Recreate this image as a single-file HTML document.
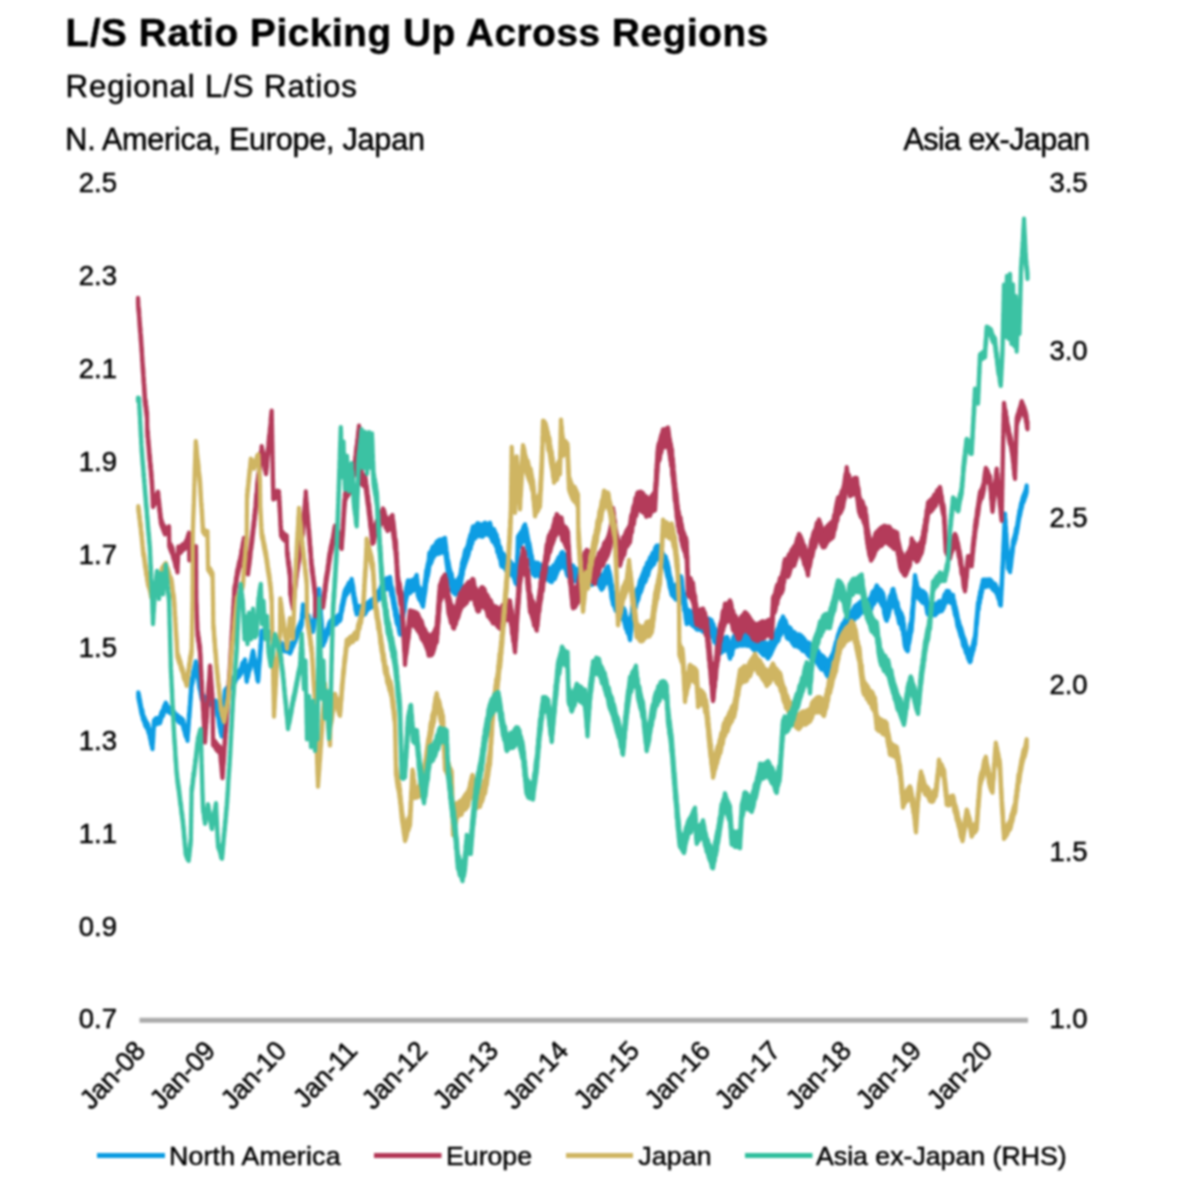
<!DOCTYPE html>
<html>
<head>
<meta charset="utf-8">
<title>L/S Ratio Picking Up Across Regions</title>
<style>
html,body{margin:0;padding:0;background:#fff;}
body{width:1200px;height:1200px;position:relative;overflow:hidden;font-family:"Liberation Sans",Arial,sans-serif;color:#111;}
.t{position:absolute;white-space:nowrap;line-height:1;color:#000;-webkit-text-stroke:0.5px #000;}
#title{left:65.5px;top:14.3px;font-size:38.6px;font-weight:bold;color:#000;letter-spacing:0.66px;}
#sub{left:65.6px;top:70.5px;font-size:31.2px;letter-spacing:0.86px;}
#lhs{left:65.3px;top:124.2px;font-size:30.6px;letter-spacing:-0.25px;}
#rhs{right:110.5px;top:124.2px;font-size:30.6px;letter-spacing:-0.6px;}
.yl{font-size:27.5px;left:78.8px;margin-top:-0.2px;}
.yr{font-size:27.5px;left:1049.4px;margin-top:-0.2px;}
.xl{font-size:27px;letter-spacing:-0.3px;transform-origin:100% 0;transform:rotate(-46.5deg);}
.lg{font-size:26.7px;top:1143px;}
svg{position:absolute;left:0;top:0;}
#page{position:absolute;left:0;top:0;width:1200px;height:1200px;background:#fff;filter:blur(1px);}
</style>
</head>
<body>
<div id="page">
<div class="t" id="title">L/S Ratio Picking Up Across Regions</div>
<div class="t" id="sub">Regional L/S Ratios</div>
<div class="t" id="lhs">N. America, Europe, Japan</div>
<div class="t" id="rhs">Asia ex-Japan</div>
<div class="t yl" style="top:169.5px">2.5</div>
<div class="t yl" style="top:262.4px">2.3</div>
<div class="t yl" style="top:355.3px">2.1</div>
<div class="t yl" style="top:448.2px">1.9</div>
<div class="t yl" style="top:541.1px">1.7</div>
<div class="t yl" style="top:634.0px">1.5</div>
<div class="t yl" style="top:726.9px">1.3</div>
<div class="t yl" style="top:819.8px">1.1</div>
<div class="t yl" style="top:912.7px">0.9</div>
<div class="t yl" style="top:1005.6px">0.7</div>
<div class="t yr" style="top:169.5px">3.5</div>
<div class="t yr" style="top:336.7px">3.0</div>
<div class="t yr" style="top:503.9px">2.5</div>
<div class="t yr" style="top:671.1px">2.0</div>
<div class="t yr" style="top:838.3px">1.5</div>
<div class="t yr" style="top:1005.5px">1.0</div>

<div class="t xl" style="right:1069.5px;top:1037px">Jan-08</div>
<div class="t xl" style="right:998.9px;top:1037px">Jan-09</div>
<div class="t xl" style="right:928.3px;top:1037px">Jan-10</div>
<div class="t xl" style="right:857.7px;top:1037px">Jan-11</div>
<div class="t xl" style="right:787.1px;top:1037px">Jan-12</div>
<div class="t xl" style="right:716.5px;top:1037px">Jan-13</div>
<div class="t xl" style="right:645.9px;top:1037px">Jan-14</div>
<div class="t xl" style="right:575.3px;top:1037px">Jan-15</div>
<div class="t xl" style="right:504.7px;top:1037px">Jan-16</div>
<div class="t xl" style="right:434.1px;top:1037px">Jan-17</div>
<div class="t xl" style="right:363.5px;top:1037px">Jan-18</div>
<div class="t xl" style="right:292.9px;top:1037px">Jan-19</div>
<div class="t xl" style="right:222.3px;top:1037px">Jan-20</div>

<svg width="1200" height="1200" viewBox="0 0 1200 1200">
<line x1="139.5" y1="1020.2" x2="1028" y2="1020.2" stroke="#ababab" stroke-width="4.9"/>
<!--SERIES-->
<polygon points="138.3,692.3 138.9,694.7 139.5,697.9 140.1,700.7 140.7,704.7 141.2,707.0 141.8,709.2 142.4,710.6 143.0,714.7 144.2,717.1 145.5,720.2 146.8,722.5 148.0,724.3 148.6,727.7 149.3,728.8 149.9,733.1 150.6,734.5 151.2,738.6 151.9,740.6 152.5,743.8 152.7,739.1 152.9,737.1 153.1,734.3 153.2,732.7 153.4,730.0 153.6,725.3 153.8,723.6 154.0,720.3 156.0,718.1 158.0,718.4 160.0,716.9 161.0,713.8 161.9,711.3 162.9,710.9 163.9,706.8 164.8,705.0 165.8,702.7 167.6,706.4 169.4,707.8 171.2,707.8 173.0,710.0 175.0,713.6 177.0,714.8 179.0,716.7 181.0,717.9 183.0,719.8 183.8,723.7 184.5,725.7 185.2,729.0 186.0,731.8 186.8,732.2 187.5,736.0 187.7,732.8 187.9,728.8 188.2,726.5 188.4,723.0 188.6,720.6 188.8,718.4 189.0,713.9 189.3,713.2 189.5,709.1 189.7,705.9 189.9,704.5 190.2,700.4 190.4,696.7 190.6,695.1 190.8,692.6 191.0,687.4 191.3,687.6 191.5,682.5 191.7,680.1 192.3,677.7 192.9,675.8 193.5,670.9 194.0,670.3 194.6,666.7 195.2,664.1 195.8,661.4 196.3,663.1 196.8,665.1 197.3,668.7 197.8,673.0 198.3,674.2 198.8,677.8 199.2,680.9 199.7,684.2 200.2,685.0 200.7,688.0 201.2,690.8 201.7,693.7 203.8,696.2 205.8,698.4 208.3,697.6 210.8,700.1 213.3,700.9 215.8,700.7 216.3,703.4 216.9,704.5 217.4,710.2 217.9,710.4 218.5,713.6 219.0,717.2 219.6,721.6 220.1,722.3 220.6,727.1 221.2,728.5 221.7,732.1 221.9,728.1 222.2,725.6 222.4,722.4 222.6,718.7 222.9,716.5 223.1,713.9 223.3,712.6 223.6,706.6 223.8,703.7 224.1,703.1 224.3,698.6 224.5,696.2 224.8,693.0 225.0,690.5 226.7,687.9 228.3,686.7 230.0,683.3 231.7,680.6 233.3,677.3 235.0,677.4 236.7,673.0 238.3,671.6 240.0,669.8 241.2,667.9 242.5,662.8 243.8,662.0 245.0,659.5 245.3,663.0 245.6,665.5 245.8,668.7 246.1,669.9 246.4,672.9 246.7,677.1 247.4,672.4 248.1,671.5 248.8,667.7 249.5,664.9 250.2,663.2 250.9,660.4 251.6,657.4 252.3,653.7 253.0,650.6 253.6,653.3 254.1,657.1 254.7,659.1 255.2,661.9 255.8,664.4 256.3,667.3 256.9,670.4 257.4,674.8 258.0,676.8 258.2,675.2 258.5,670.6 258.7,668.1 258.9,664.7 259.2,660.9 259.4,658.4 259.6,656.7 259.9,653.8 260.1,650.3 260.3,648.4 260.5,644.8 260.8,642.2 261.0,639.0 261.2,636.3 261.5,632.2 261.7,630.5 264.2,631.3 266.7,631.6 269.2,631.7 271.7,633.4 273.4,635.3 275.0,637.1 276.7,637.7 278.3,641.4 280.0,641.6 282.5,644.0 285.0,645.2 287.5,645.5 290.0,647.9 291.1,646.0 292.1,642.2 293.2,641.2 294.3,637.5 295.3,635.4 296.4,633.2 297.4,630.6 298.5,626.9 299.6,624.7 300.6,622.1 301.7,619.6 301.9,617.1 302.1,613.8 302.4,612.6 302.6,610.0 302.8,606.7 303.0,604.4 304.1,607.3 305.2,609.7 306.3,611.6 307.4,614.6 308.6,615.4 309.7,619.7 310.8,622.3 311.9,623.5 313.0,625.8 313.5,624.2 313.9,620.6 314.4,618.5 314.8,613.9 315.3,612.4 315.8,609.4 316.2,606.0 316.7,602.8 317.2,601.3 317.6,598.2 318.1,595.4 318.5,592.9 319.0,588.9 319.2,590.2 319.4,593.5 319.7,596.9 319.9,600.2 320.1,601.9 320.3,606.1 320.6,608.9 320.8,610.6 321.0,614.8 321.2,616.3 321.4,619.6 321.7,622.3 321.9,625.9 322.1,628.5 322.3,631.4 322.6,633.8 322.8,637.1 323.0,639.6 324.0,636.8 325.0,635.2 326.0,632.5 327.0,628.8 328.0,628.0 329.0,623.6 330.0,621.6 332.0,619.6 334.0,617.8 336.0,617.7 338.0,615.3 340.0,614.2 340.6,613.2 341.1,609.2 341.7,604.9 342.2,603.8 342.8,600.0 343.3,598.3 343.9,594.8 344.4,592.5 345.0,590.2 346.3,587.9 347.7,585.7 349.0,582.7 350.4,582.6 351.7,578.9 352.2,581.7 352.6,583.6 353.1,586.1 353.6,590.6 354.1,593.7 354.5,597.1 355.0,597.9 355.6,602.0 356.1,604.0 356.7,606.2 359.5,606.0 362.2,606.4 365.0,606.1 367.0,603.3 369.0,601.8 371.0,600.0 373.0,598.7 375.0,596.7 376.4,593.4 377.9,591.7 379.3,591.0 380.7,587.6 382.1,583.9 383.6,581.7 385.0,580.4 386.7,578.2 388.3,578.6 390.0,576.9 390.5,580.4 391.0,584.6 391.5,586.2 392.1,587.7 392.6,589.9 393.1,594.8 393.6,595.9 394.1,599.2 394.6,602.5 395.2,605.8 395.7,607.7 396.2,609.5 396.7,613.0 397.5,616.0 398.4,617.4 399.2,622.6 400.0,624.7 400.5,621.7 401.1,618.6 401.6,616.5 402.1,612.9 402.7,609.2 403.2,607.7 403.7,603.9 404.3,601.9 404.8,598.3 405.3,593.8 405.9,591.5 406.4,587.1 406.9,586.0 407.5,582.0 408.0,580.3 409.0,581.6 410.0,583.1 411.7,580.1 413.4,579.8 415.0,578.4 416.7,574.9 417.0,577.6 417.4,580.2 417.7,584.1 418.0,586.8 419.2,586.8 420.5,591.3 421.8,591.4 423.0,594.9 423.4,590.7 423.8,588.2 424.2,587.4 424.6,584.1 425.1,580.4 425.5,578.2 425.9,574.3 426.3,570.4 426.7,569.6 427.2,567.1 427.8,563.8 428.4,562.2 428.9,558.3 429.4,552.7 430.0,552.6 431.3,550.6 432.7,546.6 434.0,546.4 435.4,544.5 436.7,541.6 439.5,539.6 442.2,539.6 445.0,537.9 445.4,542.2 445.8,544.6 446.1,546.7 446.5,551.0 446.9,552.3 447.2,555.6 447.6,558.6 448.0,559.8 448.7,563.2 449.4,567.5 450.1,570.1 450.9,572.9 451.6,573.6 452.3,578.0 453.0,579.6 455.5,582.3 458.0,579.4 459.0,577.3 460.0,576.4 460.4,574.2 460.9,571.4 461.3,568.4 461.7,566.3 462.1,562.6 462.6,561.4 463.0,559.6 463.8,557.6 464.7,552.5 465.5,549.4 466.3,550.3 467.2,546.8 468.0,544.8 468.8,540.6 469.7,537.6 470.5,534.7 471.3,533.6 472.2,529.7 473.0,526.3 475.3,526.2 477.7,523.1 480.0,524.4 482.5,524.6 485.0,522.6 487.5,524.5 490.0,522.7 491.3,528.0 492.7,529.2 494.0,529.2 495.4,532.9 496.7,535.1 497.4,540.1 498.1,539.5 498.8,544.3 499.6,546.9 500.3,546.9 501.0,550.3 501.7,554.7 503.4,553.6 505.0,557.0 506.7,558.0 508.5,559.2 510.2,561.0 512.0,563.9 513.2,564.6 514.4,568.4 515.5,570.1 516.7,570.2 516.8,568.9 516.9,565.4 517.0,561.4 517.1,559.5 517.2,555.9 517.4,554.4 517.5,551.2 517.6,548.2 517.7,544.9 517.8,541.5 517.9,537.0 518.0,536.7 519.4,534.4 520.8,532.3 522.2,530.6 523.6,526.7 525.0,524.4 525.6,527.8 526.2,528.0 526.8,532.2 527.5,535.5 528.1,539.0 528.7,542.0 529.3,543.0 529.9,546.6 530.5,549.9 531.2,554.4 531.8,555.9 532.4,560.1 533.0,562.6 535.3,562.5 537.7,562.8 540.0,564.4 542.3,566.3 544.7,565.9 547.0,567.5 549.4,568.0 551.7,570.1 553.1,565.7 554.6,566.0 556.0,562.6 557.3,560.3 558.6,557.2 559.9,557.4 561.2,553.1 562.5,551.9 563.6,553.9 564.7,554.3 565.8,557.7 566.9,562.6 568.0,562.3 570.3,566.0 572.7,565.3 575.0,568.6 577.5,569.1 580.0,571.4 582.5,573.5 585.0,572.8 587.3,574.8 589.7,570.9 592.0,571.0 594.4,569.8 596.7,568.5 597.8,572.1 598.9,573.0 600.0,574.5 601.5,575.2 603.0,576.4 604.2,573.2 605.5,569.8 606.8,568.0 608.0,566.3 608.7,569.3 609.3,571.3 610.0,574.2 610.5,577.0 611.0,580.3 611.5,584.3 612.0,585.0 612.5,589.5 613.0,593.0 614.4,594.5 615.8,596.2 617.2,598.3 618.6,600.0 620.0,603.6 621.2,605.5 622.5,607.2 623.8,608.2 625.0,610.8 625.8,616.1 626.7,617.1 627.5,621.0 628.3,619.8 629.2,624.3 630.0,627.5 630.4,624.6 630.8,621.0 631.1,617.3 631.5,613.8 631.9,611.5 632.2,607.9 632.6,605.4 633.0,604.3 633.9,601.2 634.8,597.8 635.6,596.2 636.5,592.2 637.4,588.6 638.2,588.0 639.1,585.0 640.0,580.5 641.0,578.6 642.0,575.8 643.0,573.3 644.0,570.8 645.0,567.6 646.0,568.2 647.0,563.1 648.0,562.0 649.0,560.8 650.0,557.5 651.3,556.2 652.7,552.9 654.0,552.8 655.4,547.6 656.7,545.6 658.4,545.7 660.0,545.5 661.1,547.0 662.2,551.7 663.4,554.7 664.5,555.7 665.6,556.5 666.7,560.7 667.3,561.6 668.0,565.4 668.6,567.4 669.2,571.7 669.8,575.2 670.5,577.5 671.1,579.3 671.7,583.2 673.9,585.8 676.0,586.2 677.2,583.5 678.5,582.3 679.8,578.3 681.0,576.2 681.5,577.9 682.0,581.5 682.4,586.4 682.9,589.3 683.4,592.1 683.9,593.5 684.3,596.2 684.8,597.2 685.3,601.8 685.8,605.5 686.2,607.2 686.7,609.8 689.5,610.4 692.2,612.9 695.0,614.0 697.0,616.2 699.0,615.4 701.0,618.3 703.0,619.2 705.9,619.5 708.8,618.6 711.7,620.4 712.5,623.5 713.4,624.2 714.2,628.8 715.0,628.4 716.0,630.9 717.0,633.8 718.0,636.1 719.0,639.0 720.0,641.6 722.2,639.1 724.5,638.2 726.7,636.8 727.5,637.6 728.4,641.6 729.2,643.4 730.0,646.7 731.0,643.5 732.0,642.7 733.0,638.1 734.0,636.1 735.0,634.8 737.3,633.1 739.7,633.2 742.0,634.1 744.0,631.7 746.0,633.6 748.0,632.3 750.2,632.8 752.4,633.8 754.5,637.1 756.7,635.9 759.0,639.2 761.2,640.7 763.5,642.4 765.7,642.3 768.0,646.4 769.4,643.5 770.8,641.0 772.2,637.8 773.6,637.4 775.0,635.1 776.1,633.0 777.3,629.4 778.4,627.8 779.6,623.7 780.7,621.2 781.9,619.2 783.0,616.5 784.2,619.4 785.5,620.6 786.8,625.2 788.0,626.7 790.2,627.6 792.4,631.9 794.5,632.2 796.7,635.0 798.7,634.3 800.7,635.1 802.7,637.2 804.7,639.6 806.7,643.0 808.9,642.6 811.1,646.5 813.4,649.2 815.6,649.9 817.8,650.3 820.0,654.3 821.6,655.2 823.2,656.3 824.8,658.2 826.4,659.8 828.0,664.1 829.2,661.9 830.5,658.0 831.8,655.5 833.0,653.2 833.7,651.1 834.4,648.0 835.1,645.6 835.9,642.1 836.6,641.2 837.3,638.0 838.0,635.0 839.2,631.6 840.3,628.3 841.5,626.2 842.7,623.4 843.8,622.9 845.0,619.9 846.6,617.3 848.2,616.4 849.8,612.7 851.4,612.0 853.0,609.6 855.0,606.1 857.0,604.8 859.0,603.0 861.0,601.3 863.0,601.9 865.3,600.9 867.7,600.2 870.0,598.7 871.3,596.0 872.7,591.7 874.0,591.0 875.4,588.8 876.7,585.4 878.3,588.2 879.9,589.2 881.4,590.8 883.0,593.3 883.6,595.9 884.2,600.1 884.9,602.5 885.5,604.5 886.1,605.9 886.7,608.6 887.4,605.6 888.2,603.5 888.9,601.7 889.6,597.5 890.3,595.6 891.0,595.2 891.8,592.3 892.5,589.4 893.3,588.9 894.2,593.4 895.0,595.4 895.9,599.6 896.7,601.6 897.5,602.5 898.4,608.5 899.2,609.4 900.0,612.2 901.0,612.5 902.0,615.1 903.0,618.0 903.3,621.8 903.7,623.1 904.0,625.4 904.3,628.9 904.7,632.5 905.0,633.2 905.8,636.8 906.7,637.7 907.5,640.3 908.0,638.2 908.5,634.6 909.1,631.7 909.6,628.3 910.1,624.7 910.7,622.7 911.2,622.2 911.7,616.9 911.9,612.3 912.2,610.4 912.4,608.2 912.6,606.9 912.9,603.2 913.1,598.9 913.4,596.3 913.6,593.0 913.8,590.0 914.1,586.9 914.3,586.3 914.5,582.4 914.8,578.4 915.0,575.1 915.8,579.5 916.5,581.8 917.2,586.0 918.0,587.8 920.3,590.2 922.7,590.9 925.0,593.0 925.8,594.1 926.5,597.3 927.2,602.5 928.0,603.1 930.3,604.3 932.7,602.9 935.0,604.9 937.2,603.2 939.5,601.1 941.7,602.6 942.7,601.4 943.7,597.8 944.7,594.1 945.7,594.3 946.7,590.9 948.8,591.1 950.9,595.3 953.0,594.8 953.6,600.0 954.2,600.8 954.9,605.1 955.5,606.5 956.1,609.1 956.8,612.3 957.4,615.5 958.0,619.0 958.8,621.2 959.7,624.9 960.5,626.6 961.3,628.8 962.2,632.3 963.0,635.3 964.0,637.8 965.0,640.2 966.0,644.5 967.0,646.9 968.0,650.4 969.0,652.5 970.0,653.5 970.7,652.2 971.4,649.3 972.1,646.7 972.9,644.7 973.6,641.4 974.3,638.9 975.0,636.2 975.2,634.4 975.5,631.6 975.8,628.8 976.0,624.9 976.2,622.1 976.5,619.2 976.8,616.8 977.0,614.0 977.2,612.0 977.5,608.8 977.8,604.9 978.0,602.6 978.6,602.0 979.1,597.5 979.7,595.6 980.2,591.5 980.8,590.5 981.3,587.9 981.9,584.8 982.4,583.0 983.0,579.7 985.3,579.7 987.7,579.6 990.0,579.3 991.7,581.2 993.4,583.5 995.0,583.8 996.7,587.1 997.5,589.9 998.3,592.8 999.2,593.5 1000.0,597.9 1000.8,599.0 1000.9,596.2 1001.1,594.3 1001.2,589.8 1001.4,587.8 1001.5,584.6 1001.7,582.5 1001.8,580.5 1002.0,578.2 1002.1,574.5 1002.3,571.1 1002.4,566.9 1002.6,565.6 1002.7,562.6 1002.9,560.2 1003.0,556.3 1003.1,553.3 1003.3,551.6 1003.4,547.3 1003.5,544.9 1003.7,541.2 1003.8,539.8 1003.9,537.8 1004.1,532.0 1004.2,530.4 1004.3,528.3 1004.5,523.4 1004.6,520.0 1004.7,519.0 1004.9,516.6 1005.0,513.5 1005.2,517.4 1005.4,519.5 1005.5,520.7 1005.7,524.9 1005.9,527.1 1006.1,531.4 1006.2,532.2 1006.4,534.9 1006.6,538.8 1006.8,543.5 1006.9,544.1 1007.1,546.9 1007.3,549.4 1007.5,553.0 1007.6,557.0 1007.8,558.3 1008.0,561.3 1009.0,563.7 1010.0,565.3 1010.3,563.5 1010.7,560.4 1011.0,558.5 1011.3,555.7 1011.7,551.4 1012.0,549.6 1012.3,548.0 1012.7,545.6 1013.0,541.3 1013.6,539.0 1014.2,537.4 1014.9,534.9 1015.5,532.6 1016.1,528.3 1016.7,527.4 1017.2,525.2 1017.6,523.0 1018.1,519.5 1018.6,516.1 1019.1,513.8 1019.5,510.5 1020.0,509.5 1020.6,506.0 1021.2,502.9 1021.8,502.0 1022.4,498.8 1023.0,496.8 1023.9,494.7 1024.8,492.7 1025.8,489.6 1026.7,485.5 1026.7,492.0 1025.8,495.6 1024.8,498.1 1023.9,501.3 1023.0,502.9 1022.4,504.0 1021.8,507.4 1021.2,509.5 1020.6,512.1 1020.0,515.4 1019.5,516.9 1019.1,518.9 1018.6,521.7 1018.1,524.8 1017.6,528.1 1017.2,530.4 1016.7,533.5 1016.1,535.2 1015.5,539.5 1014.9,540.6 1014.2,543.7 1013.6,544.6 1013.0,547.5 1012.7,551.4 1012.3,554.1 1012.0,556.6 1011.7,558.2 1011.3,562.5 1011.0,565.1 1010.7,567.6 1010.3,569.6 1010.0,572.2 1009.0,569.2 1008.0,568.6 1007.8,565.1 1007.6,562.9 1007.5,559.3 1007.3,555.2 1007.1,553.2 1006.9,550.7 1006.8,548.8 1006.6,545.9 1006.4,541.3 1006.2,538.5 1006.1,537.5 1005.9,533.9 1005.7,529.9 1005.5,527.1 1005.4,525.7 1005.2,522.6 1005.0,518.6 1004.9,522.6 1004.7,525.7 1004.6,526.8 1004.5,530.7 1004.3,534.2 1004.2,536.8 1004.1,539.6 1003.9,543.8 1003.8,546.2 1003.7,548.2 1003.5,551.6 1003.4,553.2 1003.3,558.4 1003.1,560.5 1003.0,563.1 1002.9,566.5 1002.7,569.2 1002.6,572.8 1002.4,573.8 1002.3,577.0 1002.1,580.2 1002.0,584.7 1001.8,586.6 1001.7,589.3 1001.5,591.5 1001.4,594.6 1001.2,596.8 1001.1,600.7 1000.9,603.3 1000.8,605.7 1000.0,604.8 999.2,599.9 998.3,598.6 997.5,595.4 996.7,593.6 995.0,591.0 993.4,590.1 991.7,588.0 990.0,585.3 987.7,586.4 985.3,586.9 983.0,585.6 982.4,589.7 981.9,592.4 981.3,594.2 980.8,598.1 980.2,599.1 979.7,603.2 979.1,604.5 978.6,609.6 978.0,610.7 977.8,613.2 977.5,616.9 977.2,619.9 977.0,622.5 976.8,624.2 976.5,626.2 976.2,628.4 976.0,632.8 975.8,635.6 975.5,638.1 975.2,641.3 975.0,644.4 974.3,645.8 973.6,649.8 972.9,651.3 972.1,654.9 971.4,656.6 970.7,661.1 970.0,662.3 969.0,660.1 968.0,658.0 967.0,653.9 966.0,653.0 965.0,648.7 964.0,647.1 963.0,645.0 962.2,640.1 961.3,637.6 960.5,635.6 959.7,632.4 958.8,629.6 958.0,627.4 957.4,625.3 956.8,621.2 956.1,617.1 955.5,616.1 954.9,614.3 954.2,610.2 953.6,608.1 953.0,603.6 950.9,602.9 948.8,601.6 946.7,600.2 945.7,603.2 944.7,604.5 943.7,607.7 942.7,609.6 941.7,611.2 939.5,611.5 937.2,612.9 935.0,615.4 932.7,614.1 930.3,615.1 928.0,614.6 927.2,612.6 926.5,607.7 925.8,605.0 925.0,602.7 922.7,602.8 920.3,600.1 918.0,597.9 917.2,596.1 916.5,594.6 915.8,590.7 915.0,587.8 914.8,589.7 914.5,593.6 914.3,598.1 914.1,598.9 913.8,603.2 913.6,603.3 913.4,607.2 913.1,611.1 912.9,614.2 912.6,619.1 912.4,620.8 912.2,622.9 911.9,625.0 911.7,629.4 911.2,632.5 910.7,633.3 910.1,637.8 909.6,640.6 909.1,643.3 908.5,645.1 908.0,650.2 907.5,651.2 906.7,650.1 905.8,649.0 905.0,646.4 904.7,645.1 904.3,641.6 904.0,639.0 903.7,635.5 903.3,635.0 903.0,630.8 902.0,629.5 901.0,624.6 900.0,624.1 899.2,623.4 898.4,619.4 897.5,615.2 896.7,613.8 895.9,610.0 895.0,607.5 894.2,605.7 893.3,601.0 892.5,600.5 891.8,604.7 891.0,607.4 890.3,608.0 889.6,610.9 888.9,613.8 888.2,617.2 887.4,618.1 886.7,620.8 886.1,619.8 885.5,618.2 884.9,615.9 884.2,613.1 883.6,607.5 883.0,607.0 881.4,604.2 879.9,601.3 878.3,598.4 876.7,600.0 875.4,601.3 874.0,604.0 872.7,604.4 871.3,609.1 870.0,611.6 867.7,611.6 865.3,611.7 863.0,611.9 861.0,613.0 859.0,615.5 857.0,617.5 855.0,618.1 853.0,622.2 851.4,623.0 849.8,625.6 848.2,628.6 846.6,630.6 845.0,630.2 843.8,633.6 842.7,636.2 841.5,638.9 840.3,639.9 839.2,644.5 838.0,647.1 837.3,649.1 836.6,651.8 835.9,654.9 835.1,657.0 834.4,660.8 833.7,661.9 833.0,666.1 831.8,668.8 830.5,671.1 829.2,672.6 828.0,676.9 826.4,674.5 824.8,670.9 823.2,668.5 821.6,669.5 820.0,667.2 817.8,663.9 815.6,660.3 813.4,659.8 811.1,657.8 808.9,656.3 806.7,653.2 804.7,651.0 802.7,650.9 800.7,648.2 798.7,647.4 796.7,645.8 794.5,646.1 792.4,643.1 790.2,639.2 788.0,638.9 786.8,637.6 785.5,632.2 784.2,630.4 783.0,630.0 781.9,632.4 780.7,635.2 779.6,635.8 778.4,640.8 777.3,640.9 776.1,643.4 775.0,645.0 773.6,647.9 772.2,651.0 770.8,654.3 769.4,656.4 768.0,658.5 765.7,655.0 763.5,655.3 761.2,652.9 759.0,650.1 756.7,648.9 754.5,650.5 752.4,648.4 750.2,645.6 748.0,645.9 746.0,645.4 744.0,645.3 742.0,645.7 739.7,644.9 737.3,646.4 735.0,645.8 734.0,647.8 733.0,649.1 732.0,655.1 731.0,654.9 730.0,658.6 729.2,655.6 728.4,652.4 727.5,650.0 726.7,649.5 724.5,650.7 722.2,652.0 720.0,653.6 719.0,651.6 718.0,647.4 717.0,646.6 716.0,642.1 715.0,642.6 714.2,641.8 713.4,637.6 712.5,637.3 711.7,632.1 708.8,631.9 705.9,629.6 703.0,631.8 701.0,629.9 699.0,629.5 697.0,629.6 695.0,627.3 692.2,625.3 689.5,622.1 686.7,624.1 686.2,620.5 685.8,618.7 685.3,614.1 684.8,609.5 684.3,610.6 683.9,604.4 683.4,604.5 682.9,600.6 682.4,598.1 682.0,593.9 681.5,590.6 681.0,589.0 679.8,591.4 678.5,593.3 677.2,594.8 676.0,599.6 673.9,597.1 671.7,594.9 671.1,592.0 670.5,589.5 669.8,587.6 669.2,583.9 668.6,580.0 668.0,578.3 667.3,576.2 666.7,573.3 665.6,568.7 664.5,566.3 663.4,566.2 662.2,564.9 661.1,559.9 660.0,558.8 658.4,559.2 656.7,559.6 655.4,559.7 654.0,564.4 652.7,564.9 651.3,567.1 650.0,568.4 649.0,571.0 648.0,575.7 647.0,576.2 646.0,579.9 645.0,582.2 644.0,581.8 643.0,585.2 642.0,588.4 641.0,591.6 640.0,593.3 639.1,595.6 638.2,599.9 637.4,601.1 636.5,603.4 635.6,608.3 634.8,609.1 633.9,612.3 633.0,615.8 632.6,619.2 632.2,621.5 631.9,625.0 631.5,627.3 631.1,631.4 630.8,632.6 630.4,637.3 630.0,640.1 629.2,636.4 628.3,632.5 627.5,633.0 626.7,629.6 625.8,628.6 625.0,624.9 623.8,619.9 622.5,619.0 621.2,617.4 620.0,617.3 618.6,613.6 617.2,611.8 615.8,610.8 614.4,606.4 613.0,604.5 612.5,601.3 612.0,599.6 611.5,597.3 611.0,591.6 610.5,589.4 610.0,586.2 609.3,583.2 608.7,582.8 608.0,579.2 606.8,579.8 605.5,583.8 604.2,585.1 603.0,588.1 601.5,589.7 600.0,587.0 598.9,585.0 597.8,582.7 596.7,582.4 594.4,582.2 592.0,585.0 589.7,583.6 587.3,584.9 585.0,585.6 582.5,585.1 580.0,585.2 577.5,581.7 575.0,581.3 572.7,578.3 570.3,576.9 568.0,576.5 566.9,574.7 565.8,569.3 564.7,568.6 563.6,565.3 562.5,563.7 561.2,565.9 559.9,568.6 558.6,569.5 557.3,572.4 556.0,575.6 554.6,579.1 553.1,578.7 551.7,582.1 549.4,581.0 547.0,579.0 544.7,578.0 542.3,579.1 540.0,577.1 537.7,573.6 535.3,576.3 533.0,574.0 532.4,571.1 531.8,567.0 531.2,566.0 530.5,562.0 529.9,557.6 529.3,555.8 528.7,553.3 528.1,550.2 527.5,547.9 526.8,544.3 526.2,540.5 525.6,539.0 525.0,535.2 523.6,539.4 522.2,542.5 520.8,544.2 519.4,546.6 518.0,548.8 517.9,551.4 517.8,555.0 517.7,555.0 517.6,561.0 517.5,563.3 517.4,565.6 517.2,569.0 517.1,572.1 517.0,575.2 516.9,577.3 516.8,582.5 516.7,584.5 515.5,583.2 514.4,579.1 513.2,576.3 512.0,575.2 510.2,574.4 508.5,573.6 506.7,571.7 505.0,568.6 503.4,566.9 501.7,566.5 501.0,564.5 500.3,559.3 499.6,558.4 498.8,555.9 498.1,551.9 497.4,552.4 496.7,547.4 495.4,545.3 494.0,541.4 492.7,541.8 491.3,538.3 490.0,535.8 487.5,534.7 485.0,534.1 482.5,536.8 480.0,536.3 477.7,535.0 475.3,538.4 473.0,539.6 472.2,543.5 471.3,544.9 470.5,549.0 469.7,548.2 468.8,553.2 468.0,556.1 467.2,558.4 466.3,560.9 465.5,563.1 464.7,565.4 463.8,568.5 463.0,570.6 462.6,575.0 462.1,575.3 461.7,578.9 461.3,580.5 460.9,585.0 460.4,587.3 460.0,589.8 459.0,590.2 458.0,592.0 455.5,594.6 453.0,592.2 452.3,591.0 451.6,587.8 450.9,583.3 450.1,582.0 449.4,579.6 448.7,574.5 448.0,572.7 447.6,570.4 447.2,566.8 446.9,565.1 446.5,562.3 446.1,558.6 445.8,556.7 445.4,554.2 445.0,550.9 442.2,552.6 439.5,553.4 436.7,554.1 435.4,554.6 434.0,556.6 432.7,558.3 431.3,562.7 430.0,564.8 429.4,564.9 428.9,569.6 428.4,572.9 427.8,576.2 427.2,577.4 426.7,581.4 426.3,581.8 425.9,585.6 425.5,589.8 425.1,592.7 424.6,595.3 424.2,597.8 423.8,601.1 423.4,603.4 423.0,606.7 421.8,603.7 420.5,600.6 419.2,599.4 418.0,595.9 417.7,595.0 417.4,590.8 417.0,589.4 416.7,585.9 415.0,587.0 413.4,590.8 411.7,590.9 410.0,593.3 409.0,592.7 408.0,589.4 407.5,592.5 406.9,596.5 406.4,598.1 405.9,600.5 405.3,603.2 404.8,608.6 404.3,611.4 403.7,612.8 403.2,617.1 402.7,619.1 402.1,622.9 401.6,626.3 401.1,628.3 400.5,630.9 400.0,634.7 399.2,631.6 398.4,626.5 397.5,624.8 396.7,623.1 396.2,620.0 395.7,617.1 395.2,615.8 394.6,610.1 394.1,609.1 393.6,605.9 393.1,603.3 392.6,600.0 392.1,597.2 391.5,595.9 391.0,593.1 390.5,588.3 390.0,585.7 388.3,589.2 386.7,587.0 385.0,589.8 383.6,591.0 382.1,594.0 380.7,595.1 379.3,599.0 377.9,599.9 376.4,601.9 375.0,604.7 373.0,606.2 371.0,607.5 369.0,608.9 367.0,610.3 365.0,614.2 362.2,615.3 359.5,612.9 356.7,614.4 356.1,611.6 355.6,610.3 355.0,605.0 354.5,603.3 354.1,600.7 353.6,597.7 353.1,594.2 352.6,591.9 352.2,588.7 351.7,585.6 350.4,589.1 349.0,589.4 347.7,593.2 346.3,594.9 345.0,596.9 344.4,599.5 343.9,601.7 343.3,605.1 342.8,606.4 342.2,610.7 341.7,612.0 341.1,614.9 340.6,619.3 340.0,620.8 338.0,621.9 336.0,624.5 334.0,624.6 332.0,626.8 330.0,628.4 329.0,629.3 328.0,634.2 327.0,635.3 326.0,638.4 325.0,641.3 324.0,642.9 323.0,645.8 322.8,642.8 322.6,639.4 322.3,636.6 322.1,633.8 321.9,631.0 321.7,628.0 321.4,624.7 321.2,622.3 321.0,620.4 320.8,616.9 320.6,615.0 320.3,612.6 320.1,608.7 319.9,606.2 319.7,603.4 319.4,600.0 319.2,596.7 319.0,595.0 318.5,598.3 318.1,600.3 317.6,603.8 317.2,606.3 316.7,608.7 316.2,612.3 315.8,614.9 315.3,618.5 314.8,620.1 314.4,624.0 313.9,626.7 313.5,629.5 313.0,631.9 311.9,629.3 310.8,628.6 309.7,625.0 308.6,621.0 307.4,619.1 306.3,617.0 305.2,615.1 304.1,612.7 303.0,609.7 302.8,612.8 302.6,615.4 302.4,618.1 302.1,619.0 301.9,622.8 301.7,625.2 300.6,628.6 299.6,631.0 298.5,632.0 297.4,635.6 296.4,638.6 295.3,641.5 294.3,643.4 293.2,646.4 292.1,647.9 291.1,651.4 290.0,653.5 287.5,651.3 285.0,651.4 282.5,650.1 280.0,647.4 278.3,646.9 276.7,644.2 275.0,642.5 273.4,641.2 271.7,638.5 269.2,637.5 266.7,636.9 264.2,637.4 261.7,636.1 261.5,638.3 261.2,642.3 261.0,644.4 260.8,648.1 260.5,651.4 260.3,653.3 260.1,656.3 259.9,660.1 259.6,662.5 259.4,664.6 259.2,666.6 258.9,670.3 258.7,673.9 258.5,677.0 258.2,680.4 258.0,681.6 257.4,679.9 256.9,675.8 256.3,673.0 255.8,670.7 255.2,667.2 254.7,664.7 254.1,662.8 253.6,659.0 253.0,656.3 252.3,659.8 251.6,662.8 250.9,665.3 250.2,669.1 249.5,670.4 248.8,672.7 248.1,676.7 247.4,678.0 246.7,681.8 246.4,678.7 246.1,675.7 245.8,673.6 245.6,670.3 245.3,668.4 245.0,664.5 243.8,668.2 242.5,668.2 241.2,673.3 240.0,675.2 238.3,677.4 236.7,678.5 235.0,682.4 233.3,682.5 231.7,686.7 230.0,689.0 228.3,691.4 226.7,694.2 225.0,696.2 224.8,697.8 224.5,701.9 224.3,704.1 224.1,708.4 223.8,708.9 223.6,713.0 223.3,717.6 223.1,719.9 222.9,721.9 222.6,723.9 222.4,727.4 222.2,730.9 221.9,733.7 221.7,736.5 221.2,734.1 220.6,732.7 220.1,728.6 219.6,727.2 219.0,723.5 218.5,719.1 217.9,716.0 217.4,715.9 216.9,710.4 216.3,709.0 215.8,705.8 213.3,706.0 210.8,704.7 208.3,702.5 205.8,702.9 203.8,702.3 201.7,699.0 201.2,696.1 200.7,693.7 200.2,690.1 199.7,689.3 199.2,686.6 198.8,683.1 198.3,679.7 197.8,678.0 197.3,673.7 196.8,670.8 196.3,668.2 195.8,666.8 195.2,669.7 194.6,671.7 194.0,675.9 193.5,676.5 192.9,681.2 192.3,683.9 191.7,685.9 191.5,687.3 191.3,692.1 191.0,693.5 190.8,698.4 190.6,700.0 190.4,702.6 190.2,705.7 189.9,709.5 189.7,712.0 189.5,714.9 189.3,717.9 189.0,719.2 188.8,723.5 188.6,725.8 188.4,728.4 188.2,732.0 187.9,734.0 187.7,737.4 187.5,740.8 186.8,737.5 186.0,737.2 185.2,734.7 184.5,731.3 183.8,729.5 183.0,725.6 181.0,722.9 179.0,722.4 177.0,719.5 175.0,718.3 173.0,715.8 171.2,713.5 169.4,712.7 167.6,711.4 165.8,707.9 164.8,710.3 163.9,712.8 162.9,716.0 161.9,716.7 161.0,719.7 160.0,723.2 158.0,723.7 156.0,724.3 154.0,726.0 153.8,729.2 153.6,730.5 153.4,735.2 153.2,738.4 153.1,740.0 152.9,743.1 152.7,744.5 152.5,749.2 151.9,746.2 151.2,744.0 150.6,740.2 149.9,737.8 149.3,733.9 148.6,733.0 148.0,730.1 146.8,728.0 145.5,726.3 144.2,721.9 143.0,719.3 142.4,716.0 141.8,714.9 141.2,712.3 140.7,709.5 140.1,706.4 139.5,703.4 138.9,700.6 138.3,697.2" fill="#0d9de3" stroke="#0d9de3" stroke-width="4.2" stroke-linejoin="round"/>
<polygon points="138.0,297.9 138.2,300.9 138.4,304.4 138.6,306.7 138.9,308.8 139.1,311.1 139.3,315.7 139.5,318.0 139.7,321.1 139.9,323.0 140.1,326.7 140.4,328.3 140.6,332.7 140.8,334.7 141.0,336.7 141.2,339.9 141.4,343.1 141.6,346.7 141.8,347.8 142.0,352.1 142.1,355.6 142.3,357.0 142.5,361.1 142.7,363.7 142.9,366.3 143.1,368.0 143.3,370.4 143.5,375.2 143.7,377.6 143.9,380.5 144.0,382.4 144.2,384.4 144.4,388.5 144.6,390.7 144.8,395.0 145.0,397.6 145.3,399.5 145.7,400.9 146.0,404.5 146.3,406.2 146.7,410.9 147.0,412.1 147.1,415.8 147.1,417.4 147.2,420.5 147.2,422.9 147.2,425.8 147.3,426.6 147.5,431.6 147.8,431.2 148.0,435.2 148.3,438.9 148.5,440.6 148.8,444.8 149.0,447.1 149.2,449.1 149.5,453.8 149.8,455.0 150.0,457.7 150.2,461.8 150.5,463.6 150.8,465.8 151.0,468.9 151.2,470.8 151.5,473.7 151.8,478.7 152.0,480.3 152.1,483.0 152.2,484.3 152.4,489.0 152.5,490.1 152.6,492.7 152.8,496.8 152.9,498.7 153.0,501.0 154.2,497.9 155.5,496.9 156.8,494.1 158.0,491.8 158.3,493.6 158.6,499.3 158.9,499.6 159.2,502.7 159.6,506.2 159.9,508.2 160.2,512.4 160.5,514.0 160.8,517.5 161.9,521.5 162.9,524.0 163.9,525.6 165.0,528.1 167.0,528.1 169.0,526.3 169.1,528.1 169.1,531.8 169.2,534.2 169.2,536.4 169.2,538.2 169.3,541.3 170.1,544.1 170.9,544.7 171.7,546.4 172.5,548.1 173.4,553.5 174.2,554.9 175.0,557.4 175.8,561.7 176.7,562.8 177.5,566.7 177.6,561.9 177.7,559.3 177.8,558.8 178.0,554.5 178.1,552.4 178.2,550.1 178.3,546.6 180.5,546.5 182.8,544.2 185.0,543.4 186.0,540.9 187.0,539.4 188.0,535.6 189.0,532.7 189.0,534.8 189.1,538.3 189.1,540.8 189.2,543.0 189.2,546.3 189.2,548.7 189.3,552.5 189.3,555.6 191.2,554.2 193.0,552.8 194.0,551.6 195.0,549.1 196.0,546.2 196.0,549.5 196.0,551.6 196.1,554.4 196.1,556.9 196.1,560.0 196.1,563.5 196.1,566.3 196.1,569.5 196.2,570.9 196.2,573.6 196.2,577.4 196.2,579.0 196.2,582.2 196.2,586.9 196.2,587.2 196.3,591.5 196.3,594.3 196.3,596.7 196.4,600.5 196.5,603.4 196.6,604.0 196.7,606.8 196.8,611.6 196.9,614.5 197.0,615.9 197.1,619.7 197.2,622.5 197.3,624.0 197.4,627.0 197.5,630.5 197.9,631.6 198.3,635.9 198.8,638.0 199.2,642.1 199.6,644.1 200.0,646.7 200.1,649.3 200.3,653.5 200.4,654.8 200.6,656.7 200.7,660.9 200.8,663.8 201.0,667.5 201.1,669.3 201.3,671.8 201.4,673.9 201.6,678.4 201.7,679.5 201.9,682.5 202.0,686.0 202.2,690.4 202.4,692.4 202.6,696.1 202.7,697.2 202.9,701.7 203.1,704.2 203.3,705.3 203.4,711.1 203.6,713.4 203.8,714.9 204.0,719.0 204.1,721.7 204.3,723.4 204.5,727.5 204.7,729.8 204.8,733.7 205.0,735.7 205.2,734.2 205.4,730.3 205.6,728.9 205.8,723.2 206.0,722.7 206.2,718.3 206.5,716.9 206.7,713.2 206.9,710.9 207.1,706.0 207.3,702.4 207.5,701.5 207.7,698.7 207.9,695.7 208.1,691.5 208.3,688.6 208.5,685.8 208.8,682.0 209.0,681.5 209.2,678.7 209.4,676.0 209.6,672.2 209.8,668.6 210.0,665.6 210.2,667.2 210.5,672.3 210.7,673.8 210.9,677.8 211.1,679.5 211.4,682.9 211.6,685.3 211.8,687.3 212.0,691.7 212.3,693.6 212.5,697.6 212.5,700.1 212.6,702.0 212.6,704.9 212.6,707.4 212.7,711.8 212.7,714.2 212.7,716.5 212.8,719.2 212.8,722.7 212.8,725.7 212.9,727.7 212.9,729.4 212.9,732.4 213.0,736.1 213.0,738.8 214.8,741.0 216.5,743.3 218.2,745.6 220.0,746.8 220.3,749.7 220.6,752.0 220.8,754.6 221.1,758.4 221.4,761.3 221.7,765.1 221.9,766.3 222.2,769.4 222.5,771.8 222.7,769.9 222.9,766.7 223.1,763.7 223.3,760.5 223.6,758.1 223.8,756.4 224.0,750.5 224.2,749.8 224.4,745.5 224.6,742.7 224.8,739.3 225.0,738.4 225.2,733.3 225.4,732.0 225.6,728.1 225.9,724.9 226.1,721.3 226.3,720.2 226.5,717.3 226.7,713.5 226.9,710.1 227.1,708.8 227.3,705.8 227.5,701.5 227.7,699.4 227.9,697.2 228.1,694.0 228.3,689.5 228.4,688.5 228.6,684.0 228.8,680.4 229.0,680.3 229.2,674.8 229.4,673.3 229.6,671.0 229.8,667.5 230.0,663.8 230.2,661.3 230.4,658.2 230.5,654.7 230.7,652.1 230.9,648.7 231.1,647.5 231.2,644.2 231.4,641.0 231.6,636.3 231.8,635.2 231.9,631.0 232.1,629.3 232.3,625.8 232.5,623.7 232.6,620.1 232.8,616.9 233.0,613.5 233.2,611.6 233.3,606.9 233.5,606.4 233.7,601.4 233.8,599.2 234.0,596.7 234.1,594.0 234.2,593.1 234.3,589.0 234.8,585.5 235.2,584.7 235.7,581.9 236.1,577.3 236.6,576.2 237.0,572.1 237.6,569.0 238.2,566.7 238.8,563.8 239.4,560.9 240.0,560.2 240.5,556.5 241.0,555.1 241.5,550.2 242.0,549.2 242.5,546.2 243.0,542.6 243.5,540.7 244.0,537.9 244.4,539.6 244.7,544.1 245.1,546.4 245.5,548.8 245.8,551.3 246.2,554.6 246.5,556.8 246.9,559.6 247.3,562.2 247.6,566.8 248.0,568.0 248.4,564.2 248.7,562.6 249.1,560.6 249.5,556.9 249.8,555.1 250.2,552.1 250.5,548.1 250.9,544.9 251.3,542.9 251.6,540.0 252.0,536.7 252.3,534.9 252.6,531.2 252.9,529.9 253.2,527.0 253.5,523.8 253.8,521.3 254.1,518.9 254.4,514.9 254.7,513.3 255.0,509.5 255.2,508.1 255.5,505.4 255.8,500.8 256.0,498.5 256.2,494.9 256.5,493.8 256.8,491.5 257.0,488.1 257.2,484.1 257.5,481.6 257.8,478.9 258.0,477.6 258.3,474.5 258.7,472.5 259.0,469.7 259.3,465.0 259.7,462.4 260.0,459.5 260.4,458.3 260.7,455.1 261.0,451.6 261.4,450.4 261.7,446.0 262.2,448.9 262.8,452.0 263.3,453.6 263.9,457.3 264.4,460.8 264.9,463.7 265.5,465.0 266.0,467.5 266.3,465.9 266.6,462.3 266.9,460.2 267.1,455.2 267.4,452.7 267.7,450.5 268.0,448.9 268.3,445.9 268.6,442.0 268.9,439.0 269.1,435.5 269.4,434.9 269.7,432.1 270.0,427.7 270.3,426.6 270.6,422.7 270.8,418.5 271.1,415.9 271.4,412.7 271.7,410.6 271.8,414.8 271.8,417.4 271.9,419.4 271.9,422.2 272.0,425.3 272.0,428.7 272.1,431.4 272.1,433.3 272.2,435.6 272.2,439.6 272.3,442.0 272.4,446.7 272.4,449.0 272.5,451.9 272.5,455.7 272.6,457.0 272.6,461.3 272.7,461.8 272.7,464.4 272.8,469.1 272.8,470.1 272.9,475.3 272.9,477.3 273.0,479.4 273.1,482.1 273.1,484.5 273.2,488.5 273.2,489.6 273.3,493.6 275.2,493.3 277.1,490.6 279.0,491.3 279.1,494.4 279.3,496.3 279.4,500.2 279.6,501.4 279.7,505.6 279.9,507.3 280.0,509.9 280.1,511.7 280.3,516.5 280.4,520.0 280.6,520.9 280.7,524.4 280.9,526.3 281.0,529.9 282.9,532.5 284.8,534.4 286.7,535.3 286.8,537.3 286.8,539.8 286.9,540.6 286.9,544.2 287.0,547.1 287.3,550.5 287.7,552.8 288.0,557.0 288.3,559.6 288.7,561.0 289.0,563.5 289.3,566.1 289.7,569.0 290.0,571.4 290.1,574.7 290.1,578.9 290.1,580.0 290.2,584.7 290.2,586.3 290.3,588.7 290.8,591.3 291.4,594.8 291.9,598.4 292.5,600.9 293.0,602.8 293.3,599.0 293.6,597.8 293.9,594.7 294.2,591.8 294.5,589.0 294.8,585.3 295.2,582.4 295.5,580.1 295.8,577.6 296.1,574.7 296.4,571.1 296.7,569.9 297.0,566.6 297.4,564.4 297.9,562.3 298.3,557.3 298.7,556.3 299.1,553.4 299.6,549.4 300.0,548.5 300.4,543.5 300.9,540.4 301.3,537.1 301.7,536.9 302.1,532.1 302.6,529.4 303.0,526.7 303.2,524.7 303.5,520.9 303.7,518.3 303.9,513.8 304.2,512.2 304.4,509.1 304.6,506.3 304.9,504.4 305.1,500.0 305.3,498.5 305.6,496.4 305.8,491.3 306.0,495.1 306.3,498.5 306.5,501.7 306.8,503.0 307.0,506.2 307.3,510.9 307.5,512.4 307.8,515.2 308.0,517.9 308.3,522.6 308.5,524.4 308.8,527.7 309.0,529.4 309.2,531.5 309.4,534.6 309.7,539.1 309.9,540.6 310.1,545.1 310.4,546.7 310.6,548.8 310.8,552.0 311.0,555.8 311.2,558.0 311.5,560.0 311.7,563.8 312.1,566.3 312.4,568.0 312.8,571.7 313.2,575.1 313.5,577.1 313.9,581.2 314.3,583.6 314.6,587.1 315.0,589.5 315.0,591.9 315.1,593.3 315.1,597.3 315.1,599.5 315.2,603.3 315.2,603.7 315.3,606.0 315.3,610.0 316.0,606.9 316.6,605.9 317.3,603.7 318.0,600.6 320.5,600.3 323.0,601.0 323.4,598.6 323.8,595.4 324.2,592.3 324.6,590.5 325.0,584.6 325.4,583.5 325.8,578.9 326.2,576.6 326.6,574.7 327.0,572.0 327.4,569.5 327.9,565.5 328.3,562.7 328.7,559.2 329.1,556.2 329.6,552.8 330.0,551.9 330.6,547.7 331.1,545.6 331.7,542.9 332.2,540.2 332.8,538.3 333.3,535.1 333.9,531.5 334.4,528.2 335.0,525.6 336.1,528.2 337.2,530.2 338.4,532.7 339.5,534.7 340.6,539.0 341.7,541.9 341.9,538.1 342.1,535.4 342.3,533.2 342.5,529.5 342.7,527.4 342.9,523.7 343.1,522.4 343.3,517.2 343.4,516.2 343.6,513.0 343.8,510.6 344.0,507.0 344.2,503.7 344.4,500.7 344.6,499.4 344.8,497.4 345.0,493.6 346.2,490.2 347.5,488.3 348.8,485.1 350.0,482.0 350.6,480.7 351.2,477.6 351.9,473.4 352.5,472.6 353.1,469.3 353.8,467.2 354.4,463.6 355.0,461.0 355.3,457.4 355.7,454.5 356.0,451.3 356.3,448.3 356.7,445.4 357.0,445.0 357.3,440.2 357.7,437.5 358.0,434.6 358.3,431.3 358.7,429.2 359.0,425.7 359.2,429.5 359.4,432.9 359.5,433.8 359.7,439.1 359.9,440.9 360.1,443.6 360.2,447.2 360.4,448.7 360.6,452.9 360.8,456.5 360.9,457.1 361.1,460.2 361.3,463.0 361.5,468.2 361.6,469.5 361.8,472.3 362.0,475.6 363.5,475.9 365.0,474.9 365.4,477.7 365.9,480.7 366.3,483.8 366.7,486.0 367.1,488.9 367.6,493.8 368.0,496.0 368.3,498.7 368.6,502.8 369.0,503.4 369.3,505.7 369.6,510.1 369.9,511.6 370.2,515.5 370.6,517.1 370.9,520.1 371.2,521.9 371.5,527.3 371.9,527.4 372.2,530.8 372.5,533.5 373.6,532.5 374.7,527.6 375.8,523.8 376.9,520.4 378.0,519.9 379.0,518.5 380.0,515.6 381.0,512.2 382.0,511.4 383.0,508.4 383.9,510.1 384.8,513.6 385.7,516.4 386.6,518.1 387.5,519.7 389.2,519.3 390.8,516.9 392.5,515.0 392.9,520.9 393.2,520.5 393.6,523.8 393.9,526.8 394.2,529.9 394.6,532.4 394.9,537.0 395.3,538.7 395.6,539.5 396.0,542.7 396.2,547.8 396.3,550.4 396.5,551.2 396.7,553.3 396.8,558.3 397.0,559.9 397.2,564.4 397.3,565.3 397.5,569.9 397.7,571.0 397.8,575.5 398.0,576.6 398.5,579.7 399.1,582.4 399.6,583.4 400.1,587.1 400.6,590.9 401.2,591.3 401.7,594.9 401.9,598.8 402.0,601.3 402.2,604.2 402.4,607.7 402.6,609.1 402.7,611.9 402.9,616.7 403.1,619.0 403.3,622.9 403.4,622.1 403.6,627.6 403.8,630.6 404.0,632.6 404.1,636.9 404.3,637.5 404.5,639.5 404.7,643.4 404.8,647.7 405.0,651.0 405.4,648.2 405.7,644.4 406.1,641.1 406.4,638.3 406.8,635.5 407.1,634.8 407.5,630.9 407.9,628.1 408.2,626.8 408.6,624.3 408.9,620.2 409.3,616.4 409.6,613.8 410.0,610.4 412.2,611.1 414.5,611.8 416.7,612.6 418.0,614.1 419.2,617.5 420.5,619.5 421.7,621.2 423.0,626.6 424.2,628.4 425.3,630.2 426.5,633.4 427.7,633.8 428.8,636.5 430.0,638.6 431.3,635.2 432.7,633.8 434.0,632.2 435.4,629.0 436.7,626.2 436.9,622.1 437.1,620.3 437.4,615.7 437.6,616.1 437.8,614.3 438.0,608.4 438.2,605.6 438.5,602.6 438.7,600.8 438.9,595.9 439.1,595.3 439.3,591.4 439.6,589.6 439.8,585.2 440.0,585.7 441.2,582.0 442.5,578.0 443.8,576.2 445.0,574.5 445.5,579.4 446.0,578.4 446.5,580.7 447.0,585.7 447.5,587.9 448.0,589.7 448.5,596.1 449.0,596.5 449.5,598.5 450.0,600.4 451.0,604.5 452.0,605.3 453.0,611.1 454.0,610.9 454.9,607.8 455.7,608.4 456.6,605.7 457.4,602.5 458.3,598.4 459.1,597.2 460.0,593.2 461.7,591.6 463.4,588.0 465.0,585.9 466.7,584.2 468.6,581.8 470.6,582.2 472.5,578.9 473.4,579.4 474.3,584.7 475.2,588.0 476.2,588.9 477.1,591.2 478.0,593.4 479.1,594.2 480.2,590.5 481.4,587.3 482.5,587.2 483.6,588.3 484.6,589.6 485.6,594.4 486.7,594.3 488.0,596.6 489.2,599.8 490.5,600.0 491.7,603.0 493.0,606.0 495.3,606.4 497.7,607.7 500.0,610.0 501.2,608.2 502.5,605.2 503.8,606.9 505.0,604.5 507.5,600.4 510.0,600.7 510.4,604.3 510.8,606.2 511.2,609.9 511.7,609.9 512.1,614.8 512.5,618.0 512.9,619.5 513.3,625.0 513.8,626.8 514.2,630.2 514.6,632.5 515.0,633.6 515.2,631.5 515.4,626.7 515.6,626.2 515.9,621.6 516.1,621.2 516.3,618.7 516.5,613.8 516.7,611.3 516.9,606.1 517.1,606.0 517.4,602.0 517.6,598.5 517.8,596.9 518.0,594.2 518.2,592.3 518.4,586.1 518.6,584.9 518.8,584.5 519.0,577.6 519.2,577.2 519.4,576.4 519.6,571.9 519.8,568.7 520.0,566.1 520.5,563.4 521.0,560.1 521.5,557.2 522.0,557.1 522.5,552.6 523.0,547.9 523.8,551.0 524.6,551.5 525.4,559.0 526.2,560.5 527.0,559.7 527.3,566.2 527.5,568.4 527.8,569.4 528.1,570.8 528.4,573.8 528.6,577.0 528.9,583.2 529.2,584.2 529.5,589.9 529.7,591.6 530.0,594.7 530.8,594.9 531.7,599.4 532.5,600.6 533.4,602.0 534.2,608.3 535.0,608.5 535.9,610.5 536.7,611.9 537.1,610.6 537.5,608.9 537.9,603.1 538.2,603.7 538.6,597.1 539.0,596.2 539.4,593.1 539.8,589.5 540.2,588.3 540.5,582.5 540.9,580.4 541.3,581.4 541.7,577.2 542.2,572.3 542.8,573.4 543.4,566.2 543.9,565.3 544.5,561.6 545.0,560.1 545.3,556.5 545.6,554.7 545.9,553.5 546.1,550.0 546.4,547.5 546.7,544.6 547.5,543.3 548.4,537.5 549.2,534.9 550.0,535.4 550.9,531.6 551.7,530.7 552.5,529.4 553.4,525.1 554.2,522.8 555.0,518.2 555.9,519.1 556.7,514.1 558.8,516.8 560.8,519.7 561.5,517.5 562.3,523.2 563.0,524.9 564.2,526.5 565.5,526.9 566.8,528.9 568.0,532.1 568.2,536.2 568.3,539.3 568.5,542.9 568.7,547.0 568.8,545.1 569.0,549.8 569.2,552.8 569.3,555.2 569.5,560.3 569.7,559.1 569.8,562.8 570.0,566.2 570.3,568.7 570.7,571.2 571.0,574.0 571.3,578.8 571.7,579.9 572.0,583.5 572.3,588.8 572.7,589.4 573.0,590.1 574.7,589.3 576.3,586.5 578.0,585.0 578.5,580.7 579.0,578.8 579.5,575.5 580.0,572.9 580.5,570.8 581.0,567.4 581.5,566.6 582.0,562.1 582.9,559.6 583.9,556.5 584.8,552.3 585.8,552.2 586.7,549.8 587.4,551.6 588.0,550.8 588.7,556.6 589.3,558.1 590.0,560.9 591.7,562.8 593.3,565.2 595.0,568.4 595.6,563.8 596.1,559.4 596.7,558.4 598.0,557.6 599.2,552.8 600.5,552.2 601.7,549.5 603.0,548.2 604.2,543.0 605.5,541.8 606.7,540.0 607.8,537.8 608.9,534.5 610.0,530.1 610.4,528.7 610.8,525.8 611.1,523.8 611.5,519.1 611.9,516.5 612.2,515.1 612.6,510.8 613.0,508.0 613.4,511.6 613.8,512.4 614.1,517.0 614.5,519.8 614.9,520.9 615.2,525.0 615.6,529.0 616.0,530.1 616.7,534.5 617.3,535.8 618.0,540.0 618.7,541.6 619.3,545.9 620.0,547.3 620.8,546.0 621.5,542.5 622.2,542.0 623.0,537.2 624.2,536.8 625.3,533.8 626.5,530.7 627.7,528.9 628.8,527.1 630.0,524.8 630.5,521.0 631.0,517.0 631.5,514.7 632.0,513.8 632.5,512.5 633.0,508.6 633.8,505.6 634.7,503.7 635.5,497.8 636.3,498.6 637.2,493.4 638.0,492.2 640.5,491.7 643.0,493.1 644.7,496.9 646.3,496.4 648.0,499.6 649.8,499.1 651.5,496.1 653.2,494.0 655.0,491.3 655.2,487.4 655.4,484.3 655.6,482.4 655.8,480.5 655.9,479.1 656.1,475.1 656.3,469.2 656.5,467.5 656.7,464.6 656.9,463.1 657.1,459.5 657.2,458.6 657.4,453.3 657.6,451.9 657.8,450.1 658.0,447.3 658.8,443.5 659.7,441.6 660.5,438.3 661.3,435.1 662.2,432.7 663.0,429.3 665.5,429.0 668.0,427.5 668.5,430.6 668.9,433.6 669.4,437.9 669.9,439.4 670.3,443.1 670.8,443.7 671.2,447.0 671.7,449.4 672.0,449.6 672.2,455.1 672.5,459.1 672.8,458.3 673.1,463.3 673.4,465.0 673.6,469.7 673.9,472.5 674.2,474.9 674.5,479.2 674.7,482.2 675.0,483.1 675.3,487.0 675.7,489.9 676.0,492.9 676.3,492.9 676.7,496.9 677.0,500.5 677.3,504.0 677.7,505.8 678.0,509.6 678.6,511.4 679.2,514.7 679.9,517.4 680.5,517.5 681.1,522.4 681.7,524.4 682.5,529.5 683.4,531.9 684.2,533.9 685.0,536.7 685.9,537.5 686.7,541.7 686.8,547.1 686.9,548.5 687.0,550.7 687.1,553.6 687.2,555.3 687.4,556.5 687.5,561.3 687.6,566.9 687.7,569.7 687.8,568.7 687.9,572.7 688.0,575.9 689.2,579.2 690.5,578.3 691.8,581.9 693.0,582.9 693.4,587.6 693.8,590.6 694.2,593.1 694.6,595.4 695.1,595.6 695.5,601.4 695.9,603.4 696.3,605.7 696.7,609.6 698.8,610.5 700.9,609.2 703.0,608.6 703.9,611.0 704.9,612.7 705.8,617.1 706.7,619.8 707.0,619.7 707.2,625.1 707.5,626.7 707.8,629.8 708.1,633.9 708.4,636.5 708.6,637.6 708.9,643.1 709.2,642.6 709.5,645.7 709.7,649.6 710.0,653.1 710.2,655.7 710.5,655.9 710.8,662.3 711.0,662.0 711.2,666.5 711.5,666.6 711.8,671.9 712.0,673.2 712.2,676.4 712.5,679.1 712.8,682.1 713.0,686.4 713.3,680.4 713.6,681.1 713.9,674.1 714.2,670.7 714.5,671.3 714.9,667.7 715.2,662.4 715.5,665.0 715.8,660.3 716.1,656.9 716.4,655.7 716.7,650.3 717.1,646.2 717.4,646.3 717.8,644.1 718.2,641.1 718.5,636.5 718.9,636.3 719.3,631.2 719.6,627.9 720.0,625.6 720.6,623.2 721.2,621.7 721.9,619.5 722.5,613.5 723.1,610.7 723.8,611.6 724.4,608.4 725.0,603.6 727.5,604.5 730.0,600.4 730.8,602.1 731.5,605.2 732.2,611.8 733.0,610.6 734.2,615.4 735.5,615.8 736.8,619.6 738.0,620.5 739.8,619.5 741.5,616.3 743.2,614.9 745.0,612.1 747.0,613.9 749.0,616.5 751.0,619.9 753.0,622.4 755.5,624.0 758.0,623.8 760.2,622.5 762.4,621.2 764.5,621.9 766.7,621.1 769.2,619.5 771.7,620.8 771.9,620.5 772.0,617.2 772.2,615.1 772.4,610.7 772.5,608.3 772.7,605.4 772.8,603.6 773.0,597.7 773.8,595.7 774.7,596.1 775.5,591.5 776.3,587.9 777.2,584.9 778.0,584.4 779.0,582.7 780.0,577.9 781.0,577.8 782.0,574.5 783.0,570.6 783.4,569.3 783.8,565.7 784.2,562.2 784.6,561.5 785.0,559.2 786.5,559.6 788.0,557.1 789.2,554.0 790.5,553.7 791.7,549.7 793.0,548.4 794.2,546.0 795.5,545.3 796.7,540.9 797.5,537.6 798.2,537.1 799.0,533.8 800.4,535.9 801.7,539.2 802.6,541.8 803.5,545.9 804.4,545.4 805.3,548.1 806.2,550.6 807.1,552.7 808.0,555.9 808.6,551.9 809.2,552.3 809.9,550.8 810.5,545.8 811.1,541.8 811.8,538.9 812.4,538.2 813.0,534.9 814.0,531.5 815.0,530.3 816.0,527.3 817.0,522.5 818.0,522.6 819.0,519.5 820.0,522.4 821.0,525.2 822.0,528.9 823.0,529.2 824.7,530.3 826.3,527.3 828.0,525.5 830.5,522.9 833.0,520.9 833.6,519.3 834.2,514.9 834.9,515.7 835.5,509.6 836.1,506.7 836.8,503.0 837.4,500.6 838.0,497.5 839.2,496.8 840.5,496.1 841.8,491.0 843.0,489.7 843.5,486.8 843.9,485.7 844.4,482.5 844.9,478.9 845.3,475.7 845.8,473.1 846.2,473.7 846.7,467.2 847.5,473.1 848.4,474.5 849.2,475.6 850.0,481.0 852.2,480.5 854.5,477.8 856.7,477.9 857.2,482.0 857.6,485.7 858.1,487.1 858.6,489.2 859.1,495.1 859.5,496.4 860.0,499.0 861.2,500.3 862.5,501.6 863.8,506.4 865.0,507.6 865.3,508.0 865.7,514.0 866.0,516.8 866.3,514.6 866.7,519.0 867.0,522.2 867.3,525.0 867.7,529.0 868.0,529.8 868.6,533.4 869.2,536.5 869.8,539.6 870.4,541.3 871.0,543.7 872.1,541.2 873.3,539.9 874.4,537.5 875.6,533.1 876.7,531.9 879.2,529.4 881.7,527.2 884.2,525.7 886.7,526.5 889.2,526.5 891.7,530.3 894.2,531.1 896.7,532.3 897.2,532.6 897.8,537.5 898.4,541.5 898.9,543.3 899.5,546.1 900.0,548.7 901.0,551.9 902.0,553.3 903.0,558.0 904.0,558.9 905.2,556.9 906.4,555.2 907.6,552.5 908.8,551.9 910.0,548.1 910.4,547.1 910.9,546.1 911.3,543.2 911.7,538.3 913.0,542.9 914.2,542.5 915.5,547.6 916.7,547.3 918.0,544.4 919.2,544.0 920.5,542.1 921.7,540.4 922.2,537.1 922.8,536.8 923.4,530.9 923.9,529.5 924.5,524.9 925.0,524.4 925.4,518.9 925.9,519.6 926.3,515.8 926.7,510.2 927.1,509.2 927.6,506.6 928.0,502.5 929.7,500.7 931.3,499.4 933.0,497.8 934.4,494.6 935.8,495.0 937.2,490.2 938.6,489.4 940.0,487.0 940.6,490.2 941.1,494.0 941.7,496.1 942.3,501.4 942.9,504.3 943.4,504.6 944.0,508.7 944.1,512.2 944.3,515.2 944.5,515.4 944.6,518.3 944.8,523.6 944.9,524.8 945.0,528.9 945.2,532.5 945.3,535.0 945.5,536.6 945.6,540.0 945.8,543.1 947.2,546.0 948.6,547.1 950.0,549.7 950.8,547.6 951.7,544.5 952.5,541.2 953.3,539.4 954.2,535.7 955.0,533.9 955.8,535.5 956.5,537.4 957.2,540.5 958.0,543.3 958.5,546.8 959.0,549.0 959.5,550.8 960.0,554.5 960.5,556.9 961.0,559.8 961.5,564.7 962.0,567.2 962.5,568.4 963.0,570.9 963.5,576.5 964.0,578.6 964.5,579.1 965.0,583.7 965.3,579.5 965.6,578.2 965.9,574.8 966.2,572.1 966.5,569.6 966.8,567.3 967.1,563.5 967.4,560.6 967.7,558.4 968.0,556.0 969.9,556.1 971.7,557.0 972.0,554.0 972.3,553.4 972.6,548.5 972.9,544.5 973.2,542.6 973.5,539.4 973.8,536.8 974.1,535.0 974.4,532.1 974.7,529.2 975.0,525.3 975.4,523.2 975.8,519.4 976.2,518.0 976.7,515.5 977.1,510.8 977.5,508.3 977.9,506.3 978.3,504.2 978.8,500.2 979.2,497.5 979.6,495.5 980.0,492.2 981.0,490.1 982.0,488.6 983.0,485.3 983.4,484.3 983.8,482.1 984.2,478.8 984.6,475.9 985.0,472.2 985.4,470.5 985.8,467.9 987.2,469.9 988.6,473.8 990.0,476.3 990.2,478.2 990.5,482.9 990.8,484.0 991.0,486.3 991.2,490.6 991.5,491.2 991.8,495.7 992.0,497.9 992.2,501.7 992.5,504.1 992.9,500.3 993.2,498.4 993.5,495.1 993.9,491.5 994.2,489.4 994.6,487.0 995.0,482.5 995.3,481.3 995.7,478.0 996.0,474.3 996.4,471.1 996.7,468.7 997.0,472.8 997.4,473.9 997.7,478.1 998.0,480.4 998.4,483.2 998.7,487.4 999.0,488.6 999.4,492.1 999.7,494.5 1000.0,498.7 1000.4,500.4 1000.7,503.9 1001.0,506.6 1001.4,511.4 1001.7,513.9 1001.8,508.4 1001.8,506.1 1001.9,503.8 1001.9,502.0 1002.0,498.1 1002.0,496.6 1002.1,493.1 1002.1,490.5 1002.2,486.0 1002.2,483.5 1002.3,481.0 1002.4,477.3 1002.4,473.7 1002.5,471.5 1002.5,469.1 1002.6,466.5 1002.6,463.0 1002.7,460.3 1002.7,459.2 1002.8,455.7 1002.8,452.7 1002.9,447.5 1002.9,446.7 1003.0,442.9 1003.1,438.1 1003.1,436.3 1003.2,434.9 1003.3,430.6 1003.4,427.2 1003.4,424.1 1003.5,424.0 1003.6,419.0 1003.6,416.8 1003.7,412.7 1003.8,411.4 1003.9,406.9 1003.9,405.0 1004.0,402.8 1004.4,405.5 1004.9,409.0 1005.3,409.7 1005.8,411.5 1006.2,416.8 1006.7,416.9 1007.1,421.5 1007.6,424.2 1008.0,425.4 1008.6,428.3 1009.2,432.6 1009.9,434.4 1010.5,436.9 1011.1,439.5 1011.7,443.3 1012.0,445.8 1012.4,447.5 1012.7,450.8 1013.0,453.3 1013.4,456.8 1013.7,460.8 1014.0,462.2 1014.3,466.2 1014.7,468.4 1015.0,471.1 1015.1,467.4 1015.2,464.6 1015.3,464.0 1015.4,459.2 1015.5,456.5 1015.6,453.8 1015.7,450.2 1015.8,446.5 1015.9,444.1 1015.9,441.1 1016.0,439.4 1016.1,434.6 1016.2,431.6 1016.3,429.7 1016.4,426.6 1016.5,424.0 1016.6,421.2 1016.7,418.3 1017.5,414.9 1018.4,412.9 1019.2,409.6 1020.0,407.6 1020.9,404.2 1021.7,401.1 1022.8,404.1 1023.9,406.5 1025.0,410.0 1025.5,411.3 1026.0,413.5 1026.5,415.6 1027.0,420.7 1027.5,421.5 1027.5,429.3 1027.0,427.9 1026.5,423.2 1026.0,421.6 1025.5,418.0 1025.0,417.2 1023.9,414.4 1022.8,410.7 1021.7,407.9 1020.9,413.4 1020.0,415.1 1019.2,418.3 1018.4,420.2 1017.5,422.2 1016.7,425.9 1016.6,429.6 1016.5,432.0 1016.4,434.5 1016.3,437.0 1016.2,439.2 1016.1,443.6 1016.0,446.2 1015.9,448.9 1015.9,452.3 1015.8,454.6 1015.7,457.2 1015.6,461.4 1015.5,464.9 1015.4,465.7 1015.3,471.8 1015.2,471.8 1015.1,475.7 1015.0,479.0 1014.7,476.5 1014.3,475.1 1014.0,469.6 1013.7,469.2 1013.4,463.8 1013.0,461.6 1012.7,458.3 1012.4,456.0 1012.0,453.0 1011.7,451.6 1011.1,447.5 1010.5,445.1 1009.9,443.7 1009.2,440.4 1008.6,436.6 1008.0,433.3 1007.6,430.9 1007.1,428.6 1006.7,424.6 1006.2,423.4 1005.8,418.8 1005.3,417.5 1004.9,417.0 1004.4,413.7 1004.0,409.4 1003.9,413.7 1003.9,414.8 1003.8,417.9 1003.7,421.3 1003.6,423.9 1003.6,425.9 1003.5,431.9 1003.4,432.1 1003.4,435.2 1003.3,437.8 1003.2,441.5 1003.1,444.5 1003.1,447.3 1003.0,451.0 1002.9,454.4 1002.9,455.9 1002.8,461.6 1002.8,463.1 1002.7,467.2 1002.7,468.5 1002.6,470.8 1002.6,474.9 1002.5,477.3 1002.5,479.1 1002.4,482.5 1002.4,485.0 1002.3,489.3 1002.2,490.0 1002.2,493.8 1002.1,498.4 1002.1,501.1 1002.0,504.0 1002.0,506.2 1001.9,509.6 1001.9,511.6 1001.8,514.8 1001.8,517.5 1001.7,520.9 1001.4,518.7 1001.0,515.1 1000.7,512.4 1000.4,508.7 1000.0,506.0 999.7,503.6 999.4,499.3 999.0,496.5 998.7,494.2 998.4,490.8 998.0,488.6 997.7,485.3 997.4,483.0 997.0,480.0 996.7,476.2 996.4,479.8 996.0,481.4 995.7,485.6 995.3,489.7 995.0,491.4 994.6,495.0 994.2,498.1 993.9,499.9 993.5,502.4 993.2,506.7 992.9,508.7 992.5,511.8 992.2,508.9 992.0,506.8 991.8,504.6 991.5,499.8 991.2,499.1 991.0,494.9 990.8,491.4 990.5,490.6 990.2,487.0 990.0,483.2 988.6,482.9 987.2,478.4 985.8,475.4 985.4,478.4 985.0,479.7 984.6,484.3 984.2,487.0 983.8,490.2 983.4,491.8 983.0,494.1 982.0,498.0 981.0,499.0 980.0,501.9 979.6,503.4 979.2,505.1 978.8,508.8 978.3,512.4 977.9,515.4 977.5,516.4 977.1,519.7 976.7,523.5 976.2,526.8 975.8,528.5 975.4,531.2 975.0,534.1 974.7,538.1 974.4,539.4 974.1,542.4 973.8,545.5 973.5,546.9 973.2,551.0 972.9,553.4 972.6,555.6 972.3,560.9 972.0,562.7 971.7,566.4 969.9,564.2 968.0,565.2 967.7,566.9 967.4,570.1 967.1,571.7 966.8,576.6 966.5,578.5 966.2,580.5 965.9,583.9 965.6,587.6 965.3,588.4 965.0,591.3 964.5,588.5 964.0,588.1 963.5,584.8 963.0,579.1 962.5,575.8 962.0,574.8 961.5,573.2 961.0,567.5 960.5,565.7 960.0,562.8 959.5,558.0 959.0,557.5 958.5,554.7 958.0,551.0 957.2,549.0 956.5,546.9 955.8,542.7 955.0,541.9 954.2,544.5 953.3,548.2 952.5,550.6 951.7,552.4 950.8,555.1 950.0,558.5 948.6,557.0 947.2,554.9 945.8,551.5 945.6,548.3 945.5,546.0 945.3,542.9 945.2,540.4 945.0,538.4 944.9,534.6 944.8,533.7 944.6,529.3 944.5,525.7 944.3,524.1 944.1,521.9 944.0,517.3 943.4,514.8 942.9,513.2 942.3,509.8 941.7,506.7 941.1,503.5 940.6,501.3 940.0,497.3 938.6,500.0 937.2,501.1 935.8,505.6 934.4,506.9 933.0,509.2 931.3,511.3 929.7,512.2 928.0,514.2 927.6,517.5 927.1,521.4 926.7,523.1 926.3,525.8 925.9,531.4 925.4,531.7 925.0,535.8 924.5,539.1 923.9,543.4 923.4,542.7 922.8,547.7 922.2,550.8 921.7,553.0 920.5,555.2 919.2,558.2 918.0,560.8 916.7,561.7 915.5,559.4 914.2,559.0 913.0,556.7 911.7,555.1 911.3,558.5 910.9,558.6 910.4,560.4 910.0,565.2 908.8,568.0 907.6,570.2 906.4,573.6 905.2,575.7 904.0,575.0 903.0,571.7 902.0,571.9 901.0,569.8 900.0,566.8 899.5,563.2 898.9,560.3 898.4,555.6 897.8,554.2 897.2,549.6 896.7,547.3 894.2,549.1 891.7,546.6 889.2,544.6 886.7,542.7 884.2,542.3 881.7,545.9 879.2,546.6 876.7,549.6 875.6,550.7 874.4,554.3 873.3,556.8 872.1,558.8 871.0,560.6 870.4,557.5 869.8,556.5 869.2,554.1 868.6,549.9 868.0,547.9 867.7,544.5 867.3,543.7 867.0,540.1 866.7,539.2 866.3,533.1 866.0,533.6 865.7,528.3 865.3,526.7 865.0,525.0 863.8,522.3 862.5,517.8 861.2,517.4 860.0,514.6 859.5,512.8 859.1,512.2 858.6,509.0 858.1,505.2 857.6,500.7 857.2,498.3 856.7,495.2 854.5,493.6 852.2,495.0 850.0,496.2 849.2,492.2 848.4,489.4 847.5,490.0 846.7,487.4 846.2,489.6 845.8,492.6 845.3,493.4 844.9,498.5 844.4,499.3 843.9,501.8 843.5,503.9 843.0,507.1 841.8,510.1 840.5,513.0 839.2,514.2 838.0,515.6 837.4,520.3 836.8,521.5 836.1,523.3 835.5,527.1 834.9,529.7 834.2,530.2 833.6,534.5 833.0,537.4 830.5,539.3 828.0,541.2 826.3,544.0 824.7,547.1 823.0,547.5 822.0,545.6 821.0,543.4 820.0,536.5 819.0,535.4 818.0,539.6 817.0,539.8 816.0,544.0 815.0,547.6 814.0,548.3 813.0,552.7 812.4,556.2 811.8,557.4 811.1,558.9 810.5,562.9 809.9,565.8 809.2,568.0 808.6,569.5 808.0,575.5 807.1,570.8 806.2,568.9 805.3,565.3 804.4,564.8 803.5,560.6 802.6,558.1 801.7,556.1 800.4,552.5 799.0,550.8 798.2,553.5 797.5,554.4 796.7,558.2 795.5,561.5 794.2,565.8 793.0,565.8 791.7,566.6 790.5,569.5 789.2,574.5 788.0,576.9 786.5,575.2 785.0,576.7 784.6,576.4 784.2,581.9 783.8,582.8 783.4,584.0 783.0,589.4 782.0,592.2 781.0,593.8 780.0,594.2 779.0,597.4 778.0,598.9 777.2,604.1 776.3,604.6 775.5,609.9 774.7,612.3 773.8,613.6 773.0,614.8 772.8,622.1 772.7,621.7 772.5,626.3 772.4,628.6 772.2,632.2 772.0,631.7 771.9,636.4 771.7,637.9 769.2,635.4 766.7,635.1 764.5,637.8 762.4,638.8 760.2,638.7 758.0,641.1 755.5,640.5 753.0,639.0 751.0,634.4 749.0,633.2 747.0,631.2 745.0,629.5 743.2,631.8 741.5,633.7 739.8,638.9 738.0,639.4 736.8,635.9 735.5,632.7 734.2,631.5 733.0,629.9 732.2,625.4 731.5,623.2 730.8,618.4 730.0,617.6 727.5,621.7 725.0,623.0 724.4,626.2 723.8,625.8 723.1,630.4 722.5,631.0 721.9,634.5 721.2,637.8 720.6,641.3 720.0,642.4 719.6,646.9 719.3,650.6 718.9,653.5 718.5,654.8 718.2,659.9 717.8,661.4 717.4,662.9 717.1,666.3 716.7,667.8 716.4,670.6 716.1,674.8 715.8,679.1 715.5,680.5 715.2,680.3 714.9,687.1 714.5,687.3 714.2,691.0 713.9,693.5 713.6,698.3 713.3,699.8 713.0,701.0 712.8,699.1 712.5,697.9 712.2,693.1 712.0,690.4 711.8,687.3 711.5,684.9 711.2,683.8 711.0,680.1 710.8,678.0 710.5,674.3 710.2,669.9 710.0,668.7 709.7,667.2 709.5,662.1 709.2,660.7 708.9,659.5 708.6,654.4 708.4,652.1 708.1,648.4 707.8,647.4 707.5,642.4 707.2,641.0 707.0,636.8 706.7,634.1 705.8,635.3 704.9,630.0 703.9,626.5 703.0,627.0 700.9,627.4 698.8,625.2 696.7,624.9 696.3,623.9 695.9,621.3 695.5,619.0 695.1,612.7 694.6,612.6 694.2,609.0 693.8,605.6 693.4,603.5 693.0,602.5 691.8,599.3 690.5,596.6 689.2,596.8 688.0,594.3 687.9,588.5 687.8,587.0 687.7,586.2 687.6,583.6 687.5,580.6 687.4,575.2 687.2,572.7 687.1,570.3 687.0,567.0 686.9,562.2 686.8,562.8 686.7,558.8 685.9,557.4 685.0,551.9 684.2,551.2 683.4,548.7 682.5,545.8 681.7,541.7 681.1,540.0 680.5,533.7 679.9,533.6 679.2,532.0 678.6,527.3 678.0,526.2 677.7,522.3 677.3,519.8 677.0,518.3 676.7,516.8 676.3,510.1 676.0,509.4 675.7,505.6 675.3,501.2 675.0,501.4 674.7,499.1 674.5,495.9 674.2,491.6 673.9,487.9 673.6,484.6 673.4,483.7 673.1,480.5 672.8,476.9 672.5,476.4 672.2,473.6 672.0,468.7 671.7,466.1 671.2,466.1 670.8,461.8 670.3,460.0 669.9,456.1 669.4,453.1 668.9,449.9 668.5,448.4 668.0,445.7 665.5,446.9 663.0,447.6 662.2,447.3 661.3,452.7 660.5,453.3 659.7,459.4 658.8,461.3 658.0,462.8 657.8,465.9 657.6,470.1 657.4,472.5 657.2,474.3 657.1,476.6 656.9,480.0 656.7,482.8 656.5,486.0 656.3,486.4 656.1,490.2 655.9,494.5 655.8,498.3 655.6,500.4 655.4,503.9 655.2,507.6 655.0,510.3 653.2,511.1 651.5,511.5 649.8,515.9 648.0,515.0 646.3,516.7 644.7,512.4 643.0,512.6 640.5,510.7 638.0,507.7 637.2,510.4 636.3,515.8 635.5,514.9 634.7,518.0 633.8,524.5 633.0,524.6 632.5,526.6 632.0,532.2 631.5,532.1 631.0,534.3 630.5,538.2 630.0,542.3 628.8,543.7 627.7,545.8 626.5,546.7 625.3,549.2 624.2,555.0 623.0,555.4 622.2,559.0 621.5,558.9 620.8,562.9 620.0,565.8 619.3,563.2 618.7,557.1 618.0,556.3 617.3,553.9 616.7,550.6 616.0,547.8 615.6,547.9 615.2,544.1 614.9,537.3 614.5,535.7 614.1,535.0 613.8,531.8 613.4,529.2 613.0,525.3 612.6,528.5 612.2,531.6 611.9,534.4 611.5,537.3 611.1,542.3 610.8,543.1 610.4,546.5 610.0,547.9 608.9,551.9 607.8,555.3 606.7,557.4 605.5,559.7 604.2,561.4 603.0,565.6 601.7,565.9 600.5,566.1 599.2,571.1 598.0,575.4 596.7,574.5 596.1,578.7 595.6,579.9 595.0,584.0 593.3,582.6 591.7,578.0 590.0,578.1 589.3,573.9 588.7,575.2 588.0,570.7 587.4,568.0 586.7,564.5 585.8,570.5 584.8,570.4 583.9,573.6 582.9,577.7 582.0,578.9 581.5,582.2 581.0,584.3 580.5,585.6 580.0,589.9 579.5,595.4 579.0,594.9 578.5,598.8 578.0,602.4 576.3,604.9 574.7,607.6 573.0,608.3 572.7,607.1 572.3,605.1 572.0,600.5 571.7,598.2 571.3,594.6 571.0,591.0 570.7,586.6 570.3,584.5 570.0,581.8 569.8,582.5 569.7,576.0 569.5,575.2 569.3,571.4 569.2,569.2 569.0,566.4 568.8,562.2 568.7,564.2 568.5,558.5 568.3,554.1 568.2,556.0 568.0,548.8 566.8,548.7 565.5,545.5 564.2,542.2 563.0,540.6 562.3,540.3 561.5,534.6 560.8,534.6 558.8,531.5 556.7,532.1 555.9,535.9 555.0,533.9 554.2,539.5 553.4,541.3 552.5,544.0 551.7,545.5 550.9,548.8 550.0,552.1 549.2,551.7 548.4,556.0 547.5,560.9 546.7,559.8 546.4,564.8 546.1,565.4 545.9,568.8 545.6,572.1 545.3,573.5 545.0,574.8 544.5,578.2 543.9,581.9 543.4,583.3 542.8,590.4 542.2,591.9 541.7,591.9 541.3,597.8 540.9,600.1 540.5,601.8 540.2,603.9 539.8,606.1 539.4,611.4 539.0,611.5 538.6,614.3 538.2,619.2 537.9,621.4 537.5,626.4 537.1,626.4 536.7,630.7 535.9,628.3 535.0,624.9 534.2,625.8 533.4,621.4 532.5,618.4 531.7,615.6 530.8,613.3 530.0,611.9 529.7,607.7 529.5,607.2 529.2,600.5 528.9,598.8 528.6,593.3 528.4,591.3 528.1,591.0 527.8,588.4 527.5,584.9 527.3,583.2 527.0,577.6 526.2,575.2 525.4,575.2 524.6,570.3 523.8,567.2 523.0,564.9 522.5,570.2 522.0,572.4 521.5,572.0 521.0,578.2 520.5,581.1 520.0,584.0 519.8,585.0 519.6,589.8 519.4,593.0 519.2,593.0 519.0,597.3 518.8,600.4 518.6,604.2 518.4,604.3 518.2,608.7 518.0,609.1 517.8,613.8 517.6,615.1 517.4,618.2 517.1,622.2 516.9,624.0 516.7,630.4 516.5,631.9 516.3,634.7 516.1,638.3 515.9,640.4 515.6,642.5 515.4,646.8 515.2,648.4 515.0,652.3 514.6,649.3 514.2,645.7 513.8,642.0 513.3,641.5 512.9,637.4 512.5,633.8 512.1,633.8 511.7,627.2 511.2,625.1 510.8,623.5 510.4,621.1 510.0,617.6 507.5,619.9 505.0,619.1 503.8,624.7 502.5,622.8 501.2,625.9 500.0,628.7 497.7,626.6 495.3,623.1 493.0,623.3 491.7,620.3 490.5,619.3 489.2,616.5 488.0,616.5 486.7,610.6 485.6,609.0 484.6,607.8 483.6,605.8 482.5,604.1 481.4,607.1 480.2,606.1 479.1,611.1 478.0,611.6 477.1,610.3 476.2,606.6 475.2,604.8 474.3,599.6 473.4,597.5 472.5,597.9 470.6,599.0 468.6,598.1 466.7,603.0 465.0,604.4 463.4,605.8 461.7,607.1 460.0,611.2 459.1,614.2 458.3,617.1 457.4,619.2 456.6,620.2 455.7,624.5 454.9,625.0 454.0,628.6 453.0,627.8 452.0,621.2 451.0,623.2 450.0,618.2 449.5,616.6 449.0,614.8 448.5,613.1 448.0,607.9 447.5,602.5 447.0,601.3 446.5,598.1 446.0,597.2 445.5,594.7 445.0,592.1 443.8,594.0 442.5,595.3 441.2,599.3 440.0,602.3 439.8,601.9 439.6,606.4 439.3,611.3 439.1,612.7 438.9,614.5 438.7,619.9 438.5,622.6 438.2,624.3 438.0,627.0 437.8,628.8 437.6,634.5 437.4,633.5 437.1,638.7 436.9,641.3 436.7,642.2 435.4,644.1 434.0,649.7 432.7,653.6 431.3,655.4 430.0,655.5 428.8,655.7 427.7,650.6 426.5,647.7 425.3,644.7 424.2,642.2 423.0,640.5 421.7,638.9 420.5,635.0 419.2,632.5 418.0,631.1 416.7,629.1 414.5,626.1 412.2,625.2 410.0,626.3 409.6,628.2 409.3,632.1 408.9,634.2 408.6,638.4 408.2,639.5 407.9,641.7 407.5,644.7 407.1,648.3 406.8,650.3 406.4,653.7 406.1,654.7 405.7,657.3 405.4,659.6 405.0,664.9 404.8,659.8 404.7,657.8 404.5,653.1 404.3,651.6 404.1,649.1 404.0,645.8 403.8,642.4 403.6,638.8 403.4,635.6 403.3,635.0 403.1,631.4 402.9,629.2 402.7,625.7 402.6,621.4 402.4,621.1 402.2,617.7 402.0,613.7 401.9,612.0 401.7,607.4 401.2,604.6 400.6,604.5 400.1,600.4 399.6,597.2 399.1,592.7 398.5,593.7 398.0,590.1 397.8,588.7 397.7,581.8 397.5,582.5 397.3,578.0 397.2,576.5 397.0,572.9 396.8,571.1 396.7,567.7 396.5,564.2 396.3,562.6 396.2,559.3 396.0,557.1 395.6,553.0 395.3,549.4 394.9,548.8 394.6,545.3 394.2,540.4 393.9,539.4 393.6,537.1 393.2,534.0 392.9,530.9 392.5,528.0 390.8,529.6 389.2,528.4 387.5,531.0 386.6,528.0 385.7,527.9 384.8,522.8 383.9,521.9 383.0,518.6 382.0,522.9 381.0,524.4 380.0,525.2 379.0,528.7 378.0,530.8 376.9,532.7 375.8,534.0 374.7,536.5 373.6,542.8 372.5,543.8 372.2,540.5 371.9,537.3 371.5,535.4 371.2,531.3 370.9,529.6 370.6,528.0 370.2,525.4 369.9,521.0 369.6,519.3 369.3,516.1 369.0,514.6 368.6,510.7 368.3,507.4 368.0,505.5 367.6,503.3 367.1,499.1 366.7,495.8 366.3,492.9 365.9,489.6 365.4,487.2 365.0,485.5 363.5,485.8 362.0,484.6 361.8,481.5 361.6,478.2 361.5,476.6 361.3,472.2 361.1,470.1 360.9,466.9 360.8,466.1 360.6,461.6 360.4,459.0 360.2,455.9 360.1,451.7 359.9,450.7 359.7,447.3 359.5,443.0 359.4,441.9 359.2,437.6 359.0,434.1 358.7,437.6 358.3,440.8 358.0,443.7 357.7,446.0 357.3,447.8 357.0,454.0 356.7,454.2 356.3,458.3 356.0,461.9 355.7,463.1 355.3,466.9 355.0,469.2 354.4,471.9 353.8,475.7 353.1,476.7 352.5,481.0 351.9,482.2 351.2,485.9 350.6,489.0 350.0,491.0 348.8,493.9 347.5,496.2 346.2,497.7 345.0,501.2 344.8,504.8 344.6,506.8 344.4,509.0 344.2,512.2 344.0,514.9 343.8,517.2 343.6,521.2 343.4,524.9 343.3,526.2 343.1,529.9 342.9,532.5 342.7,535.6 342.5,537.2 342.3,539.9 342.1,542.5 341.9,545.6 341.7,548.9 340.6,546.4 339.5,542.8 338.4,540.7 337.2,537.2 336.1,535.7 335.0,533.7 334.4,534.8 333.9,539.3 333.3,542.0 332.8,544.7 332.2,547.2 331.7,549.6 331.1,552.6 330.6,554.2 330.0,558.0 329.6,560.6 329.1,563.4 328.7,565.8 328.3,569.9 327.9,571.9 327.4,575.2 327.0,577.8 326.6,580.6 326.2,582.9 325.8,586.6 325.4,591.2 325.0,591.6 324.6,597.0 324.2,599.3 323.8,602.0 323.4,605.3 323.0,607.5 320.5,605.9 318.0,607.6 317.3,609.8 316.6,612.2 316.0,612.6 315.3,616.5 315.3,612.1 315.2,610.8 315.2,609.1 315.1,605.9 315.1,603.2 315.1,599.4 315.0,597.6 315.0,595.4 314.6,593.1 314.3,590.0 313.9,586.3 313.5,583.3 313.2,580.4 312.8,577.5 312.4,574.3 312.1,572.8 311.7,570.1 311.5,566.5 311.2,564.3 311.0,561.9 310.8,558.4 310.6,554.4 310.4,552.9 310.1,551.2 309.9,546.4 309.7,545.2 309.4,540.7 309.2,538.4 309.0,535.5 308.8,534.3 308.5,529.7 308.3,528.4 308.0,524.6 307.8,521.6 307.5,518.0 307.3,516.8 307.0,512.0 306.8,509.6 306.5,507.5 306.3,504.2 306.0,500.3 305.8,498.5 305.6,502.2 305.3,504.3 305.1,506.5 304.9,509.3 304.6,512.5 304.4,516.0 304.2,518.5 303.9,520.4 303.7,524.4 303.5,526.9 303.2,529.6 303.0,533.4 302.6,535.7 302.1,537.5 301.7,542.1 301.3,543.2 300.9,546.8 300.4,550.2 300.0,554.4 299.6,554.8 299.1,559.5 298.7,562.1 298.3,564.3 297.9,567.6 297.4,570.9 297.0,573.1 296.7,576.6 296.4,577.9 296.1,580.2 295.8,583.9 295.5,586.5 295.2,588.8 294.8,591.8 294.5,593.9 294.2,597.6 293.9,600.2 293.6,605.0 293.3,605.1 293.0,609.0 292.5,606.4 291.9,603.8 291.4,601.0 290.8,596.5 290.3,594.5 290.2,593.2 290.2,590.8 290.1,586.8 290.1,585.1 290.1,580.6 290.0,578.3 289.7,574.5 289.3,572.8 289.0,569.1 288.7,567.1 288.3,564.8 288.0,562.6 287.7,558.8 287.3,556.2 287.0,553.1 286.9,549.6 286.9,547.4 286.8,546.4 286.8,544.1 286.7,540.8 284.8,540.7 282.9,539.0 281.0,535.8 280.9,532.1 280.7,530.6 280.6,527.1 280.4,525.8 280.3,521.9 280.1,517.7 280.0,515.7 279.9,513.1 279.7,511.5 279.6,507.6 279.4,506.6 279.3,502.8 279.1,501.0 279.0,497.1 277.1,496.9 275.2,498.5 273.3,499.4 273.2,495.7 273.2,494.2 273.1,490.8 273.1,487.7 273.0,486.6 272.9,482.7 272.9,481.8 272.8,476.8 272.8,475.7 272.7,469.8 272.7,468.6 272.6,466.5 272.6,463.6 272.5,461.3 272.5,458.1 272.4,454.9 272.4,452.5 272.3,447.9 272.2,446.3 272.2,442.4 272.1,440.2 272.1,437.1 272.0,434.6 272.0,432.0 271.9,427.5 271.9,424.9 271.8,423.5 271.8,420.6 271.7,416.4 271.4,418.9 271.1,422.2 270.8,424.5 270.6,429.3 270.3,432.2 270.0,432.8 269.7,437.6 269.4,440.8 269.1,441.6 268.9,445.2 268.6,447.7 268.3,451.3 268.0,454.1 267.7,455.8 267.4,458.5 267.1,462.0 266.9,466.2 266.6,469.2 266.3,472.1 266.0,474.1 265.5,471.5 264.9,469.7 264.4,466.7 263.9,462.3 263.3,460.8 262.8,457.9 262.2,455.1 261.7,451.3 261.4,456.0 261.0,457.2 260.7,461.8 260.4,463.9 260.0,464.9 259.7,469.1 259.3,471.1 259.0,476.0 258.7,477.9 258.3,480.6 258.0,482.6 257.8,484.4 257.5,488.4 257.2,490.7 257.0,494.2 256.8,497.1 256.5,498.8 256.2,501.5 256.0,504.6 255.8,507.8 255.5,511.7 255.2,514.5 255.0,515.4 254.7,519.6 254.4,520.7 254.1,525.6 253.8,527.0 253.5,528.8 253.2,532.7 252.9,534.8 252.6,537.2 252.3,541.0 252.0,543.1 251.6,545.7 251.3,548.7 250.9,550.1 250.5,553.9 250.2,557.9 249.8,560.4 249.5,563.5 249.1,566.2 248.7,568.7 248.4,571.1 248.0,574.5 247.6,572.1 247.3,567.1 246.9,565.3 246.5,563.6 246.2,560.5 245.8,558.2 245.5,555.2 245.1,551.4 244.7,550.6 244.4,545.4 244.0,544.2 243.5,547.1 243.0,549.1 242.5,551.3 242.0,555.5 241.5,557.1 241.0,560.9 240.5,562.6 240.0,566.5 239.4,567.5 238.8,569.7 238.2,572.4 237.6,575.1 237.0,578.1 236.6,581.6 236.1,584.1 235.7,587.2 235.2,589.7 234.8,591.0 234.3,595.2 234.2,598.2 234.1,598.9 234.0,603.5 233.8,605.7 233.7,607.5 233.5,611.4 233.3,612.9 233.2,617.5 233.0,619.9 232.8,623.6 232.6,625.8 232.5,629.7 232.3,632.9 232.1,635.3 231.9,637.3 231.8,640.6 231.6,642.4 231.4,647.6 231.2,649.7 231.1,653.1 230.9,654.3 230.7,657.6 230.5,660.7 230.4,664.0 230.2,667.2 230.0,670.0 229.8,673.6 229.6,676.6 229.4,679.6 229.2,680.8 229.0,685.6 228.8,686.5 228.6,690.0 228.4,693.8 228.3,695.8 228.1,699.7 227.9,702.3 227.7,705.6 227.5,707.8 227.3,712.7 227.1,713.7 226.9,716.8 226.7,720.1 226.5,724.0 226.3,725.3 226.1,727.2 225.9,731.7 225.6,733.9 225.4,738.0 225.2,739.5 225.0,744.0 224.8,745.0 224.6,747.7 224.4,751.8 224.2,755.6 224.0,757.2 223.8,761.7 223.6,763.5 223.3,766.2 223.1,770.3 222.9,772.8 222.7,775.7 222.5,778.1 222.2,776.1 221.9,772.7 221.7,770.7 221.4,766.5 221.1,763.6 220.8,761.5 220.6,758.4 220.3,754.6 220.0,752.4 218.2,751.7 216.5,749.9 214.8,746.8 213.0,745.1 213.0,741.8 212.9,739.5 212.9,735.5 212.9,734.0 212.8,732.5 212.8,728.6 212.8,724.7 212.7,721.9 212.7,719.5 212.7,716.7 212.6,713.6 212.6,710.5 212.6,707.6 212.5,706.1 212.5,703.3 212.3,698.8 212.0,697.4 211.8,693.5 211.6,690.3 211.4,688.3 211.1,685.4 210.9,683.8 210.7,679.2 210.5,678.4 210.2,673.0 210.0,671.5 209.8,674.4 209.6,678.5 209.4,681.4 209.2,684.1 209.0,687.0 208.8,687.9 208.5,692.1 208.3,694.2 208.1,697.6 207.9,701.6 207.7,704.1 207.5,707.7 207.3,708.3 207.1,711.7 206.9,717.1 206.7,718.6 206.5,722.9 206.2,723.9 206.0,728.7 205.8,729.5 205.6,734.3 205.4,736.1 205.2,740.2 205.0,742.5 204.8,739.4 204.7,734.9 204.5,733.3 204.3,730.1 204.1,727.6 204.0,725.2 203.8,721.4 203.6,719.3 203.4,716.1 203.3,711.0 203.1,710.7 202.9,707.0 202.7,703.2 202.6,701.6 202.4,699.2 202.2,695.7 202.0,691.5 201.9,688.4 201.7,686.5 201.6,683.7 201.4,679.6 201.3,678.4 201.1,675.0 201.0,673.5 200.8,669.8 200.7,667.5 200.6,662.6 200.4,659.9 200.3,658.5 200.1,655.0 200.0,652.4 199.6,649.9 199.2,647.5 198.8,643.1 198.3,641.3 197.9,637.3 197.5,636.0 197.4,632.6 197.3,630.5 197.2,628.9 197.1,625.3 197.0,622.0 196.9,619.4 196.8,617.8 196.7,612.6 196.6,610.4 196.5,609.8 196.4,607.0 196.3,603.4 196.3,599.2 196.3,598.2 196.2,593.4 196.2,592.3 196.2,587.9 196.2,584.3 196.2,582.5 196.2,579.6 196.2,577.0 196.1,575.3 196.1,571.8 196.1,568.8 196.1,566.2 196.1,563.2 196.1,560.6 196.0,557.0 196.0,555.9 196.0,552.4 195.0,555.6 194.0,557.2 193.0,559.6 191.2,560.2 189.3,560.3 189.3,558.3 189.2,554.4 189.2,552.2 189.2,548.5 189.1,546.5 189.1,544.8 189.0,541.5 189.0,538.6 188.0,541.8 187.0,544.9 186.0,546.6 185.0,548.9 182.8,550.0 180.5,552.9 178.3,553.4 178.2,555.4 178.1,557.4 178.0,560.7 177.8,563.8 177.7,565.5 177.6,568.5 177.5,572.5 176.7,568.6 175.8,567.5 175.0,563.5 174.2,560.5 173.4,558.3 172.5,554.4 171.7,552.9 170.9,550.9 170.1,548.9 169.3,546.6 169.2,544.5 169.2,542.5 169.2,540.6 169.1,537.3 169.1,534.7 169.0,531.8 167.0,533.3 165.0,534.5 163.9,531.8 162.9,529.0 161.9,526.5 160.8,523.2 160.5,519.2 160.2,518.3 159.9,513.8 159.6,512.1 159.2,509.3 158.9,505.2 158.6,504.7 158.3,500.0 158.0,497.3 156.8,499.5 155.5,502.0 154.2,504.8 153.0,507.0 152.9,505.2 152.8,502.4 152.6,498.6 152.5,495.9 152.4,493.9 152.2,489.9 152.1,488.7 152.0,486.1 151.8,484.1 151.5,479.7 151.2,476.6 151.0,475.0 150.8,471.3 150.5,468.7 150.2,466.6 150.0,462.6 149.8,461.1 149.5,459.5 149.2,455.2 149.0,452.9 148.8,450.4 148.5,446.4 148.3,444.6 148.0,441.5 147.8,436.9 147.5,437.1 147.3,432.6 147.2,431.7 147.2,428.0 147.2,426.2 147.1,423.3 147.1,420.8 147.0,418.1 146.7,415.9 146.3,413.0 146.0,410.3 145.7,407.1 145.3,405.9 145.0,402.5 144.8,401.4 144.6,397.0 144.4,394.2 144.2,391.2 144.0,387.4 143.9,385.1 143.7,383.8 143.5,381.2 143.3,376.6 143.1,373.9 142.9,372.1 142.7,369.2 142.5,365.9 142.3,361.7 142.1,360.8 142.0,357.5 141.8,353.4 141.6,351.8 141.4,348.9 141.2,345.4 141.0,342.7 140.8,340.8 140.6,338.4 140.4,333.7 140.1,332.0 139.9,328.7 139.7,326.7 139.5,323.5 139.3,320.5 139.1,317.0 138.9,314.5 138.6,311.7 138.4,310.2 138.2,307.7 138.0,303.3" fill="#b43b5a" stroke="#b43b5a" stroke-width="4.2" stroke-linejoin="round"/>
<polygon points="138.3,506.2 138.6,508.5 139.0,510.5 139.3,514.5 139.7,516.3 140.0,519.7 140.3,521.9 140.7,524.3 141.0,528.4 141.3,530.8 141.6,532.7 141.9,536.7 142.1,538.8 142.4,541.3 142.7,545.2 143.0,548.2 143.4,551.6 143.8,552.7 144.2,555.3 144.7,559.6 145.1,562.8 145.5,564.7 145.9,566.9 146.3,570.9 146.8,571.7 147.2,576.5 147.6,577.5 148.0,581.1 148.8,582.9 149.6,585.7 150.4,588.7 151.2,593.2 152.0,594.8 153.5,593.0 155.0,591.5 156.5,590.4 158.0,587.7 158.6,584.9 159.1,582.7 159.7,578.7 160.3,575.8 160.9,573.1 161.4,571.6 162.0,568.1 163.3,566.0 164.5,564.4 165.8,563.1 166.6,565.9 167.5,567.7 168.3,570.2 169.2,573.8 170.0,576.6 170.9,577.6 171.7,580.7 172.1,583.7 172.5,587.1 172.8,590.6 173.2,592.7 173.6,594.5 174.0,597.9 174.2,601.8 174.4,602.6 174.6,606.2 174.7,610.4 174.9,611.9 175.1,615.2 175.3,616.8 175.5,621.7 175.7,624.3 175.8,627.3 176.0,631.1 176.2,632.5 176.4,635.7 176.6,638.4 176.8,641.4 176.9,643.8 177.1,648.0 177.3,651.1 177.5,653.2 178.4,655.4 179.3,658.6 180.2,660.8 181.2,665.1 182.1,667.4 183.0,670.3 183.7,673.8 184.5,675.8 185.2,677.0 186.0,679.4 186.7,681.6 187.1,679.6 187.5,675.5 187.9,673.5 188.4,669.7 188.8,667.3 189.2,663.5 189.6,662.8 190.0,658.1 190.4,655.8 190.9,653.7 191.3,651.4 191.7,648.0 191.7,644.1 191.8,641.5 191.8,639.4 191.9,636.9 191.9,633.8 192.0,630.9 192.0,627.0 192.1,623.9 192.1,620.8 192.2,619.2 192.2,616.9 192.3,612.1 192.3,608.8 192.4,605.8 192.4,602.8 192.5,600.9 192.5,597.8 192.5,595.2 192.5,591.6 192.5,588.4 192.6,586.2 192.6,583.4 192.6,580.8 192.6,578.7 192.6,575.5 192.6,572.1 192.6,569.2 192.6,566.0 192.7,562.1 192.7,560.8 192.7,557.7 192.7,555.4 192.7,551.7 192.7,547.9 192.7,545.7 192.7,541.8 192.8,539.8 192.8,535.7 192.8,532.5 192.8,530.6 192.9,527.5 193.0,524.3 193.1,522.0 193.2,517.9 193.3,515.3 193.4,512.8 193.5,510.0 193.6,507.5 193.7,503.9 193.8,502.4 193.9,499.4 194.0,495.3 194.1,492.9 194.2,490.1 194.3,487.0 194.3,483.1 194.4,482.2 194.5,479.6 194.6,475.9 194.7,472.6 194.8,468.5 194.9,466.1 195.0,463.7 195.1,460.6 195.2,459.1 195.3,454.5 195.4,451.1 195.5,450.4 195.6,447.0 195.7,442.8 195.8,441.0 196.1,444.0 196.4,445.4 196.7,449.2 197.0,453.3 197.3,455.7 197.6,458.9 197.9,460.3 198.2,463.2 198.5,465.6 198.8,470.2 199.1,472.7 199.4,475.6 199.7,477.8 200.0,480.8 200.2,483.1 200.4,487.2 200.6,490.5 200.8,493.3 200.9,496.7 201.1,499.4 201.3,502.0 201.5,503.5 201.7,507.2 201.9,509.5 202.1,512.0 202.2,515.0 202.4,518.1 202.6,521.8 202.8,525.1 203.0,528.0 205.2,530.8 207.5,531.1 207.5,534.0 207.6,537.7 207.6,541.0 207.7,543.1 207.7,545.0 207.8,547.0 207.8,550.4 207.8,552.5 207.9,555.4 207.9,559.5 208.0,562.8 208.0,565.2 209.1,568.0 210.2,568.7 211.4,571.1 212.5,573.3 212.6,576.3 212.6,577.3 212.7,581.9 212.7,584.9 212.8,587.3 212.8,589.9 212.9,592.5 212.9,594.8 213.0,598.1 213.0,601.3 213.1,602.7 213.1,607.2 213.1,610.4 213.2,611.3 213.2,614.2 213.2,618.0 213.3,620.5 213.3,623.3 213.5,625.0 213.8,627.8 214.0,630.8 214.2,635.5 214.4,637.4 214.7,639.0 214.9,643.1 215.1,646.3 215.3,648.1 215.6,650.3 215.8,653.9 216.0,655.4 216.2,658.1 216.5,663.0 216.7,664.9 217.0,667.8 217.3,671.0 217.6,674.4 217.9,676.3 218.2,680.7 218.5,683.0 218.8,684.8 219.0,687.6 219.3,690.4 219.6,693.3 219.9,697.5 220.2,699.6 220.5,702.3 220.8,706.2 221.4,707.0 222.1,711.9 222.7,712.8 223.4,715.3 224.0,717.9 224.6,715.0 225.1,712.7 225.7,708.9 226.3,707.3 226.9,703.9 227.4,700.9 228.0,697.8 228.2,695.0 228.4,690.9 228.7,689.0 228.9,685.3 229.1,681.6 229.3,680.8 229.5,676.3 229.7,674.0 230.0,671.8 230.2,668.7 230.4,664.8 230.6,662.3 230.8,659.4 231.0,657.2 231.3,652.5 231.5,650.8 231.7,648.0 232.0,644.1 232.3,641.5 232.6,639.8 232.9,636.5 233.2,633.1 233.5,630.4 233.8,627.9 234.1,623.8 234.3,621.3 234.6,618.6 234.9,616.0 235.2,613.3 235.5,609.3 235.8,606.7 236.1,604.1 236.4,602.2 236.7,597.8 237.6,596.0 238.5,594.3 239.4,591.9 240.3,587.6 241.2,585.8 242.1,584.7 243.0,580.9 243.2,578.5 243.5,573.8 243.7,571.2 243.9,569.1 244.2,565.2 244.4,562.8 244.6,560.0 244.8,558.6 245.1,555.5 245.3,553.1 245.5,548.7 245.8,546.8 246.0,544.0 246.2,539.6 246.5,539.0 246.7,534.8 246.7,532.9 246.7,528.8 246.8,527.5 246.8,523.1 246.8,520.9 246.8,518.6 246.8,516.0 246.9,511.4 246.9,508.6 246.9,506.1 246.9,502.8 247.0,499.5 247.0,496.8 247.0,494.5 247.3,492.2 247.6,488.2 247.9,486.2 248.2,483.7 248.5,480.2 248.8,478.1 249.0,475.7 249.3,472.8 249.6,469.3 249.9,468.8 250.2,465.3 250.5,462.6 250.8,458.7 251.9,459.7 252.9,461.8 254.0,465.0 255.1,460.9 256.1,460.2 257.2,455.6 258.3,454.3 258.5,456.1 258.7,459.5 258.9,464.2 259.1,467.0 259.2,468.0 259.4,471.1 259.6,475.5 259.8,478.2 260.0,481.1 260.0,483.6 260.1,485.4 260.1,487.6 260.1,492.6 260.2,494.7 260.2,496.8 260.2,500.9 260.3,503.2 260.3,506.1 260.5,508.8 260.6,510.8 260.8,514.6 260.9,516.1 261.1,520.5 261.2,522.3 261.4,525.0 261.5,527.9 261.7,530.8 262.2,534.4 262.7,535.6 263.2,538.4 263.7,542.0 264.2,543.5 264.7,545.9 265.2,549.3 265.7,551.1 266.2,553.9 266.7,558.2 267.1,559.8 267.5,563.1 267.9,566.9 268.4,569.0 268.8,572.5 269.2,573.9 269.6,577.4 270.0,581.1 270.3,582.2 270.6,586.1 270.9,587.9 271.1,592.5 271.4,594.6 271.7,597.6 271.8,599.9 271.8,603.8 271.9,607.2 271.9,608.1 272.0,613.1 272.0,615.2 272.1,617.9 272.2,621.5 272.2,623.4 272.3,627.1 272.3,630.2 272.4,633.7 272.4,634.9 272.5,639.5 272.5,641.6 272.6,645.1 272.7,647.1 272.7,649.7 272.8,651.9 272.8,654.8 272.9,657.8 272.9,662.4 273.0,664.9 273.1,667.2 273.1,669.7 273.2,673.0 273.2,677.2 273.3,680.3 273.4,682.7 273.4,685.4 273.5,687.7 273.6,690.7 273.6,694.8 273.7,696.6 273.8,700.0 273.8,703.0 273.9,707.4 273.9,710.6 274.0,713.0 274.2,709.9 274.3,705.6 274.5,705.0 274.7,700.0 274.8,696.9 275.0,693.8 275.2,691.0 275.4,688.3 275.5,686.0 275.7,682.1 275.9,679.7 276.0,676.0 276.2,673.5 276.4,669.3 276.5,667.9 276.7,664.8 277.0,660.5 277.2,657.6 277.5,655.8 277.8,653.1 278.1,650.3 278.4,648.0 278.6,645.9 278.9,642.1 279.2,640.1 279.4,637.7 279.7,632.8 280.0,630.6 280.0,627.0 280.1,625.8 280.1,620.9 280.1,619.1 280.1,615.8 280.2,611.9 280.2,610.9 280.2,608.3 280.2,604.5 280.3,601.2 280.3,598.4 280.7,601.1 281.1,603.0 281.5,606.4 281.8,609.1 282.2,613.1 282.6,615.7 283.0,617.8 283.4,621.3 283.8,623.1 284.2,627.0 284.6,628.7 285.0,631.3 285.4,633.1 285.8,635.3 286.2,637.8 286.6,641.6 287.0,644.5 287.3,640.2 287.7,639.2 288.0,635.6 288.3,632.9 288.7,630.5 289.0,626.9 289.3,623.8 289.7,619.4 290.0,618.0 290.5,621.8 291.0,623.6 291.5,626.0 292.0,629.5 292.5,632.0 293.0,634.3 293.1,630.1 293.2,628.8 293.3,625.0 293.4,621.8 293.6,618.9 293.7,617.0 293.8,612.8 293.9,610.8 294.0,608.6 294.1,604.9 294.2,601.8 294.3,598.1 294.4,595.6 294.6,593.1 294.7,589.9 294.8,587.4 294.9,583.0 295.0,581.0 295.1,577.5 295.3,574.4 295.4,572.6 295.6,569.2 295.7,567.4 295.9,563.2 296.0,559.9 296.1,558.5 296.3,556.2 296.4,554.1 296.6,550.7 296.7,547.5 296.9,544.5 297.0,541.8 297.2,538.9 297.4,535.8 297.5,532.3 297.7,531.7 297.9,526.8 298.0,526.3 298.2,523.3 298.3,518.5 298.5,516.0 298.7,514.2 298.8,511.4 299.0,507.9 299.3,510.4 299.6,512.9 299.9,515.4 300.1,520.6 300.4,521.5 300.7,525.1 301.0,526.9 301.3,530.4 301.6,534.4 301.9,535.3 302.1,540.3 302.4,542.0 302.7,545.4 303.0,547.8 303.3,551.2 303.6,552.9 303.9,557.1 304.2,558.7 304.5,560.1 304.9,563.4 305.2,567.4 305.5,569.9 305.8,571.6 306.1,573.8 306.4,577.6 306.7,580.4 306.7,582.6 306.8,587.4 306.8,587.6 306.8,592.4 306.8,595.8 306.9,596.3 306.9,602.0 306.9,604.1 306.9,607.4 306.9,608.4 307.0,611.1 307.0,614.2 307.4,616.8 307.8,621.5 308.2,623.2 308.6,625.8 309.0,628.2 309.4,630.9 309.7,633.0 310.1,635.7 310.5,639.9 310.9,641.5 311.3,645.9 311.7,647.4 311.9,650.5 312.1,652.5 312.3,656.4 312.5,658.7 312.7,662.4 312.9,666.6 313.1,669.2 313.3,671.8 313.4,674.0 313.6,678.4 313.8,681.0 314.0,682.9 314.2,686.6 314.4,688.0 314.6,692.4 314.8,694.5 315.0,697.7 315.1,701.5 315.2,704.0 315.3,705.9 315.4,708.4 315.5,713.1 315.6,714.0 315.7,718.2 315.8,720.7 315.9,723.9 316.0,727.4 316.1,730.7 316.2,732.4 316.3,736.0 316.4,738.2 316.6,741.8 316.7,744.3 316.8,746.9 316.9,749.1 317.0,752.2 317.1,757.0 317.2,758.5 317.3,760.7 317.4,765.9 317.5,769.1 317.6,770.6 317.7,773.0 317.8,775.3 317.9,778.0 318.0,782.8 318.2,779.1 318.4,776.0 318.6,772.6 318.8,769.9 319.0,768.0 319.2,766.4 319.4,763.3 319.6,759.0 319.9,755.9 320.1,754.0 320.3,750.7 320.5,747.0 320.7,744.1 320.9,741.6 321.1,740.8 321.3,735.5 321.5,733.0 321.7,730.9 321.9,728.2 322.1,725.5 322.3,720.7 322.5,718.4 322.7,715.1 322.9,713.3 323.1,710.3 323.4,708.1 323.6,705.0 323.8,701.9 324.0,696.9 324.2,694.3 324.4,693.4 324.6,690.7 324.8,686.8 325.0,683.5 325.2,686.9 325.5,688.0 325.8,692.5 326.0,696.1 326.2,698.8 326.5,701.5 326.8,705.1 327.0,706.5 327.2,708.8 327.5,711.6 327.8,714.8 328.0,718.1 328.2,722.4 328.5,723.9 328.8,726.9 329.0,729.5 329.2,732.3 329.5,734.9 329.8,736.3 330.0,740.3 330.1,738.9 330.1,734.1 330.1,734.1 330.2,730.6 330.2,726.2 330.3,724.4 330.7,721.0 331.2,718.7 331.6,715.9 332.0,713.3 332.4,709.4 332.9,707.1 333.3,705.4 333.7,702.5 334.1,699.4 334.6,695.5 335.0,693.7 335.8,696.4 336.7,698.4 337.5,702.0 338.3,704.2 339.2,708.8 340.0,709.9 340.2,707.7 340.5,705.0 340.7,701.7 340.9,697.9 341.2,695.9 341.4,694.4 341.6,690.8 341.8,687.3 342.1,683.4 342.3,682.8 342.5,680.1 342.8,677.1 343.0,674.0 343.3,670.4 343.6,668.2 343.9,667.0 344.2,661.6 344.5,658.9 344.9,656.0 345.2,654.0 345.5,651.2 345.8,647.7 346.1,646.0 346.4,643.1 346.7,639.9 348.7,638.7 350.7,636.5 352.7,636.0 354.7,632.8 356.7,631.5 357.4,630.2 358.1,625.0 358.8,623.0 359.5,620.9 360.2,617.7 360.9,615.2 361.6,611.5 362.3,609.0 363.0,605.8 363.2,602.4 363.4,600.1 363.5,598.0 363.7,595.5 363.9,590.6 364.1,588.9 364.2,584.4 364.4,584.3 364.6,578.3 364.8,576.5 364.9,573.4 365.1,570.0 365.3,568.9 365.5,566.6 365.6,562.9 365.8,559.9 366.0,555.7 366.1,554.8 366.2,551.4 366.3,548.0 366.4,546.9 366.5,543.7 366.6,538.9 366.7,538.7 367.4,540.7 368.1,543.1 368.8,546.7 369.5,549.0 370.2,552.0 370.9,554.2 371.6,557.1 372.3,561.1 373.0,564.3 373.2,568.2 373.3,569.5 373.5,574.4 373.7,574.3 373.8,577.1 374.0,581.3 374.2,584.1 374.3,587.1 374.5,588.3 374.7,591.5 374.8,595.0 375.0,597.6 375.4,602.2 375.8,601.9 376.2,605.8 376.7,609.3 377.1,610.4 377.5,614.1 377.9,618.0 378.3,620.1 378.8,621.9 379.2,624.1 379.6,627.7 380.0,631.2 380.4,634.8 380.8,635.2 381.2,639.1 381.7,642.9 382.1,644.3 382.5,647.5 382.9,651.9 383.3,652.9 383.8,654.8 384.2,659.0 384.6,660.4 385.0,663.8 385.7,665.9 386.5,667.4 387.2,672.9 388.0,676.0 388.7,678.0 389.5,681.7 390.2,681.1 391.0,684.2 391.7,688.0 392.0,690.8 392.4,694.9 392.7,697.8 393.0,699.1 393.4,701.6 393.7,704.7 394.0,708.3 394.3,710.5 394.7,712.2 395.0,715.4 395.1,719.1 395.1,722.2 395.2,725.9 395.2,728.4 395.3,729.6 395.4,732.4 395.4,736.5 395.5,738.3 395.5,742.6 395.6,744.6 395.6,747.6 395.7,751.1 395.8,753.7 395.8,755.7 395.9,758.9 395.9,761.8 396.0,764.5 396.4,768.6 396.9,772.6 397.3,774.0 397.8,776.7 398.2,778.1 398.7,781.6 399.1,782.8 399.6,787.0 400.0,789.4 400.2,793.4 400.5,796.1 400.7,797.9 401.0,801.2 401.2,802.6 401.5,806.4 401.7,807.9 402.1,812.0 402.5,814.1 402.9,817.5 403.4,818.2 403.8,823.5 404.2,824.2 404.6,827.6 405.0,831.8 405.8,828.5 406.7,825.1 407.5,822.2 408.3,818.7 409.2,817.0 410.0,814.6 410.2,810.3 410.3,810.1 410.5,807.3 410.6,802.7 410.8,800.6 410.9,799.2 411.1,793.8 411.2,791.8 411.4,790.3 411.6,787.1 411.7,784.7 411.9,780.4 412.0,778.1 412.2,774.5 412.3,773.1 412.5,769.6 412.9,773.3 413.2,772.3 413.6,777.4 413.9,779.9 414.3,781.2 414.6,786.9 415.0,789.0 416.7,787.6 418.3,787.0 420.0,784.7 420.7,780.1 421.4,778.2 422.1,776.3 422.9,771.1 423.6,769.5 424.3,769.0 425.0,763.2 425.4,759.8 425.8,759.0 426.2,755.3 426.7,751.1 427.1,748.3 427.5,745.1 427.9,742.4 428.3,739.4 428.8,737.3 429.2,735.5 429.6,732.2 430.0,729.8 430.6,723.9 431.1,721.7 431.7,721.3 432.2,715.4 432.8,713.9 433.4,711.4 433.9,709.8 434.5,704.2 435.0,701.9 435.6,697.2 436.1,696.6 436.7,693.1 437.4,696.7 438.1,699.6 438.8,700.2 439.5,702.3 440.2,705.9 440.9,708.9 441.6,710.2 442.3,714.2 443.0,716.1 443.1,720.4 443.3,720.7 443.4,725.4 443.6,728.5 443.7,730.9 443.9,735.0 444.0,736.4 444.1,738.6 444.3,739.3 444.4,745.8 444.6,746.7 444.7,749.1 444.9,752.1 445.0,754.2 446.1,757.4 447.2,762.7 448.4,762.6 449.5,767.3 450.6,768.7 451.7,771.6 451.8,774.6 451.9,777.0 451.9,780.0 452.0,782.7 452.1,787.4 452.2,786.7 452.2,791.9 452.3,794.0 452.4,798.4 452.5,798.8 452.5,802.3 452.6,805.3 452.7,809.5 452.8,811.1 452.8,815.7 452.9,817.2 453.0,820.3 453.6,819.6 454.2,814.3 454.9,811.1 455.5,809.4 456.1,808.9 456.7,803.1 458.3,802.9 459.9,801.0 461.4,800.7 463.0,798.6 464.7,795.8 466.3,793.5 468.0,791.6 468.8,789.1 469.5,787.5 470.2,783.1 471.0,780.1 471.8,776.6 472.5,774.9 472.8,775.5 473.1,779.3 473.4,782.1 473.8,784.0 474.1,787.8 474.4,790.2 474.7,792.9 475.0,796.4 476.7,796.1 478.3,791.8 480.0,791.5 481.0,789.9 482.0,788.1 483.0,786.2 484.0,781.2 485.0,779.0 485.5,778.4 485.9,774.7 486.4,772.1 486.8,769.3 487.3,764.6 487.7,765.1 488.2,762.7 488.6,757.5 489.1,756.3 489.5,752.8 490.0,749.2 490.2,747.2 490.4,745.3 490.6,742.6 490.8,738.7 490.9,735.4 491.1,730.7 491.3,730.6 491.5,725.9 491.7,722.4 491.9,721.4 492.1,718.4 492.2,713.8 492.4,711.1 492.6,709.7 492.8,705.7 493.0,704.1 493.4,700.3 493.8,697.2 494.2,693.9 494.7,693.0 495.1,690.1 495.5,685.4 495.9,684.0 496.3,679.0 496.8,679.7 497.2,676.2 497.6,673.6 498.0,671.6 498.3,665.3 498.6,665.8 498.9,660.9 499.2,659.9 499.5,654.0 499.9,652.9 500.2,651.8 500.5,647.9 500.8,646.5 501.1,641.0 501.4,640.0 501.7,635.0 501.9,633.7 502.2,632.7 502.4,627.8 502.6,623.5 502.9,621.6 503.1,619.8 503.4,614.3 503.6,613.0 503.8,609.5 504.1,606.8 504.3,604.7 504.5,600.4 504.8,599.0 505.0,594.5 505.2,592.6 505.5,589.4 505.8,586.6 506.0,581.7 506.2,580.9 506.5,577.7 506.8,574.3 507.0,570.7 507.2,569.1 507.5,565.6 507.8,564.3 508.0,561.5 508.2,557.1 508.3,556.8 508.5,551.7 508.7,548.1 508.8,545.0 509.0,542.5 509.2,540.6 509.3,535.9 509.5,536.1 509.6,529.9 509.8,528.7 510.0,525.9 510.1,520.2 510.3,520.2 510.5,516.8 510.6,512.3 510.8,509.9 510.8,509.3 510.9,503.2 510.9,502.4 511.0,500.2 511.0,496.5 511.0,492.5 511.1,488.9 511.1,486.3 511.2,485.2 511.2,479.9 511.2,479.4 511.3,475.0 511.3,473.5 511.4,471.1 511.4,465.9 511.5,463.3 511.5,460.8 511.5,455.6 511.6,453.3 511.6,451.4 511.7,448.5 511.7,446.8 511.9,449.8 512.0,453.1 512.2,454.7 512.4,456.3 512.6,458.8 512.7,463.5 512.9,465.2 513.1,466.9 513.3,470.4 513.4,474.9 513.6,477.6 513.8,480.0 514.0,484.5 514.1,487.2 514.3,487.4 514.5,493.6 514.7,496.1 514.8,497.1 515.0,499.4 515.1,499.2 515.2,493.2 515.3,491.7 515.5,487.1 515.6,484.7 515.7,482.3 515.8,481.1 515.9,477.0 516.0,474.5 516.1,469.6 516.2,468.3 516.4,466.0 516.5,460.4 516.6,458.7 516.7,456.4 516.9,459.5 517.2,463.4 517.4,464.9 517.6,467.2 517.9,471.5 518.1,471.6 518.4,475.9 518.6,478.6 518.8,480.7 519.1,483.5 519.3,488.6 519.5,489.2 519.8,492.3 520.0,496.7 520.2,492.5 520.4,488.0 520.5,486.1 520.7,485.1 520.9,480.1 521.1,477.4 521.2,474.3 521.4,470.1 521.6,468.3 521.8,464.4 521.9,461.4 522.1,459.6 522.3,456.3 522.5,453.2 522.6,449.2 522.8,449.9 523.0,445.2 523.6,447.2 524.2,449.1 524.9,453.9 525.5,456.0 526.1,457.7 526.7,460.6 527.8,460.8 528.9,466.2 530.0,469.1 530.6,468.7 531.2,472.1 531.8,475.6 532.4,479.0 533.0,480.8 533.2,482.9 533.5,486.6 533.8,488.9 534.0,492.9 534.2,493.3 534.5,497.6 534.8,499.9 535.0,503.5 536.2,499.1 537.5,497.1 538.8,496.4 540.0,492.7 540.1,490.8 540.3,489.8 540.4,484.2 540.6,480.8 540.7,480.3 540.9,476.9 541.0,475.2 541.1,471.1 541.3,469.1 541.4,466.6 541.6,462.2 541.7,461.3 541.8,456.1 541.9,455.2 542.0,451.9 542.1,449.4 542.2,446.0 542.3,444.9 542.4,441.7 542.4,438.5 542.5,435.8 542.6,434.4 542.7,429.1 542.8,426.2 542.9,423.9 543.0,420.5 544.2,421.3 545.5,423.3 546.7,427.7 547.2,430.4 547.8,432.2 548.4,436.0 548.9,436.7 549.5,438.6 550.0,443.3 550.4,446.4 550.9,449.0 551.3,450.3 551.8,452.4 552.2,456.6 552.7,458.1 553.1,463.0 553.6,465.7 554.0,467.4 555.5,466.1 557.0,465.4 558.5,461.7 560.0,459.8 560.1,456.6 560.1,454.1 560.2,452.2 560.3,449.6 560.4,445.2 560.4,441.9 560.5,441.3 560.6,436.5 560.6,434.0 560.7,430.1 560.8,427.7 560.9,423.2 560.9,420.5 561.0,419.5 561.2,421.8 561.5,426.2 561.8,426.6 562.0,431.7 562.2,432.6 562.5,435.9 562.8,436.5 563.0,440.7 565.2,440.9 567.5,443.8 567.6,445.9 567.8,447.2 567.9,449.8 568.0,454.4 568.1,457.3 568.2,459.5 568.4,461.9 568.5,466.0 568.6,466.9 568.8,470.1 568.9,473.8 569.0,476.3 570.0,479.6 571.0,482.3 572.0,484.7 573.0,487.6 574.7,487.0 576.3,490.6 578.0,494.6 578.0,495.1 578.0,500.6 578.1,501.8 578.1,504.1 578.1,506.2 578.1,508.0 578.2,512.5 578.2,514.0 578.2,519.8 578.2,521.0 578.3,521.8 578.3,527.0 578.5,528.6 578.7,533.1 578.9,534.6 579.1,537.6 579.2,539.4 579.4,544.1 579.6,545.9 579.8,548.3 580.0,552.3 580.2,554.0 580.4,558.0 580.6,560.7 580.8,561.2 580.9,566.4 581.1,568.9 581.3,570.3 581.5,575.2 581.7,578.7 581.9,579.2 582.1,583.0 582.2,585.9 582.4,591.5 582.6,594.0 582.8,596.9 583.0,598.5 583.3,596.1 583.6,592.4 583.9,590.0 584.2,588.2 584.5,585.1 584.8,580.0 585.1,581.0 585.4,574.8 585.7,573.0 586.0,572.3 587.0,571.5 588.0,575.1 588.4,572.9 588.8,569.4 589.1,565.8 589.5,564.7 589.9,561.7 590.2,557.7 590.6,555.2 591.0,554.0 591.6,552.2 592.1,549.1 592.7,546.2 593.3,542.5 593.9,539.7 594.4,536.6 595.0,535.2 595.6,532.6 596.1,529.8 596.7,527.9 597.2,522.4 597.8,520.0 598.3,519.1 598.9,516.7 599.4,511.6 600.0,510.2 600.6,508.1 601.1,505.8 601.7,501.2 602.3,499.9 602.9,497.4 603.4,494.5 604.0,490.5 606.0,492.7 608.0,492.6 608.6,494.3 609.2,499.2 609.9,501.8 610.5,504.0 611.1,507.3 611.7,509.3 612.2,512.3 612.8,514.0 613.4,517.2 613.9,522.4 614.5,524.0 615.0,525.7 615.1,527.4 615.2,533.7 615.3,534.7 615.4,537.5 615.5,541.3 615.6,544.2 615.7,546.3 615.9,549.6 616.0,552.2 616.1,556.9 616.2,559.1 616.3,560.8 616.4,564.7 616.5,567.3 616.6,570.9 616.7,573.3 616.8,576.4 616.9,580.4 617.0,581.2 617.1,585.4 617.2,587.9 617.3,589.9 617.4,592.2 617.4,596.8 617.5,598.3 617.6,601.5 617.7,604.4 617.8,607.7 617.9,609.0 618.0,613.9 618.6,610.3 619.1,607.3 619.7,605.7 620.2,601.6 620.8,598.3 621.3,596.9 621.9,592.4 622.4,589.7 623.0,586.6 624.2,584.8 625.5,581.6 626.7,579.1 627.1,575.2 627.5,572.2 627.9,569.3 628.2,565.7 628.6,564.1 629.0,559.9 629.4,563.9 629.7,566.9 630.1,570.7 630.5,571.8 630.8,576.3 631.2,578.1 631.5,581.1 631.9,585.6 632.3,587.2 632.6,589.2 633.0,592.9 633.3,596.9 633.7,599.2 634.0,602.2 634.3,605.4 634.7,609.5 635.0,608.3 635.4,613.1 635.7,615.0 636.0,619.1 636.4,620.5 636.7,624.2 638.4,624.7 640.0,627.5 641.5,626.4 643.0,627.4 644.2,627.7 645.5,624.7 646.7,621.7 649.2,621.2 651.7,620.1 652.1,618.0 652.4,615.7 652.8,612.5 653.2,609.0 653.5,605.6 653.9,606.0 654.3,600.0 654.6,599.3 655.0,594.1 655.6,591.5 656.2,589.3 656.8,585.2 657.4,584.6 658.0,580.4 658.5,578.7 659.0,575.1 659.5,573.8 660.0,569.1 660.2,567.0 660.3,564.4 660.5,561.7 660.7,560.0 660.9,558.6 661.0,552.8 661.2,552.1 661.4,547.2 661.5,545.3 661.7,543.1 661.9,542.6 662.0,538.9 662.2,534.6 662.4,531.8 662.5,528.9 662.7,524.4 662.8,523.2 663.0,519.7 664.9,522.7 666.7,522.4 669.2,525.5 671.7,523.5 672.4,526.0 673.0,528.3 673.7,532.6 674.3,535.6 675.0,537.2 675.3,542.9 675.6,543.5 675.9,546.5 676.2,549.1 676.6,553.0 676.9,555.4 677.2,557.8 677.5,560.3 677.6,562.7 677.8,564.1 677.9,568.2 678.0,570.2 678.1,576.0 678.2,575.4 678.4,579.5 678.5,582.4 678.6,585.3 678.8,587.3 678.9,590.1 679.0,592.5 679.0,596.3 679.0,598.0 679.1,601.4 679.1,605.2 679.1,606.7 679.1,610.5 679.1,614.7 679.1,615.4 679.2,618.0 679.2,622.9 679.2,624.8 679.2,625.1 679.2,631.8 679.2,634.5 679.3,636.8 679.3,639.0 679.3,641.7 680.0,645.4 680.8,646.2 681.5,648.8 682.3,648.5 683.0,654.5 683.2,657.2 683.3,659.0 683.5,661.4 683.7,663.8 683.8,667.7 684.0,670.3 684.2,674.1 684.3,676.4 684.5,677.5 684.7,681.8 684.8,684.1 685.0,687.6 685.6,684.1 686.2,681.9 686.9,678.9 687.5,676.3 688.1,672.5 688.8,672.1 689.4,666.5 690.0,664.8 691.7,666.3 693.4,667.2 695.0,668.3 696.7,670.8 696.9,673.3 697.0,675.2 697.2,679.8 697.4,682.7 697.5,685.3 697.7,687.6 697.8,689.5 698.0,693.5 700.5,689.7 703.0,692.2 703.7,693.4 704.5,694.9 705.2,699.2 706.0,699.7 706.7,704.7 707.0,705.8 707.2,709.4 707.5,711.7 707.8,716.4 708.1,717.2 708.4,721.7 708.6,723.1 708.9,728.2 709.2,729.7 709.5,733.4 709.7,735.9 710.0,738.0 710.3,739.9 710.7,745.1 711.0,744.4 711.3,748.9 711.7,752.2 712.0,754.6 712.3,758.1 712.7,761.1 713.0,764.0 713.8,761.6 714.7,756.4 715.5,756.9 716.3,751.9 717.2,748.1 718.0,745.6 718.8,745.1 719.6,740.2 720.3,738.6 721.1,734.3 721.9,732.0 722.7,731.9 723.4,725.6 724.2,722.9 725.0,722.7 726.2,718.4 727.5,717.5 728.8,714.2 730.0,711.4 731.0,709.9 732.0,706.7 733.0,705.4 734.0,704.6 735.0,699.7 735.5,697.4 735.9,696.1 736.4,690.8 736.8,689.5 737.3,686.9 737.7,684.7 738.2,681.2 738.6,679.0 739.1,675.7 739.5,673.8 740.0,669.9 742.2,668.1 744.5,665.9 746.7,667.4 748.4,665.2 750.0,661.7 751.7,659.1 753.3,656.9 755.0,653.7 756.7,657.7 758.3,659.5 760.0,660.6 761.3,663.5 762.7,665.3 764.0,668.7 765.4,668.8 766.7,672.6 768.3,670.4 769.9,670.0 771.4,666.6 773.0,663.5 774.8,667.9 776.5,668.9 778.2,671.2 780.0,672.8 780.8,675.3 781.7,680.5 782.5,683.3 783.3,685.9 784.2,687.3 785.0,689.3 786.0,694.4 787.0,695.3 788.0,698.6 789.0,701.2 790.0,702.1 791.3,705.2 792.7,707.6 794.0,708.9 795.4,712.7 796.7,715.9 798.8,715.5 800.9,712.5 803.0,711.4 805.3,711.8 807.7,710.0 810.0,708.8 811.0,707.4 812.0,702.8 813.0,701.3 815.3,699.2 817.7,697.2 820.0,697.1 821.3,698.3 822.7,700.4 824.0,702.6 824.7,701.3 825.3,698.9 826.0,694.8 826.7,693.5 827.3,689.0 828.0,687.7 828.7,682.6 829.3,679.0 830.0,678.8 830.7,676.9 831.5,674.0 832.2,670.1 833.0,667.6 833.7,662.3 834.5,661.8 835.2,660.4 836.0,657.7 836.7,653.8 837.2,652.9 837.8,648.2 838.4,645.0 838.9,641.1 839.5,641.1 840.0,639.3 841.7,635.3 843.4,632.1 845.0,629.8 846.7,627.3 848.3,626.3 849.9,624.5 851.4,621.0 853.0,622.3 853.6,626.0 854.2,624.6 854.9,628.9 855.5,629.2 856.1,632.3 856.7,636.5 857.2,641.0 857.8,641.6 858.4,645.7 858.9,645.9 859.5,648.5 860.0,653.6 860.3,657.5 860.7,660.6 861.0,663.3 861.3,666.1 861.7,664.9 862.0,670.1 862.3,672.8 862.7,676.4 863.0,678.1 864.2,682.4 865.5,683.3 866.8,685.3 868.0,687.0 869.4,690.8 870.8,690.8 872.2,692.0 873.6,695.8 875.0,698.0 875.3,704.1 875.6,703.2 875.9,708.0 876.1,711.3 876.4,712.3 876.7,715.2 878.8,718.3 880.9,719.3 883.0,720.7 884.9,721.0 886.7,723.1 887.2,727.2 887.6,730.1 888.1,732.2 888.6,734.3 889.1,736.6 889.5,739.7 890.0,742.0 892.2,744.3 894.5,745.6 896.7,746.9 897.2,748.8 897.6,752.4 898.1,754.5 898.6,756.3 899.1,760.2 899.5,763.3 900.0,764.7 900.3,767.4 900.5,770.4 900.8,772.6 901.1,776.3 901.4,779.0 901.6,781.9 901.9,784.0 902.2,786.9 902.5,790.6 902.7,795.2 903.0,796.0 904.4,794.9 905.8,792.3 907.2,790.2 908.6,788.0 910.0,786.3 910.6,787.8 911.2,790.5 911.8,794.0 912.4,797.8 913.0,798.1 913.3,801.7 913.7,803.4 914.0,805.8 914.3,808.6 914.7,812.4 915.0,814.0 915.3,818.4 915.7,820.6 916.0,823.0 916.2,818.9 916.4,818.6 916.6,815.6 916.8,812.1 917.0,808.5 917.2,804.6 917.4,804.0 917.6,800.8 917.8,797.5 918.0,793.4 918.4,792.2 918.8,787.1 919.1,784.2 919.5,781.9 919.9,779.4 920.2,776.1 920.6,774.0 921.0,771.3 921.7,775.1 922.3,775.2 923.0,778.2 923.7,780.5 924.3,783.1 925.0,785.2 926.7,786.6 928.4,788.6 930.0,791.8 931.7,793.9 933.1,793.1 934.6,790.0 936.0,788.5 936.3,783.5 936.6,783.8 936.9,779.8 937.2,776.7 937.5,774.1 937.8,773.0 938.1,768.9 938.4,766.4 938.7,762.1 939.0,759.6 940.2,763.8 941.5,764.2 942.8,767.9 944.0,770.0 944.3,772.3 944.6,776.5 944.9,778.9 945.2,781.9 945.5,783.7 945.8,787.3 946.1,789.5 946.4,791.6 946.7,795.6 948.8,797.6 950.9,796.3 953.0,795.6 953.7,797.6 954.4,802.6 955.1,804.4 955.9,806.7 956.6,809.6 957.3,811.8 958.0,816.2 958.6,818.7 959.3,820.0 959.9,822.6 960.6,827.8 961.2,830.2 961.9,831.6 962.5,834.1 963.0,830.8 963.4,828.2 963.9,826.6 964.4,822.8 964.8,821.2 965.3,817.8 965.8,815.1 966.2,813.2 966.7,809.5 967.4,810.7 968.1,814.1 968.8,816.0 969.6,818.6 970.3,821.6 971.0,823.7 971.7,828.5 973.4,825.1 975.0,824.3 976.7,821.7 976.9,818.7 977.1,816.5 977.4,814.1 977.6,808.2 977.8,807.4 978.0,804.5 978.2,799.8 978.5,799.4 978.7,795.2 978.9,792.9 979.1,791.3 979.3,788.3 979.6,784.7 979.8,782.3 980.0,779.3 980.7,775.6 981.5,772.2 982.2,770.9 982.9,768.5 983.6,763.9 984.3,760.1 985.1,758.7 985.8,756.7 986.3,758.9 986.8,763.0 987.4,765.1 987.9,767.6 988.4,769.4 989.0,773.8 989.5,775.9 990.0,779.0 991.2,782.2 992.5,783.3 992.7,781.6 993.0,776.7 993.2,774.6 993.4,773.4 993.7,770.9 993.9,767.2 994.1,763.8 994.4,761.4 994.6,757.9 994.9,753.6 995.1,751.3 995.3,748.1 995.6,745.2 995.8,742.6 996.4,745.4 997.0,747.9 997.6,751.8 998.2,753.5 998.8,757.4 999.4,759.1 1000.0,763.4 1000.1,766.0 1000.3,767.9 1000.4,770.8 1000.6,775.3 1000.7,776.8 1000.9,781.4 1001.0,783.5 1001.1,786.8 1001.3,787.8 1001.4,789.8 1001.6,792.8 1001.7,795.9 1001.9,800.2 1002.1,802.2 1002.3,805.3 1002.5,807.8 1002.7,810.2 1002.9,813.7 1003.0,816.6 1003.2,819.9 1003.4,822.0 1003.6,824.4 1003.8,827.5 1004.0,831.9 1005.5,829.0 1007.0,826.0 1008.5,823.5 1010.0,821.2 1010.8,818.5 1011.7,814.3 1012.5,812.4 1013.3,809.1 1014.2,805.7 1015.0,803.8 1015.3,801.5 1015.7,797.4 1016.0,795.2 1016.3,793.5 1016.7,789.5 1017.0,788.7 1017.3,784.6 1017.7,783.1 1018.0,779.9 1018.5,774.4 1019.1,774.9 1019.6,771.1 1020.1,767.8 1020.6,765.5 1021.2,761.2 1021.7,758.8 1022.4,756.4 1023.1,752.3 1023.8,749.6 1024.6,748.5 1025.3,746.3 1026.0,742.7 1026.7,739.2 1026.7,747.3 1026.0,750.9 1025.3,753.6 1024.6,756.5 1023.8,758.0 1023.1,760.1 1022.4,762.9 1021.7,766.0 1021.2,769.5 1020.6,771.9 1020.1,774.5 1019.6,778.2 1019.1,782.5 1018.5,783.3 1018.0,786.8 1017.7,791.0 1017.3,791.8 1017.0,796.6 1016.7,797.8 1016.3,800.5 1016.0,803.3 1015.7,805.8 1015.3,810.6 1015.0,812.5 1014.2,814.1 1013.3,816.4 1012.5,821.0 1011.7,822.9 1010.8,827.0 1010.0,829.5 1008.5,830.8 1007.0,834.8 1005.5,836.7 1004.0,838.9 1003.8,835.0 1003.6,832.6 1003.4,830.0 1003.2,828.0 1003.0,823.6 1002.9,822.8 1002.7,817.7 1002.5,814.9 1002.3,813.4 1002.1,810.0 1001.9,807.4 1001.7,804.2 1001.6,799.5 1001.4,798.5 1001.3,794.0 1001.1,794.0 1001.0,790.8 1000.9,788.9 1000.7,783.8 1000.6,782.6 1000.4,778.2 1000.3,776.4 1000.1,774.1 1000.0,771.0 999.4,767.0 998.8,765.3 998.2,762.2 997.6,759.3 997.0,756.3 996.4,753.2 995.8,750.6 995.6,752.3 995.3,755.5 995.1,759.0 994.9,761.8 994.6,766.5 994.4,768.5 994.1,770.4 993.9,775.6 993.7,779.1 993.4,780.1 993.2,782.2 993.0,785.4 992.7,790.4 992.5,792.7 991.2,790.4 990.0,786.9 989.5,784.4 989.0,782.4 988.4,776.8 987.9,776.5 987.4,773.9 986.8,769.9 986.3,766.4 985.8,763.6 985.1,766.5 984.3,769.2 983.6,771.2 982.9,777.1 982.2,779.5 981.5,780.7 980.7,783.8 980.0,786.4 979.8,789.0 979.6,792.6 979.3,796.5 979.1,798.4 978.9,801.5 978.7,803.8 978.5,807.1 978.2,808.5 978.0,811.9 977.8,815.0 977.6,817.4 977.4,821.1 977.1,824.6 976.9,826.3 976.7,829.5 975.0,832.4 973.4,833.1 971.7,836.5 971.0,832.8 970.3,828.8 969.6,826.7 968.8,824.0 968.1,822.1 967.4,819.8 966.7,817.4 966.2,820.2 965.8,823.9 965.3,826.4 964.8,828.8 964.4,831.1 963.9,833.6 963.4,836.7 963.0,839.1 962.5,841.2 961.9,838.7 961.2,837.6 960.6,835.8 959.9,830.6 959.3,828.4 958.6,826.4 958.0,823.4 957.3,821.2 956.6,819.4 955.9,815.4 955.1,812.9 954.4,811.0 953.7,806.0 953.0,803.4 950.9,804.2 948.8,805.4 946.7,804.8 946.4,800.5 946.1,796.9 945.8,796.3 945.5,792.1 945.2,790.4 944.9,786.5 944.6,784.4 944.3,781.2 944.0,778.4 942.8,775.4 941.5,773.7 940.2,771.5 939.0,768.1 938.7,772.0 938.4,773.4 938.1,777.3 937.8,779.9 937.5,781.9 937.2,785.2 936.9,789.1 936.6,791.5 936.3,792.1 936.0,795.9 934.6,797.8 933.1,801.5 931.7,801.9 930.0,801.1 928.4,797.3 926.7,795.2 925.0,794.2 924.3,791.4 923.7,790.6 923.0,788.1 922.3,783.7 921.7,782.8 921.0,778.7 920.6,783.0 920.2,784.2 919.9,788.3 919.5,791.9 919.1,792.2 918.8,796.4 918.4,800.2 918.0,802.2 917.8,806.2 917.6,808.4 917.4,812.6 917.2,813.5 917.0,817.4 916.8,820.3 916.6,824.0 916.4,826.8 916.2,828.3 916.0,832.3 915.7,830.5 915.3,826.7 915.0,825.0 914.7,820.1 914.3,817.4 914.0,814.0 913.7,813.5 913.3,811.9 913.0,808.2 912.4,806.5 911.8,802.4 911.2,801.0 910.6,798.7 910.0,794.8 908.6,798.0 907.2,800.9 905.8,801.6 904.4,804.0 903.0,807.6 902.7,804.2 902.5,801.8 902.2,798.3 901.9,794.0 901.6,793.9 901.4,791.0 901.1,787.5 900.8,782.8 900.5,780.4 900.3,778.2 900.0,774.5 899.5,774.5 899.1,772.0 898.6,768.9 898.1,765.5 897.6,762.0 897.2,760.9 896.7,758.1 894.5,756.7 892.2,755.6 890.0,754.8 889.5,752.3 889.1,747.3 888.6,747.1 888.1,743.9 887.6,742.0 887.2,737.5 886.7,736.6 884.9,734.5 883.0,734.2 880.9,731.2 878.8,731.1 876.7,729.0 876.4,724.7 876.1,723.2 875.9,720.1 875.6,717.0 875.3,715.4 875.0,712.2 873.6,710.2 872.2,708.0 870.8,703.5 869.4,703.0 868.0,699.7 866.8,699.0 865.5,694.3 864.2,694.8 863.0,691.0 862.7,688.5 862.3,685.9 862.0,684.0 861.7,680.9 861.3,677.6 861.0,676.2 860.7,673.6 860.3,670.0 860.0,667.6 859.5,661.6 858.9,660.2 858.4,658.0 857.8,655.3 857.2,652.0 856.7,650.1 856.1,646.8 855.5,643.2 854.9,642.7 854.2,639.3 853.6,637.8 853.0,634.7 851.4,635.4 849.9,639.6 848.3,639.9 846.7,641.0 845.0,642.3 843.4,645.6 841.7,647.0 840.0,650.4 839.5,653.9 838.9,654.3 838.4,658.9 837.8,661.0 837.2,663.9 836.7,666.3 836.0,671.4 835.2,672.9 834.5,675.4 833.7,677.9 833.0,679.1 832.2,683.5 831.5,687.0 830.7,689.6 830.0,693.0 829.3,692.3 828.7,694.9 828.0,700.8 827.3,702.6 826.7,706.8 826.0,708.9 825.3,710.2 824.7,713.6 824.0,716.0 822.7,714.5 821.3,712.7 820.0,712.0 817.7,712.4 815.3,712.1 813.0,713.7 812.0,717.8 811.0,719.5 810.0,721.5 807.7,723.0 805.3,724.8 803.0,723.1 800.9,726.7 798.8,729.2 796.7,727.8 795.4,726.4 794.0,723.7 792.7,721.1 791.3,720.3 790.0,717.4 789.0,712.7 788.0,710.8 787.0,706.9 786.0,708.1 785.0,703.3 784.2,702.4 783.3,699.7 782.5,695.2 781.7,692.0 780.8,691.0 780.0,687.1 778.2,684.5 776.5,682.7 774.8,678.9 773.0,676.4 771.4,678.9 769.9,682.6 768.3,684.1 766.7,686.0 765.4,682.8 764.0,680.8 762.7,679.1 761.3,676.7 760.0,674.2 758.3,673.7 756.7,670.2 755.0,668.3 753.3,668.2 751.7,671.6 750.0,676.4 748.4,676.5 746.7,680.8 744.5,681.8 742.2,682.3 740.0,684.9 739.5,686.4 739.1,688.9 738.6,691.1 738.2,695.2 737.7,696.0 737.3,698.3 736.8,701.4 736.4,704.8 735.9,709.6 735.5,709.5 735.0,712.8 734.0,717.4 733.0,716.9 732.0,721.1 731.0,722.5 730.0,724.1 728.8,726.4 727.5,731.6 726.2,731.2 725.0,735.9 724.2,736.1 723.4,739.1 722.7,744.1 721.9,744.2 721.1,749.5 720.3,753.2 719.6,752.1 718.8,757.2 718.0,758.6 717.2,762.9 716.3,765.0 715.5,768.5 714.7,770.2 713.8,774.8 713.0,777.7 712.7,773.3 712.3,770.8 712.0,768.5 711.7,765.2 711.3,763.6 711.0,757.8 710.7,757.8 710.3,754.4 710.0,751.4 709.7,747.7 709.5,747.6 709.2,742.7 708.9,740.4 708.6,737.7 708.4,735.6 708.1,729.8 707.8,728.3 707.5,726.3 707.2,723.8 707.0,720.6 706.7,718.0 706.0,712.6 705.2,712.5 704.5,707.0 703.7,706.2 703.0,704.2 700.5,703.4 698.0,707.1 697.8,701.9 697.7,699.1 697.5,698.3 697.4,694.4 697.2,692.9 697.0,689.5 696.9,687.8 696.7,684.1 695.0,682.9 693.4,680.5 691.7,680.7 690.0,677.2 689.4,682.2 688.8,684.7 688.1,687.6 687.5,688.6 686.9,691.9 686.2,695.7 685.6,696.6 685.0,702.0 684.8,698.4 684.7,694.9 684.5,690.9 684.3,690.0 684.2,686.7 684.0,683.8 683.8,680.0 683.7,676.6 683.5,673.4 683.3,673.1 683.2,670.3 683.0,666.8 682.3,662.3 681.5,661.7 680.8,658.9 680.0,657.1 679.3,654.7 679.3,650.5 679.3,649.5 679.2,646.9 679.2,643.4 679.2,640.7 679.2,639.8 679.2,636.6 679.2,632.0 679.1,629.7 679.1,626.3 679.1,622.3 679.1,620.2 679.1,617.4 679.1,613.5 679.0,613.0 679.0,610.2 679.0,607.3 678.9,603.7 678.8,599.8 678.6,597.3 678.5,594.9 678.4,593.8 678.2,590.0 678.1,588.2 678.0,584.2 677.9,581.4 677.8,577.9 677.6,576.3 677.5,572.6 677.2,570.8 676.9,568.3 676.6,567.1 676.2,562.0 675.9,559.5 675.6,556.1 675.3,554.3 675.0,550.7 674.3,547.7 673.7,546.6 673.0,542.2 672.4,540.9 671.7,537.6 669.2,538.3 666.7,535.4 664.9,536.2 663.0,534.5 662.8,536.4 662.7,537.5 662.5,542.0 662.4,546.5 662.2,547.8 662.0,550.8 661.9,555.1 661.7,558.0 661.5,558.7 661.4,562.6 661.2,563.0 661.0,567.4 660.9,571.3 660.7,572.9 660.5,575.3 660.3,576.2 660.2,580.0 660.0,583.9 659.5,585.6 659.0,588.8 658.5,591.8 658.0,593.7 657.4,599.1 656.8,599.3 656.2,602.3 655.6,605.7 655.0,609.0 654.6,611.8 654.3,612.7 653.9,617.7 653.5,620.9 653.2,621.5 652.8,627.3 652.4,627.9 652.1,631.1 651.7,632.7 649.2,636.5 646.7,636.6 645.5,637.8 644.2,638.5 643.0,640.6 641.5,641.5 640.0,641.0 638.4,638.3 636.7,637.3 636.4,635.2 636.0,631.5 635.7,628.7 635.4,625.3 635.0,621.0 634.7,621.0 634.3,618.7 634.0,613.2 633.7,613.2 633.3,608.8 633.0,607.2 632.6,603.9 632.3,602.0 631.9,598.0 631.5,595.2 631.2,591.4 630.8,587.9 630.5,585.7 630.1,584.0 629.7,579.5 629.4,577.1 629.0,573.4 628.6,578.6 628.2,580.1 627.9,582.4 627.5,587.2 627.1,588.6 626.7,591.3 625.5,593.7 624.2,597.8 623.0,600.2 622.4,604.0 621.9,606.9 621.3,609.7 620.8,612.9 620.2,614.7 619.7,617.3 619.1,620.0 618.6,621.9 618.0,625.3 617.9,624.2 617.8,619.1 617.7,616.4 617.6,616.7 617.5,611.1 617.4,607.9 617.4,606.4 617.3,603.4 617.2,601.1 617.1,597.6 617.0,595.3 616.9,592.5 616.8,588.9 616.7,587.0 616.6,582.8 616.5,579.5 616.4,577.0 616.3,575.2 616.2,570.8 616.1,569.0 616.0,566.4 615.9,564.3 615.7,560.1 615.6,556.7 615.5,556.9 615.4,551.1 615.3,547.2 615.2,546.1 615.1,541.8 615.0,540.9 614.5,536.8 613.9,534.3 613.4,531.2 612.8,528.1 612.2,524.3 611.7,524.7 611.1,521.0 610.5,516.3 609.9,513.2 609.2,510.3 608.6,509.2 608.0,505.5 606.0,506.6 604.0,504.7 603.4,508.6 602.9,510.5 602.3,510.9 601.7,515.3 601.1,520.2 600.6,519.5 600.0,522.8 599.4,524.3 598.9,529.3 598.3,531.9 597.8,533.5 597.2,536.5 596.7,541.7 596.1,543.6 595.6,545.4 595.0,548.6 594.4,551.1 593.9,552.9 593.3,557.4 592.7,558.4 592.1,560.9 591.6,565.4 591.0,566.3 590.6,570.0 590.2,572.4 589.9,575.6 589.5,579.2 589.1,579.4 588.8,582.8 588.4,587.0 588.0,588.5 587.0,587.1 586.0,585.8 585.7,587.3 585.4,590.1 585.1,592.7 584.8,594.4 584.5,599.0 584.2,601.0 583.9,604.3 583.6,604.8 583.3,610.7 583.0,611.8 582.8,608.9 582.6,607.2 582.4,603.8 582.2,599.8 582.1,597.7 581.9,593.3 581.7,590.1 581.5,588.3 581.3,583.6 581.1,582.2 580.9,581.3 580.8,575.9 580.6,573.3 580.4,570.7 580.2,567.4 580.0,564.3 579.8,560.5 579.6,560.3 579.4,555.8 579.2,554.3 579.1,548.9 578.9,549.1 578.7,546.8 578.5,541.0 578.3,539.5 578.3,535.0 578.2,533.1 578.2,532.7 578.2,527.7 578.2,525.4 578.1,523.1 578.1,519.3 578.1,518.7 578.1,514.1 578.0,511.7 578.0,508.6 578.0,507.4 576.3,503.1 574.7,501.9 573.0,499.9 572.0,497.8 571.0,495.2 570.0,492.8 569.0,489.3 568.9,488.6 568.8,484.0 568.6,481.0 568.5,479.2 568.4,474.5 568.2,473.3 568.1,469.0 568.0,467.4 567.9,464.1 567.8,460.7 567.6,460.3 567.5,455.4 565.2,453.4 563.0,455.7 562.8,449.7 562.5,447.3 562.2,447.4 562.0,445.7 561.8,441.5 561.5,438.1 561.2,435.3 561.0,431.8 560.9,433.3 560.9,436.1 560.8,439.6 560.7,442.8 560.6,449.4 560.6,451.3 560.5,453.4 560.4,455.3 560.4,460.6 560.3,462.7 560.2,465.5 560.1,468.2 560.1,470.4 560.0,474.3 558.5,473.5 557.0,479.7 555.5,480.2 554.0,482.8 553.6,478.2 553.1,477.1 552.7,472.5 552.2,469.1 551.8,467.6 551.3,464.4 550.9,462.7 550.4,458.8 550.0,455.8 549.5,452.6 548.9,449.4 548.4,450.3 547.8,444.5 547.2,441.6 546.7,439.7 545.5,437.5 544.2,436.7 543.0,433.4 542.9,436.4 542.8,440.3 542.7,442.6 542.6,446.5 542.5,448.6 542.4,451.5 542.4,453.4 542.3,457.6 542.2,460.0 542.1,462.9 542.0,466.9 541.9,468.2 541.8,471.3 541.7,474.0 541.6,475.0 541.4,480.1 541.3,480.8 541.1,485.5 541.0,488.8 540.9,490.6 540.7,491.3 540.6,493.8 540.4,496.6 540.3,501.3 540.1,503.7 540.0,506.6 538.8,508.7 537.5,511.6 536.2,512.6 535.0,516.3 534.8,514.1 534.5,510.0 534.2,507.0 534.0,505.7 533.8,501.7 533.5,500.4 533.2,497.9 533.0,493.0 532.4,490.6 531.8,488.8 531.2,485.2 530.6,483.7 530.0,481.9 528.9,479.6 527.8,476.4 526.7,473.2 526.1,470.0 525.5,468.1 524.9,466.6 524.2,462.6 523.6,461.2 523.0,458.4 522.8,463.6 522.6,464.0 522.5,468.4 522.3,470.6 522.1,474.1 521.9,475.3 521.8,478.0 521.6,481.4 521.4,484.5 521.2,488.3 521.1,490.2 520.9,493.5 520.7,496.9 520.5,498.3 520.4,501.4 520.2,507.1 520.0,509.3 519.8,506.4 519.5,502.8 519.3,499.8 519.1,496.8 518.8,493.7 518.6,491.6 518.4,489.0 518.1,484.0 517.9,485.8 517.6,479.0 517.4,479.5 517.2,475.0 516.9,471.4 516.7,469.3 516.6,472.6 516.5,475.6 516.4,477.1 516.2,482.1 516.1,484.3 516.0,485.3 515.9,489.0 515.8,495.1 515.7,497.1 515.6,498.1 515.5,501.1 515.3,503.6 515.2,506.6 515.1,512.6 515.0,512.9 514.8,510.2 514.7,506.8 514.5,504.9 514.3,501.1 514.1,498.9 514.0,496.3 513.8,492.3 513.6,490.6 513.4,486.4 513.3,484.4 513.1,480.5 512.9,477.0 512.7,476.6 512.6,473.3 512.4,469.2 512.2,469.5 512.0,466.4 511.9,462.4 511.7,458.4 511.7,462.6 511.6,464.0 511.6,466.1 511.5,470.6 511.5,474.9 511.5,477.6 511.4,480.9 511.4,485.3 511.3,486.2 511.3,488.3 511.2,491.5 511.2,494.1 511.2,496.8 511.1,500.1 511.1,504.2 511.0,506.1 511.0,509.9 511.0,512.4 510.9,515.4 510.9,516.8 510.8,521.2 510.8,522.4 510.6,525.1 510.5,529.8 510.3,533.3 510.1,535.9 510.0,538.7 509.8,542.8 509.6,544.5 509.5,549.0 509.3,548.5 509.2,553.9 509.0,556.6 508.8,556.8 508.7,563.3 508.5,564.8 508.3,570.1 508.2,570.4 508.0,574.4 507.8,577.7 507.5,577.4 507.2,581.2 507.0,584.2 506.8,589.0 506.5,591.9 506.2,594.0 506.0,595.5 505.8,601.5 505.5,602.0 505.2,604.6 505.0,607.5 504.8,612.9 504.5,613.9 504.3,617.0 504.1,619.4 503.8,623.7 503.6,626.4 503.4,628.1 503.1,633.2 502.9,634.4 502.6,637.2 502.4,642.1 502.2,644.3 501.9,646.9 501.7,648.6 501.4,654.2 501.1,653.4 500.8,659.9 500.5,662.4 500.2,665.9 499.9,668.2 499.5,667.5 499.2,672.2 498.9,673.7 498.6,679.2 498.3,680.8 498.0,683.3 497.6,687.4 497.2,690.3 496.8,692.3 496.3,694.6 495.9,697.1 495.5,699.4 495.1,704.2 494.7,706.7 494.2,708.4 493.8,711.8 493.4,713.2 493.0,716.6 492.8,719.5 492.6,721.3 492.4,724.4 492.2,727.4 492.1,731.1 491.9,735.8 491.7,736.0 491.5,740.8 491.3,744.4 491.1,744.1 490.9,748.1 490.8,751.9 490.6,755.4 490.4,758.4 490.2,760.6 490.0,764.7 489.5,766.0 489.1,768.8 488.6,771.7 488.2,775.4 487.7,777.4 487.3,780.4 486.8,784.7 486.4,785.5 485.9,787.7 485.5,790.4 485.0,793.6 484.0,794.3 483.0,798.3 482.0,801.7 481.0,802.8 480.0,806.8 478.3,806.7 476.7,808.1 475.0,808.5 474.7,806.2 474.4,804.8 474.1,801.2 473.8,796.6 473.4,797.4 473.1,793.4 472.8,789.1 472.5,788.4 471.8,789.3 471.0,794.5 470.2,796.3 469.5,799.3 468.8,801.4 468.0,805.8 466.3,808.5 464.7,809.9 463.0,810.1 461.4,814.8 459.9,812.7 458.3,816.3 456.7,817.9 456.1,821.9 455.5,824.5 454.9,824.1 454.2,827.2 453.6,832.5 453.0,835.2 452.9,831.6 452.8,829.4 452.8,824.8 452.7,823.2 452.6,818.6 452.5,815.4 452.5,811.8 452.4,809.7 452.3,807.3 452.2,804.7 452.2,799.6 452.1,799.8 452.0,795.2 451.9,793.1 451.9,788.8 451.8,785.4 451.7,785.7 450.6,783.1 449.5,778.9 448.4,775.7 447.2,774.2 446.1,771.5 445.0,770.0 444.9,767.8 444.7,762.8 444.6,758.4 444.4,758.9 444.3,753.2 444.1,750.7 444.0,751.1 443.9,746.8 443.7,742.9 443.6,741.2 443.4,738.0 443.3,735.6 443.1,733.0 443.0,728.6 442.3,727.4 441.6,723.1 440.9,722.2 440.2,718.4 439.5,714.5 438.8,712.9 438.1,711.2 437.4,708.6 436.7,705.4 436.1,708.2 435.6,711.1 435.0,714.1 434.5,717.5 433.9,722.6 433.4,723.2 432.8,727.0 432.2,727.5 431.7,732.5 431.1,735.0 430.6,736.6 430.0,741.2 429.6,744.2 429.2,747.9 428.8,749.9 428.3,752.8 427.9,755.9 427.5,757.4 427.1,759.9 426.7,762.7 426.2,767.7 425.8,769.4 425.4,772.2 425.0,776.7 424.3,779.3 423.6,781.3 422.9,785.0 422.1,787.3 421.4,789.7 420.7,793.7 420.0,795.4 418.3,797.0 416.7,797.4 415.0,797.9 414.6,796.4 414.3,791.6 413.9,790.1 413.6,787.5 413.2,783.9 412.9,783.2 412.5,779.7 412.3,784.2 412.2,785.5 412.0,788.7 411.9,790.3 411.7,795.0 411.6,796.6 411.4,801.3 411.2,802.1 411.1,804.4 410.9,808.9 410.8,811.3 410.6,813.1 410.5,816.7 410.3,819.7 410.2,822.2 410.0,825.3 409.2,827.6 408.3,830.4 407.5,831.3 406.7,835.7 405.8,838.9 405.0,841.1 404.6,837.9 404.2,835.1 403.8,833.0 403.4,829.3 402.9,826.3 402.5,823.5 402.1,821.1 401.7,817.5 401.5,815.2 401.2,812.0 401.0,810.6 400.7,806.7 400.5,804.2 400.2,803.3 400.0,799.8 399.6,797.9 399.1,793.0 398.7,791.1 398.2,788.6 397.8,787.3 397.3,783.8 396.9,781.1 396.4,776.3 396.0,775.1 395.9,772.3 395.9,767.2 395.8,764.4 395.8,761.5 395.7,760.4 395.6,756.7 395.6,753.1 395.5,752.4 395.5,748.3 395.4,744.1 395.4,741.8 395.3,740.0 395.2,736.1 395.2,733.4 395.1,730.6 395.1,728.2 395.0,725.0 394.7,721.2 394.3,719.6 394.0,715.9 393.7,713.9 393.4,710.1 393.0,708.4 392.7,706.5 392.4,703.4 392.0,700.2 391.7,697.1 391.0,695.0 390.2,691.4 389.5,690.4 388.7,686.4 388.0,684.3 387.2,682.2 386.5,676.5 385.7,674.6 385.0,672.7 384.6,669.9 384.2,666.6 383.8,663.2 383.3,661.6 382.9,660.0 382.5,655.3 382.1,652.8 381.7,651.9 381.2,647.9 380.8,644.7 380.4,643.5 380.0,638.4 379.6,634.6 379.2,632.1 378.8,628.9 378.3,629.2 377.9,625.4 377.5,622.1 377.1,619.0 376.7,618.7 376.2,614.7 375.8,611.0 375.4,610.0 375.0,605.4 374.8,603.6 374.7,600.0 374.5,596.8 374.3,594.5 374.2,592.8 374.0,590.6 373.8,585.8 373.7,582.0 373.5,581.3 373.3,576.2 373.2,575.4 373.0,572.1 372.3,568.8 371.6,565.5 370.9,562.5 370.2,559.8 369.5,557.0 368.8,553.9 368.1,551.0 367.4,549.1 366.7,545.5 366.6,546.8 366.5,551.3 366.4,553.6 366.3,554.6 366.2,558.9 366.1,561.9 366.0,563.1 365.8,568.5 365.6,570.8 365.5,573.2 365.3,577.2 365.1,578.1 364.9,581.1 364.8,582.6 364.6,585.9 364.4,590.9 364.2,592.9 364.1,595.3 363.9,598.7 363.7,602.7 363.5,605.3 363.4,607.7 363.2,610.4 363.0,613.2 362.3,615.8 361.6,618.4 360.9,623.4 360.2,623.5 359.5,628.4 358.8,629.1 358.1,632.7 357.4,637.2 356.7,639.2 354.7,638.9 352.7,642.2 350.7,642.0 348.7,644.9 346.7,646.2 346.4,649.5 346.1,652.0 345.8,654.4 345.5,657.6 345.2,660.2 344.9,662.6 344.5,664.7 344.2,668.4 343.9,672.9 343.6,674.4 343.3,677.1 343.0,679.9 342.8,682.3 342.5,685.6 342.3,688.9 342.1,690.5 341.8,693.6 341.6,697.2 341.4,700.6 341.2,701.1 340.9,704.5 340.7,708.1 340.5,711.1 340.2,713.2 340.0,715.8 339.2,714.2 338.3,711.0 337.5,706.8 336.7,704.3 335.8,702.6 335.0,699.0 334.6,701.6 334.1,704.8 333.7,707.7 333.3,710.9 332.9,711.7 332.4,715.3 332.0,719.0 331.6,721.3 331.2,723.2 330.7,725.5 330.3,729.6 330.2,732.2 330.2,735.7 330.1,739.4 330.1,739.5 330.1,744.4 330.0,745.5 329.8,742.5 329.5,740.5 329.2,737.1 329.0,735.8 328.8,732.3 328.5,729.6 328.2,726.9 328.0,723.8 327.8,720.0 327.5,716.4 327.2,713.3 327.0,711.6 326.8,709.9 326.5,706.8 326.2,704.1 326.0,701.5 325.8,697.7 325.5,693.8 325.2,691.6 325.0,688.7 324.8,692.1 324.6,696.2 324.4,697.9 324.2,699.5 324.0,702.2 323.8,707.0 323.6,709.9 323.4,713.4 323.1,715.1 322.9,718.1 322.7,720.0 322.5,723.2 322.3,725.8 322.1,730.3 321.9,732.4 321.7,734.9 321.5,737.9 321.3,740.2 321.1,744.7 320.9,746.2 320.7,748.6 320.5,752.7 320.3,755.1 320.1,758.7 319.9,760.9 319.6,764.0 319.4,768.0 319.2,770.6 319.0,772.6 318.8,775.5 318.6,777.6 318.4,780.8 318.2,783.7 318.0,786.6 317.9,782.9 317.8,780.6 317.7,777.0 317.6,775.6 317.5,773.6 317.4,770.8 317.3,765.8 317.2,764.1 317.1,762.2 317.0,757.2 316.9,754.2 316.8,751.5 316.7,748.8 316.6,746.2 316.4,742.6 316.3,740.9 316.2,736.6 316.1,735.5 316.0,732.5 315.9,728.5 315.8,725.0 315.7,722.6 315.6,719.2 315.5,718.4 315.4,712.5 315.3,710.4 315.2,708.7 315.1,705.6 315.0,702.5 314.8,699.5 314.6,696.9 314.4,692.9 314.2,690.9 314.0,688.1 313.8,685.4 313.6,682.3 313.4,679.3 313.3,677.1 313.1,674.2 312.9,670.6 312.7,666.6 312.5,663.3 312.3,660.8 312.1,657.9 311.9,654.9 311.7,652.6 311.3,650.9 310.9,646.5 310.5,645.1 310.1,640.3 309.7,638.0 309.4,635.5 309.0,633.3 308.6,630.1 308.2,628.2 307.8,626.4 307.4,622.3 307.0,619.7 307.0,616.4 306.9,612.8 306.9,611.5 306.9,608.0 306.9,606.5 306.9,601.3 306.8,600.3 306.8,597.2 306.8,592.5 306.8,592.2 306.7,588.2 306.7,585.6 306.4,582.3 306.1,579.1 305.8,576.5 305.5,574.4 305.2,571.5 304.9,567.6 304.5,564.9 304.2,563.6 303.9,561.3 303.6,557.4 303.3,555.6 303.0,552.6 302.7,550.3 302.4,546.8 302.1,544.8 301.9,539.7 301.6,539.4 301.3,535.2 301.0,531.3 300.7,530.3 300.4,525.9 300.1,524.6 299.9,520.4 299.6,518.1 299.3,515.7 299.0,512.4 298.8,516.2 298.7,519.0 298.5,520.8 298.3,522.6 298.2,528.2 298.0,530.9 297.9,531.5 297.7,536.0 297.5,537.6 297.4,541.4 297.2,544.2 297.0,546.2 296.9,549.0 296.7,552.6 296.6,555.2 296.4,558.5 296.3,560.5 296.1,562.7 296.0,565.4 295.9,567.9 295.7,571.9 295.6,573.9 295.4,577.3 295.3,579.0 295.1,582.2 295.0,585.5 294.9,587.5 294.8,591.9 294.7,594.1 294.6,598.0 294.4,600.3 294.3,603.4 294.2,606.2 294.1,609.7 294.0,612.9 293.9,615.4 293.8,617.5 293.7,622.0 293.6,624.0 293.4,626.5 293.3,629.4 293.2,633.6 293.1,635.1 293.0,639.0 292.5,636.7 292.0,634.0 291.5,631.0 291.0,628.3 290.5,625.6 290.0,622.8 289.7,624.7 289.3,628.2 289.0,631.7 288.7,635.1 288.3,637.9 288.0,640.1 287.7,643.5 287.3,645.6 287.0,648.9 286.6,645.6 286.2,643.1 285.8,639.8 285.4,637.9 285.0,636.3 284.6,633.4 284.2,631.1 283.8,627.8 283.4,626.1 283.0,621.9 282.6,620.0 282.2,617.3 281.8,614.0 281.5,610.7 281.1,607.3 280.7,606.1 280.3,602.9 280.3,605.8 280.2,608.9 280.2,612.8 280.2,615.4 280.2,616.2 280.1,620.5 280.1,624.0 280.1,625.7 280.1,630.5 280.0,632.2 280.0,635.6 279.7,637.5 279.4,642.1 279.2,644.7 278.9,647.4 278.6,650.3 278.4,652.4 278.1,655.7 277.8,656.8 277.5,660.4 277.2,662.6 277.0,665.6 276.7,668.9 276.5,671.9 276.4,673.9 276.2,677.6 276.0,679.9 275.9,684.3 275.7,686.5 275.5,689.9 275.4,693.2 275.2,695.7 275.0,698.4 274.8,701.9 274.7,704.6 274.5,708.8 274.3,710.5 274.2,713.8 274.0,716.7 273.9,715.2 273.9,712.1 273.8,707.9 273.8,705.3 273.7,701.2 273.6,698.8 273.6,695.7 273.5,692.6 273.4,689.3 273.4,688.0 273.3,684.7 273.2,682.0 273.2,677.4 273.1,674.9 273.1,672.1 273.0,668.8 272.9,666.5 272.9,662.7 272.8,659.6 272.8,656.2 272.7,654.1 272.7,652.0 272.6,649.0 272.5,646.9 272.5,643.8 272.4,639.4 272.4,638.6 272.3,634.5 272.3,631.8 272.2,627.9 272.2,626.5 272.1,623.1 272.0,619.1 272.0,617.8 271.9,613.0 271.9,612.5 271.8,608.0 271.8,604.0 271.7,601.9 271.4,599.6 271.1,597.2 270.9,592.1 270.6,590.5 270.3,586.8 270.0,585.3 269.6,581.7 269.2,578.4 268.8,576.4 268.4,573.6 267.9,571.0 267.5,567.9 267.1,564.3 266.7,562.7 266.2,558.4 265.7,556.0 265.2,553.6 264.7,550.9 264.2,548.5 263.7,545.9 263.2,542.6 262.7,539.9 262.2,538.7 261.7,535.1 261.5,532.8 261.4,529.3 261.2,526.7 261.1,525.4 260.9,520.5 260.8,519.1 260.6,514.9 260.5,513.6 260.3,510.4 260.3,508.1 260.2,505.9 260.2,500.8 260.2,498.9 260.1,497.0 260.1,492.1 260.1,489.8 260.0,488.5 260.0,485.7 259.8,482.3 259.6,480.1 259.4,475.0 259.2,472.5 259.1,471.2 258.9,468.4 258.7,464.5 258.5,460.7 258.3,458.0 257.2,460.9 256.1,464.6 255.1,465.1 254.0,468.7 252.9,466.2 251.9,464.5 250.8,463.0 250.5,467.6 250.2,469.9 249.9,472.4 249.6,473.3 249.3,476.7 249.0,480.2 248.8,481.9 248.5,484.3 248.2,487.7 247.9,490.7 247.6,492.7 247.3,497.1 247.0,499.6 247.0,502.0 247.0,504.6 246.9,507.3 246.9,511.0 246.9,513.5 246.9,515.1 246.8,519.9 246.8,522.9 246.8,524.9 246.8,527.9 246.8,531.8 246.7,532.7 246.7,537.6 246.7,539.0 246.5,542.6 246.2,544.1 246.0,548.6 245.8,551.2 245.5,552.8 245.3,557.7 245.1,559.7 244.8,562.7 244.6,563.8 244.4,567.4 244.2,569.9 243.9,573.8 243.7,575.7 243.5,578.4 243.2,583.4 243.0,585.5 242.1,588.9 241.2,590.1 240.3,591.6 239.4,596.4 238.5,598.3 237.6,600.3 236.7,602.1 236.4,605.7 236.1,608.2 235.8,611.4 235.5,613.6 235.2,617.4 234.9,619.5 234.6,623.1 234.3,625.9 234.1,628.5 233.8,632.4 233.5,634.9 233.2,637.3 232.9,640.2 232.6,643.6 232.3,645.3 232.0,648.2 231.7,652.4 231.5,655.4 231.3,656.6 231.0,661.9 230.8,664.3 230.6,666.8 230.4,669.8 230.2,672.5 230.0,676.1 229.7,678.3 229.5,681.1 229.3,685.7 229.1,686.1 228.9,689.7 228.7,693.2 228.4,695.0 228.2,699.5 228.0,702.1 227.4,705.5 226.9,707.5 226.3,711.7 225.7,713.4 225.1,717.3 224.6,719.5 224.0,722.0 223.4,720.0 222.7,716.9 222.1,716.0 221.4,711.4 220.8,710.3 220.5,706.8 220.2,703.4 219.9,701.3 219.6,697.8 219.3,694.6 219.0,691.7 218.8,688.9 218.5,687.4 218.2,684.7 217.9,680.8 217.6,679.2 217.3,674.9 217.0,672.7 216.7,669.0 216.5,667.5 216.2,662.3 216.0,659.7 215.8,658.5 215.6,654.5 215.3,652.6 215.1,651.1 214.9,647.5 214.7,643.5 214.4,641.9 214.2,638.9 214.0,635.1 213.8,631.7 213.5,629.3 213.3,627.5 213.3,625.0 213.2,622.4 213.2,618.9 213.2,615.9 213.1,614.2 213.1,611.1 213.1,607.4 213.0,605.7 213.0,602.2 212.9,598.9 212.9,596.2 212.8,594.7 212.8,591.7 212.7,589.5 212.7,585.8 212.6,581.9 212.6,580.7 212.5,577.3 211.4,575.1 210.2,572.7 209.1,571.5 208.0,569.5 208.0,567.3 207.9,563.3 207.9,559.7 207.8,557.1 207.8,554.3 207.8,551.8 207.7,548.9 207.7,547.8 207.6,544.7 207.6,542.1 207.5,538.2 207.5,534.8 205.2,535.0 203.0,532.0 202.8,530.0 202.6,525.8 202.4,522.6 202.2,519.5 202.1,516.6 201.9,514.5 201.7,511.9 201.5,507.6 201.3,506.4 201.1,503.3 200.9,500.9 200.8,497.6 200.6,495.2 200.4,492.1 200.2,487.7 200.0,485.4 199.7,481.9 199.4,479.9 199.1,476.4 198.8,474.4 198.5,469.7 198.2,467.4 197.9,464.2 197.6,462.5 197.3,460.1 197.0,457.5 196.7,453.3 196.4,450.0 196.1,447.7 195.8,445.3 195.7,447.1 195.6,450.7 195.5,455.2 195.4,455.2 195.3,458.4 195.2,463.6 195.1,465.0 195.0,468.0 194.9,469.9 194.8,473.4 194.7,476.9 194.6,479.6 194.5,484.4 194.4,486.6 194.3,488.0 194.3,490.9 194.2,494.4 194.1,497.0 194.0,499.2 193.9,503.8 193.8,506.6 193.7,508.0 193.6,511.8 193.5,513.9 193.4,516.7 193.3,519.0 193.2,522.1 193.1,526.1 193.0,528.3 192.9,531.6 192.8,535.3 192.8,537.2 192.8,539.7 192.8,543.7 192.7,545.8 192.7,549.4 192.7,552.0 192.7,556.0 192.7,559.2 192.7,562.1 192.7,565.2 192.7,565.9 192.6,570.6 192.6,573.5 192.6,575.9 192.6,579.5 192.6,582.9 192.6,584.4 192.6,587.2 192.6,590.0 192.5,592.2 192.5,595.9 192.5,599.1 192.5,601.8 192.5,605.3 192.4,607.7 192.4,610.4 192.3,613.3 192.3,615.7 192.2,620.4 192.2,623.9 192.1,625.0 192.1,628.6 192.0,630.6 192.0,635.4 191.9,638.5 191.9,641.5 191.8,643.6 191.8,645.8 191.7,648.4 191.7,652.0 191.3,655.7 190.9,657.4 190.4,660.4 190.0,662.9 189.6,667.3 189.2,667.6 188.8,671.2 188.4,673.6 187.9,677.5 187.5,679.4 187.1,683.4 186.7,685.9 186.0,683.3 185.2,680.6 184.5,680.0 183.7,678.0 183.0,673.7 182.1,671.3 181.2,669.1 180.2,664.6 179.3,663.1 178.4,660.0 177.5,657.4 177.3,655.2 177.1,652.1 176.9,647.8 176.8,645.8 176.6,642.4 176.4,640.1 176.2,636.4 176.0,634.8 175.8,630.8 175.7,628.7 175.5,625.3 175.3,621.6 175.1,619.3 174.9,615.6 174.7,614.6 174.6,610.1 174.4,607.1 174.2,605.9 174.0,602.0 173.6,599.1 173.2,597.2 172.8,594.5 172.5,590.5 172.1,588.0 171.7,585.4 170.9,581.7 170.0,580.0 169.2,577.7 168.3,574.5 167.5,572.2 166.6,569.6 165.8,567.1 164.5,567.9 163.3,570.0 162.0,571.8 161.4,575.0 160.9,576.7 160.3,579.1 159.7,582.3 159.1,586.3 158.6,588.9 158.0,591.7 156.5,594.2 155.0,595.6 153.5,596.8 152.0,598.8 151.2,597.4 150.4,593.0 149.6,589.7 148.8,587.3 148.0,585.1 147.6,581.8 147.2,580.4 146.8,576.0 146.3,575.2 145.9,571.3 145.5,568.6 145.1,566.7 144.7,563.3 144.2,559.3 143.8,556.4 143.4,555.7 143.0,552.1 142.7,548.6 142.4,545.4 142.1,542.4 141.9,540.4 141.6,536.5 141.3,534.9 141.0,532.2 140.7,527.9 140.3,526.2 140.0,523.7 139.7,519.8 139.3,518.5 139.0,514.4 138.6,512.3 138.3,509.8" fill="#cfb562" stroke="#cfb562" stroke-width="4.2" stroke-linejoin="round"/>
<polygon points="138.0,397.5 139.0,398.1 139.2,400.8 139.3,405.2 139.5,406.3 139.6,410.3 139.8,412.3 140.0,415.1 140.1,420.3 140.3,421.4 140.4,425.3 140.6,427.4 140.7,430.6 140.9,433.5 141.1,435.9 141.2,440.2 141.4,441.3 141.5,444.9 141.7,448.5 141.9,449.8 142.2,453.6 142.4,457.0 142.7,461.3 142.9,462.9 143.1,464.7 143.4,468.0 143.6,473.3 143.9,473.3 144.1,477.9 144.4,480.2 144.6,483.9 144.8,486.2 145.1,489.9 145.3,492.7 145.6,496.0 145.8,498.0 146.0,502.1 146.3,504.5 146.5,506.2 146.8,509.1 147.0,514.2 147.3,515.7 147.5,518.0 147.8,522.8 148.0,525.1 148.3,528.4 148.5,531.3 148.8,532.9 149.0,535.8 149.3,540.4 149.5,541.4 149.8,546.3 150.0,548.2 150.1,550.3 150.2,554.3 150.4,557.3 150.5,561.1 150.6,563.6 150.8,565.7 150.9,567.7 151.0,571.0 151.1,574.3 151.2,577.4 151.4,579.0 151.5,583.3 151.6,587.2 151.7,589.0 151.8,592.1 152.0,594.4 152.1,596.8 152.2,599.6 152.3,602.7 152.4,605.4 152.5,608.7 152.7,611.9 152.8,615.7 152.9,618.4 153.0,620.5 153.2,617.1 153.4,614.4 153.5,610.8 153.7,608.9 153.9,607.2 154.1,602.1 154.3,600.3 154.5,596.4 154.6,593.1 154.8,591.6 155.0,587.9 155.3,585.1 155.7,581.8 156.0,579.7 156.3,576.2 156.7,573.4 157.0,570.9 157.2,573.6 157.4,576.5 157.7,579.6 157.9,581.5 158.1,583.6 158.3,586.3 158.6,589.0 158.8,593.2 159.0,595.4 159.2,592.0 159.5,590.4 159.8,586.7 160.0,584.4 160.2,582.7 160.5,577.7 160.8,574.5 161.0,573.2 161.3,574.9 161.7,578.9 162.0,581.6 162.3,585.0 162.7,587.1 163.0,590.7 163.3,589.0 163.6,583.9 163.9,582.7 164.2,578.2 164.6,576.9 164.9,572.5 165.2,571.7 165.5,568.2 165.8,564.7 166.1,569.2 166.4,570.6 166.6,572.7 166.9,578.0 167.2,579.3 167.4,581.4 167.7,585.9 168.0,588.5 168.2,590.9 168.5,593.3 168.8,594.6 169.0,597.8 169.1,600.6 169.2,603.9 169.2,606.6 169.3,609.2 169.4,612.6 169.5,616.3 169.5,619.5 169.6,621.1 169.7,624.1 169.8,627.1 169.9,629.5 169.9,632.2 170.0,635.8 170.1,638.3 170.2,642.2 170.3,645.5 170.3,647.9 170.4,649.1 170.5,653.4 170.6,656.4 170.6,658.5 170.7,663.2 170.8,665.0 170.9,668.4 171.1,670.7 171.2,674.5 171.4,676.0 171.5,679.1 171.6,682.3 171.8,685.6 171.9,688.4 172.1,689.6 172.2,694.0 172.3,697.8 172.5,700.3 172.6,703.3 172.7,706.3 172.9,707.8 173.0,710.6 173.2,714.5 173.3,718.1 173.4,719.6 173.6,723.7 173.7,726.1 173.9,728.1 174.0,731.5 174.2,734.2 174.4,738.3 174.6,740.6 174.8,742.4 175.0,746.2 175.2,747.3 175.3,751.0 175.5,755.1 175.7,757.9 175.9,759.3 176.1,762.0 176.3,766.1 176.5,769.1 176.7,771.1 177.1,774.6 177.4,778.5 177.8,780.3 178.2,783.4 178.6,786.1 178.9,788.2 179.3,791.6 179.7,795.1 180.0,797.6 180.4,801.2 180.8,802.8 181.1,805.2 181.5,810.3 181.9,812.0 182.3,814.8 182.6,817.7 183.0,820.8 183.3,824.9 183.5,826.1 183.8,828.6 184.0,832.9 184.3,835.1 184.5,836.7 184.8,841.5 185.0,843.1 185.3,845.7 185.5,849.6 185.8,851.1 186.8,853.6 187.7,855.7 188.7,857.4 189.0,854.1 189.3,852.5 189.6,848.9 189.9,846.8 190.2,843.5 190.5,841.7 190.8,837.9 190.9,835.6 190.9,832.3 191.0,829.7 191.0,826.9 191.1,824.8 191.1,821.3 191.2,818.4 191.2,813.7 191.3,812.3 191.3,809.4 191.4,805.0 191.4,803.1 191.5,800.8 191.5,797.7 191.6,795.4 191.6,790.0 191.7,788.1 192.1,786.0 192.4,783.8 192.8,780.0 193.2,776.4 193.5,773.0 193.9,772.7 194.3,769.5 194.6,766.6 195.0,763.5 195.3,759.7 195.7,758.5 196.0,755.3 196.3,752.5 196.7,749.2 197.0,746.3 197.3,743.6 197.7,740.8 198.0,738.1 198.7,735.6 199.4,733.2 200.1,730.0 200.8,728.9 200.9,732.3 200.9,734.2 201.0,736.1 201.1,739.8 201.1,742.6 201.2,745.3 201.3,749.0 201.4,750.3 201.4,753.4 201.5,756.1 201.6,758.6 201.6,763.1 201.7,765.5 201.8,766.8 201.9,770.2 202.0,773.9 202.1,776.8 202.2,780.4 202.3,782.8 202.3,784.6 202.4,788.9 202.5,791.6 202.6,793.7 202.7,796.6 202.8,800.2 202.9,803.3 203.0,804.9 203.3,808.9 203.7,809.5 204.0,812.2 204.3,814.8 204.7,817.4 205.0,820.6 205.5,818.4 206.0,814.2 206.5,813.0 207.0,809.4 207.5,807.1 208.0,804.2 208.5,806.4 209.0,810.6 209.5,811.9 210.0,815.6 210.5,818.6 211.0,820.2 211.5,824.1 212.0,825.1 212.5,822.7 213.0,819.1 213.5,818.0 214.0,814.1 214.5,810.7 215.0,809.1 215.5,805.5 216.0,803.1 216.1,804.5 216.3,809.8 216.4,811.5 216.6,815.3 216.7,817.4 216.9,821.1 217.0,822.2 217.1,825.5 217.3,828.9 217.4,832.1 217.6,835.0 217.7,837.5 217.9,839.0 218.0,842.8 218.8,845.0 219.6,846.7 220.4,850.3 221.2,854.3 222.0,855.7 222.3,851.9 222.6,849.5 222.8,846.7 223.1,842.4 223.4,840.6 223.7,836.4 223.9,834.2 224.2,831.7 224.5,827.9 224.8,827.0 225.0,822.8 225.3,820.1 225.6,818.4 225.9,812.8 226.1,812.6 226.4,807.2 226.7,805.2 226.9,802.2 227.1,799.3 227.3,797.1 227.5,792.7 227.7,791.5 227.9,788.0 228.1,784.8 228.3,780.6 228.4,777.6 228.6,775.4 228.8,772.0 229.0,769.8 229.2,767.9 229.4,763.9 229.6,761.2 229.8,756.7 230.0,754.7 230.2,751.0 230.3,749.7 230.4,747.3 230.6,743.5 230.8,740.1 230.9,737.2 231.1,734.9 231.2,732.3 231.3,729.4 231.5,726.2 231.7,723.9 231.8,721.8 231.9,718.6 232.1,715.8 232.2,712.5 232.4,708.7 232.6,707.7 232.7,703.5 232.8,701.7 233.0,697.9 233.2,695.3 233.4,692.3 233.7,689.4 233.9,686.9 234.1,682.7 234.3,680.5 234.5,678.3 234.7,674.5 235.0,671.6 235.2,668.3 235.4,665.5 235.6,662.4 235.8,660.0 236.0,657.7 236.3,653.1 236.5,650.5 236.7,648.4 236.8,645.6 237.0,641.3 237.1,640.0 237.2,636.6 237.4,632.7 237.5,630.7 237.6,627.0 237.8,625.8 237.9,620.5 238.1,617.7 238.2,614.5 238.3,613.5 238.5,609.4 238.6,606.1 238.7,605.2 238.9,601.3 239.0,598.2 239.4,596.1 239.7,592.7 240.1,589.7 240.4,585.6 240.8,584.0 241.1,587.0 241.4,589.2 241.7,593.2 242.1,594.5 242.4,598.6 242.7,599.5 243.0,602.9 243.1,607.4 243.3,608.3 243.4,611.6 243.5,614.9 243.7,618.9 243.8,621.0 244.0,624.6 244.1,627.4 244.2,629.0 244.4,631.7 244.5,635.1 244.7,631.6 244.9,630.2 245.1,628.2 245.4,624.7 245.6,621.3 245.8,618.7 246.0,616.3 246.2,619.2 246.3,620.9 246.5,624.4 246.7,626.0 246.8,628.5 247.0,631.0 247.2,635.0 247.3,637.7 247.5,640.3 247.7,636.6 247.8,634.7 247.9,632.6 248.1,629.0 248.2,626.6 248.4,623.7 248.6,621.0 248.7,617.7 248.8,615.7 249.0,612.6 249.2,615.8 249.5,617.6 249.8,621.6 250.0,624.3 250.2,627.7 250.5,630.0 250.8,632.5 251.0,635.2 251.2,632.4 251.4,628.6 251.7,626.7 251.9,622.4 252.1,620.0 252.3,617.4 252.6,615.7 252.8,612.6 253.0,608.6 253.2,612.6 253.4,614.8 253.7,617.8 253.9,619.7 254.1,622.7 254.3,624.7 254.6,627.5 254.8,631.4 255.0,633.4 256.7,631.1 256.8,628.7 257.0,624.7 257.1,621.9 257.3,619.5 257.4,617.6 257.6,615.1 257.8,611.2 257.9,609.7 258.1,606.4 258.2,602.8 258.4,600.8 258.5,597.9 259.0,596.6 259.4,591.8 259.9,588.8 260.3,587.0 260.8,583.9 260.9,587.6 261.0,590.5 261.1,592.2 261.2,595.6 261.3,596.7 261.4,600.5 261.4,604.4 261.5,606.4 261.6,609.2 261.7,612.1 261.8,614.9 261.9,617.3 262.0,620.1 262.2,618.4 262.4,616.1 262.6,611.0 262.9,609.4 263.1,607.6 263.3,604.2 263.5,600.9 263.7,603.5 263.8,606.1 264.0,609.5 264.2,612.2 264.3,615.6 264.5,616.8 264.7,621.9 264.8,623.2 265.0,627.0 265.2,628.7 265.3,633.0 265.5,635.0 265.7,631.3 265.9,629.7 266.1,626.2 266.4,623.3 266.6,621.0 266.8,617.8 267.0,616.1 267.1,618.6 267.3,622.4 267.4,625.2 267.5,628.9 267.7,631.2 267.8,633.0 268.0,636.5 268.1,639.6 268.2,643.4 268.4,645.3 268.5,648.3 269.0,651.6 269.4,653.8 269.9,656.8 270.3,659.3 270.8,661.7 271.2,658.8 271.6,656.1 272.1,653.5 272.5,651.8 272.9,646.9 273.3,644.6 273.7,643.0 274.2,639.6 274.6,637.5 275.0,634.2 276.0,637.8 277.0,640.3 278.0,642.5 279.0,646.2 280.0,648.1 280.3,651.5 280.7,653.3 281.0,656.0 281.3,657.9 281.7,662.7 282.0,665.2 282.3,667.5 282.7,670.6 283.0,672.7 283.3,676.5 283.6,679.2 283.8,681.3 284.1,685.4 284.4,687.9 284.7,691.1 284.9,694.0 285.2,696.3 285.5,699.6 285.8,701.4 286.1,704.9 286.3,707.7 286.6,711.1 286.9,713.2 287.2,715.3 287.4,718.6 287.7,721.1 288.0,725.1 288.6,721.2 289.2,718.7 289.8,716.6 290.3,713.8 290.9,710.2 291.5,707.9 292.1,703.4 292.7,701.0 293.2,697.5 293.8,695.4 294.4,693.4 295.0,690.0 295.6,687.3 296.1,684.0 296.7,681.6 297.2,678.9 297.8,675.5 298.3,672.4 298.9,670.5 299.4,668.3 300.0,665.3 300.2,661.2 300.3,660.2 300.5,655.6 300.6,652.7 300.8,650.9 300.9,647.3 301.1,645.4 301.2,642.4 301.4,639.6 301.5,637.7 301.7,633.7 301.8,636.3 302.0,640.1 302.1,642.5 302.2,644.0 302.3,647.4 302.5,650.5 302.6,653.2 302.7,656.4 302.9,659.8 303.0,662.4 303.1,666.5 303.2,667.0 303.4,671.5 303.5,672.5 303.6,677.1 303.7,680.3 303.9,682.1 304.0,685.0 304.2,682.7 304.3,680.0 304.5,677.2 304.7,675.2 304.8,672.3 305.0,668.1 305.2,665.6 305.3,664.4 305.5,660.7 305.6,664.2 305.6,667.6 305.7,668.9 305.7,673.8 305.8,675.0 305.9,678.0 305.9,681.3 306.0,685.2 306.0,686.9 306.1,690.0 306.2,693.3 306.2,695.4 306.3,699.0 306.3,702.2 306.4,704.9 306.5,708.7 306.5,710.9 306.6,715.8 306.6,717.8 306.7,720.6 306.8,721.9 306.8,725.8 306.9,729.5 306.9,732.0 307.0,735.3 307.1,732.4 307.3,730.3 307.4,727.5 307.6,724.6 307.7,719.6 307.9,718.3 308.0,715.5 308.1,712.9 308.3,710.6 308.4,705.8 308.6,703.0 308.7,702.2 308.9,698.0 309.0,696.2 309.1,697.7 309.2,702.5 309.4,704.8 309.5,708.8 309.6,711.5 309.8,714.2 309.9,715.9 310.0,718.4 310.1,723.5 310.2,726.3 310.4,729.3 310.5,731.2 310.6,734.0 310.8,737.0 310.9,740.0 311.0,743.2 311.1,739.2 311.3,736.7 311.4,734.7 311.5,731.1 311.7,728.2 311.8,727.4 311.9,724.7 312.1,721.4 312.2,718.0 312.3,715.6 312.5,711.7 312.6,709.3 312.7,708.0 312.9,704.5 313.0,700.8 313.1,704.9 313.2,706.6 313.4,709.5 313.5,711.2 313.6,714.6 313.8,718.9 313.9,720.7 314.0,724.5 314.1,727.2 314.2,728.9 314.4,731.3 314.5,736.2 314.6,738.8 314.8,740.1 314.9,744.6 315.0,747.0 315.1,744.5 315.2,742.0 315.3,736.8 315.4,734.7 315.5,732.6 315.6,729.7 315.8,726.5 315.9,724.7 316.0,720.2 316.1,718.6 316.2,714.2 316.3,711.8 316.4,709.8 316.5,705.8 316.6,709.4 316.7,712.0 316.8,715.6 316.9,717.8 317.0,720.5 317.1,723.8 317.2,726.4 317.3,730.5 317.4,732.6 317.5,734.9 317.5,731.0 317.6,728.5 317.6,726.5 317.6,722.4 317.6,718.7 317.7,717.6 317.7,714.6 317.7,712.1 317.8,709.6 317.8,705.4 317.8,702.4 317.8,699.5 317.9,697.5 317.9,693.8 317.9,689.4 318.0,688.0 318.0,683.3 318.0,681.3 318.0,677.8 318.1,676.5 318.1,671.7 318.1,668.8 318.2,666.7 318.2,663.2 318.2,660.2 318.2,657.5 318.3,654.8 318.3,652.3 318.3,648.9 318.4,646.4 318.4,642.5 318.4,640.2 318.4,636.1 318.5,633.4 318.5,630.9 318.6,627.6 318.6,626.1 318.7,622.7 318.7,620.0 318.8,617.6 318.9,615.3 318.9,612.2 319.0,609.2 319.0,606.8 319.1,604.0 319.1,600.5 319.2,598.2 319.3,600.9 319.4,603.6 319.4,606.3 319.5,609.2 319.6,612.2 319.7,616.3 319.7,618.1 319.8,621.0 319.9,623.9 320.0,627.6 320.0,629.6 320.1,633.1 320.2,636.9 320.3,640.4 320.3,641.3 320.4,644.2 320.5,648.3 320.6,650.9 320.7,653.9 320.8,656.2 320.9,658.8 321.0,662.4 321.1,664.6 321.2,668.0 321.2,671.1 321.3,674.6 321.4,675.7 321.5,679.1 321.6,681.7 321.7,686.3 321.8,687.0 321.9,692.0 322.0,694.5 322.1,692.2 322.2,688.8 322.4,685.2 322.5,684.1 322.6,679.6 322.8,677.5 322.9,675.2 323.0,672.5 323.1,668.0 323.2,665.1 323.4,663.5 323.5,660.7 323.6,664.1 323.7,666.0 323.8,670.5 323.8,673.3 323.9,675.2 324.0,678.8 324.1,681.3 324.2,683.8 324.2,686.6 324.3,689.0 324.4,692.3 324.5,696.7 324.6,699.0 324.7,701.9 324.8,704.8 324.8,707.9 324.9,710.0 325.0,713.0 325.2,711.1 325.5,707.6 325.8,704.6 326.0,702.0 326.2,697.9 326.5,695.6 326.8,694.2 327.0,691.0 327.1,693.9 327.3,696.3 327.4,699.7 327.6,703.1 327.7,706.4 327.9,709.0 328.0,710.6 328.1,715.1 328.3,717.8 328.4,720.6 328.6,722.3 328.7,725.6 328.9,730.1 329.0,732.6 329.2,729.0 329.4,727.3 329.6,724.0 329.9,719.9 330.1,717.2 330.3,715.3 330.5,711.1 330.6,710.4 330.6,704.4 330.7,702.2 330.8,699.6 330.8,696.1 330.9,694.4 330.9,689.4 331.0,688.0 331.1,686.0 331.1,682.4 331.2,679.0 331.3,675.8 331.3,673.2 331.4,669.8 331.4,669.3 331.5,664.4 331.6,661.4 331.6,659.0 331.7,656.8 331.8,653.5 331.9,651.6 331.9,646.3 332.0,644.6 332.1,640.6 332.2,638.2 332.2,636.3 332.3,632.7 332.4,629.2 332.5,626.0 332.5,624.4 332.6,620.5 332.7,617.3 332.8,614.2 332.8,611.5 332.9,608.1 333.0,605.3 333.2,602.5 333.4,601.1 333.5,597.1 333.7,593.2 333.9,592.1 334.1,590.1 334.3,587.3 334.5,582.7 334.6,580.1 334.8,577.9 335.0,576.5 335.2,572.0 335.3,570.7 335.5,567.0 335.6,564.0 335.8,562.8 335.9,559.0 336.1,555.9 336.2,554.3 336.4,550.7 336.5,548.6 336.7,544.8 336.8,542.6 336.9,538.2 337.0,535.8 337.1,533.1 337.2,532.1 337.3,527.0 337.4,525.0 337.5,520.5 337.6,518.1 337.7,516.5 337.8,511.5 337.9,509.5 338.0,509.1 338.1,504.1 338.2,502.9 338.3,498.0 338.4,497.3 338.5,491.8 338.6,490.9 338.7,486.7 338.8,484.1 338.9,481.3 339.0,478.6 339.1,475.6 339.2,472.1 339.3,468.9 339.4,467.4 339.5,463.4 339.6,460.3 339.7,458.9 339.8,454.8 339.9,451.1 340.0,448.1 340.1,446.3 340.2,441.7 340.3,441.3 340.4,438.0 340.5,434.8 340.6,431.8 340.7,429.4 340.8,427.0 340.9,429.8 341.0,431.2 341.1,433.7 341.1,437.4 341.2,442.1 341.3,444.5 341.4,446.4 341.5,449.6 341.6,451.0 341.7,455.8 341.7,457.8 341.8,460.0 341.9,462.7 342.0,465.3 342.2,463.4 342.3,459.3 342.5,456.9 342.7,454.6 342.8,451.1 343.0,448.5 343.2,447.0 343.3,442.9 343.5,441.5 343.6,443.1 343.7,447.6 343.8,450.4 344.0,452.8 344.1,456.8 344.2,457.8 344.3,460.8 344.4,462.9 344.5,466.5 344.7,469.2 344.8,471.4 344.9,475.6 345.0,477.9 345.2,474.1 345.5,471.7 345.8,468.1 346.0,467.2 346.2,465.9 346.5,460.4 346.8,459.5 347.0,455.8 347.2,460.1 347.5,463.2 347.8,464.7 348.0,467.4 348.2,470.8 348.5,474.0 348.8,474.9 349.0,478.6 349.4,475.5 349.9,474.9 350.4,472.1 350.8,470.7 351.2,467.6 351.7,463.2 351.9,467.7 352.1,470.0 352.3,471.3 352.5,473.9 352.7,478.8 353.0,481.3 353.2,483.0 353.4,485.0 353.6,489.0 353.8,491.7 354.0,494.9 354.3,497.4 354.7,498.4 355.0,503.1 355.4,503.8 355.7,508.0 356.0,511.5 356.4,513.6 356.7,516.1 356.8,510.5 356.9,508.7 357.0,507.3 357.1,503.2 357.1,500.1 357.2,496.4 357.3,495.6 357.4,489.5 357.5,485.9 357.6,484.1 357.7,481.9 357.8,478.6 357.9,477.6 357.9,472.7 358.0,472.3 358.1,465.0 358.2,462.9 358.3,461.1 358.6,456.2 358.9,453.7 359.2,450.8 359.5,449.8 359.8,445.2 360.2,442.2 360.5,439.2 360.8,438.5 361.1,434.3 361.4,430.4 361.7,429.2 361.8,430.9 362.0,434.4 362.1,436.4 362.2,440.1 362.4,442.5 362.5,447.2 362.6,450.2 362.7,452.3 362.9,454.6 363.0,457.8 363.2,453.9 363.4,450.6 363.7,450.4 363.9,446.0 364.1,442.8 364.3,438.6 364.6,437.6 364.8,432.8 365.0,431.9 365.2,434.8 365.4,438.6 365.5,440.3 365.7,442.7 365.9,445.4 366.1,447.4 366.3,449.6 366.5,454.5 366.6,456.4 366.8,459.1 367.0,461.1 367.2,458.9 367.4,456.9 367.5,451.7 367.7,450.9 367.9,449.6 368.1,446.3 368.3,440.5 368.5,438.7 368.6,434.6 368.8,434.0 369.0,432.1 369.2,434.0 369.3,438.6 369.5,439.8 369.7,440.7 369.8,444.9 370.0,446.9 370.2,450.2 370.3,452.8 370.5,455.7 370.7,454.1 370.9,449.3 371.1,447.0 371.2,444.1 371.4,440.8 371.6,438.4 371.8,437.7 372.0,433.3 372.1,437.7 372.2,439.5 372.3,440.6 372.5,445.5 372.6,449.0 372.7,453.1 372.8,454.2 372.9,455.2 373.0,459.9 373.2,462.9 373.3,465.7 373.4,468.7 373.5,472.5 374.0,474.7 374.4,478.4 374.9,479.5 375.3,483.0 375.8,484.3 376.2,488.6 376.7,491.7 376.9,492.9 377.1,495.7 377.2,497.1 377.4,503.6 377.6,505.2 377.8,508.4 378.0,513.4 378.2,513.7 378.4,516.4 378.5,522.4 378.7,522.1 378.9,527.0 379.1,528.8 379.3,530.3 379.4,534.1 379.6,538.1 379.8,539.7 380.0,543.2 380.2,545.1 380.4,547.0 380.6,551.7 380.8,552.9 381.0,559.0 381.2,561.6 381.4,564.0 381.6,566.1 381.8,567.9 382.0,572.3 382.2,574.5 382.4,578.9 382.6,579.4 382.8,585.3 383.0,586.3 383.4,590.3 383.8,592.4 384.2,593.9 384.7,597.8 385.1,602.4 385.5,602.9 385.9,606.7 386.3,609.9 386.8,610.0 387.2,615.4 387.6,617.4 388.0,620.0 388.6,622.4 389.2,623.9 389.8,629.2 390.3,629.5 390.9,633.6 391.5,638.0 392.1,637.7 392.7,642.2 393.2,644.6 393.8,647.4 394.4,650.0 395.0,652.3 395.3,657.2 395.6,660.0 395.9,664.0 396.2,664.7 396.5,666.7 396.8,670.2 397.1,673.7 397.4,676.3 397.6,679.7 397.9,682.3 398.2,684.9 398.5,688.4 398.8,691.3 399.1,693.3 399.4,696.6 399.7,700.5 400.0,704.3 400.1,706.9 400.2,707.6 400.2,712.1 400.3,713.7 400.4,718.4 400.5,722.3 400.6,724.9 400.6,727.1 400.7,730.6 400.8,732.7 400.9,734.7 401.0,737.6 401.1,741.3 401.1,743.4 401.2,747.2 401.3,751.1 401.4,752.0 401.5,755.2 401.5,756.9 401.6,759.9 401.7,764.5 403.4,764.6 405.0,764.5 405.2,759.5 405.4,758.3 405.6,755.3 405.8,751.5 405.9,749.4 406.1,745.4 406.3,744.3 406.5,739.9 406.7,737.8 406.9,735.0 407.1,733.9 407.2,727.0 407.4,727.5 407.6,722.1 407.8,720.8 408.0,717.3 408.6,714.7 409.1,711.3 409.7,710.0 410.2,706.0 410.8,704.9 411.1,705.4 411.4,710.9 411.6,713.8 411.9,714.8 412.2,720.2 412.4,721.8 412.7,726.6 413.0,728.8 414.9,730.1 416.7,730.2 417.0,730.7 417.2,734.7 417.5,736.4 417.8,741.7 418.1,743.2 418.4,746.3 418.6,749.7 418.9,753.1 419.2,754.7 419.4,757.4 419.7,761.4 420.0,762.5 420.4,764.5 420.9,767.9 421.3,771.2 421.8,774.0 422.2,776.3 422.7,781.6 423.1,785.4 423.6,787.1 424.0,789.0 424.4,787.4 424.9,783.2 425.3,781.9 425.8,776.2 426.2,774.4 426.7,770.0 427.1,769.8 427.6,763.4 428.0,761.6 428.3,760.5 428.7,756.1 429.0,756.1 429.3,751.4 429.7,746.3 430.0,747.5 431.5,745.3 433.0,746.5 434.0,744.0 435.0,741.2 436.0,740.5 437.0,735.4 438.0,734.3 439.0,729.8 440.0,727.8 442.2,729.2 444.5,728.9 446.7,730.2 446.8,731.2 446.9,737.4 447.0,736.4 447.1,742.4 447.2,743.0 447.4,747.3 447.5,748.8 447.6,753.4 447.7,755.1 447.8,759.0 447.9,759.9 448.0,762.3 448.3,766.0 448.6,766.5 448.9,771.2 449.2,773.7 449.5,775.1 449.9,778.3 450.2,783.9 450.5,784.7 450.8,786.6 451.1,790.8 451.4,794.3 451.7,796.6 452.1,799.5 452.4,801.9 452.8,804.1 453.2,806.7 453.5,809.5 453.9,811.4 454.3,816.8 454.6,818.1 455.0,821.6 455.2,821.9 455.5,824.8 455.8,828.8 456.0,832.6 456.2,834.6 456.5,837.4 456.8,839.2 457.0,841.5 457.2,845.2 457.5,850.3 457.8,851.7 458.0,853.8 458.9,856.6 459.8,861.0 460.7,860.8 461.6,865.4 462.5,865.2 463.1,863.3 463.8,861.7 464.4,859.0 465.0,853.6 465.2,853.1 465.5,849.2 465.7,844.8 466.0,844.9 466.2,840.8 466.5,840.4 466.7,834.9 468.8,838.4 470.8,839.5 471.0,837.9 471.3,831.4 471.5,829.9 471.8,828.4 472.0,823.4 472.3,820.8 472.5,818.4 472.8,815.3 473.0,813.1 473.3,809.7 473.6,808.9 473.9,802.7 474.2,801.8 474.5,799.5 474.9,795.1 475.2,795.7 475.5,789.4 475.8,788.0 476.1,785.4 476.4,782.4 476.7,779.3 477.3,778.3 477.8,774.5 478.4,771.8 478.9,770.4 479.5,766.1 480.0,763.9 480.6,761.6 481.1,758.1 481.7,755.0 482.1,751.1 482.4,748.3 482.8,748.8 483.2,742.9 483.5,742.0 483.9,736.7 484.3,735.9 484.6,733.7 485.0,729.4 485.5,727.8 486.0,724.2 486.5,722.1 487.0,718.2 487.5,718.1 488.0,715.1 488.5,709.5 489.0,708.5 489.5,705.7 490.0,704.3 491.6,699.3 493.2,697.7 494.8,694.1 496.4,693.2 498.0,692.0 498.5,692.5 499.0,696.0 499.5,698.1 500.0,701.7 500.5,704.6 501.0,708.7 501.5,713.1 502.0,713.0 502.5,717.6 503.0,721.2 503.6,723.5 504.2,727.7 504.9,726.3 505.5,731.4 506.1,732.3 506.7,737.6 508.8,736.7 510.9,732.7 513.0,733.3 514.7,729.4 516.3,727.2 518.0,727.6 518.7,731.0 519.4,730.2 520.1,735.3 520.9,736.4 521.6,739.9 522.3,741.6 523.0,745.9 523.3,748.6 523.6,752.5 523.9,751.8 524.2,757.5 524.5,760.5 524.9,760.9 525.2,766.8 525.5,767.5 525.8,773.3 526.1,775.4 526.4,777.4 526.7,778.5 528.4,781.3 530.0,783.1 531.5,783.2 533.0,783.1 533.4,780.6 533.8,778.6 534.2,775.1 534.6,772.6 535.1,771.7 535.5,765.6 535.9,762.1 536.3,759.5 536.7,757.5 537.0,754.4 537.2,754.5 537.5,747.6 537.7,746.0 538.0,744.6 538.2,739.1 538.5,737.7 538.7,735.5 539.0,732.3 539.2,728.1 539.5,727.3 539.7,723.5 540.0,719.3 540.4,719.1 540.8,715.5 541.1,711.5 541.5,709.9 541.9,705.8 542.2,703.8 542.6,702.1 543.0,697.1 545.5,697.1 548.0,699.6 548.4,700.6 548.7,705.3 549.1,707.1 549.5,711.1 549.9,714.4 550.2,717.1 550.6,719.0 551.0,721.4 551.3,724.7 551.7,727.2 552.0,726.1 552.2,719.8 552.5,720.5 552.8,716.4 553.1,712.3 553.4,709.7 553.6,705.8 553.9,704.6 554.2,702.3 554.5,697.8 554.7,697.9 555.0,693.5 555.3,689.9 555.5,685.7 555.8,684.7 556.1,683.1 556.4,679.3 556.6,678.1 556.9,674.0 557.2,669.8 557.5,668.8 557.7,665.1 558.0,663.0 558.7,659.6 559.3,658.1 560.0,655.3 560.7,652.9 561.3,650.4 562.0,646.6 563.8,649.7 565.7,651.6 567.5,651.8 567.6,654.9 567.7,657.3 567.8,660.1 567.8,664.2 567.9,668.5 568.0,668.2 568.1,671.1 568.2,675.1 568.2,678.2 568.3,681.0 568.4,680.6 568.5,685.3 569.1,689.2 569.8,690.0 570.4,692.7 571.1,695.8 571.7,698.3 572.7,693.7 573.7,692.5 574.7,689.6 575.7,687.4 576.7,683.7 578.8,686.1 580.9,686.8 582.9,689.5 585.0,689.7 585.2,693.7 585.5,697.3 585.7,699.7 585.9,702.3 586.1,704.1 586.4,708.2 586.6,711.8 586.8,713.5 587.0,714.8 587.3,718.5 587.5,722.7 587.7,719.8 587.9,715.0 588.1,711.5 588.3,709.0 588.5,705.2 588.8,703.6 589.0,700.0 589.2,696.7 589.4,693.0 589.6,691.6 589.8,690.1 590.0,685.1 590.3,683.0 590.7,679.7 591.0,677.3 591.3,675.6 591.7,672.6 592.0,669.3 592.3,667.0 592.7,665.2 593.0,661.1 594.7,662.1 596.3,657.7 598.0,658.4 599.0,658.9 600.0,664.2 601.0,666.0 602.0,667.5 603.0,670.0 603.8,672.2 604.7,672.9 605.5,677.5 606.3,679.5 607.2,685.0 608.0,686.8 608.8,687.8 609.7,692.6 610.5,695.1 611.3,696.4 612.2,698.6 613.0,703.8 613.8,704.1 614.7,708.0 615.5,712.0 616.3,715.2 617.2,716.8 618.0,718.7 618.7,721.8 619.4,725.4 620.1,729.7 620.9,730.9 621.6,731.7 622.3,738.6 623.0,740.9 623.3,737.0 623.6,734.2 623.9,732.5 624.1,730.3 624.4,724.7 624.7,723.8 625.0,718.9 625.3,715.8 625.6,715.5 625.8,711.4 626.1,710.6 626.4,704.6 626.7,702.7 627.1,700.4 627.4,696.2 627.8,693.4 628.2,690.1 628.5,689.2 628.9,686.7 629.3,683.3 629.6,680.8 630.0,676.9 631.2,676.3 632.4,672.0 633.6,670.7 634.8,668.7 636.0,665.6 636.3,670.4 636.7,672.1 637.0,676.7 637.3,677.7 637.7,679.0 638.0,684.0 638.7,685.8 639.4,687.1 640.1,691.7 640.9,695.2 641.6,698.4 642.3,700.3 643.0,702.4 643.3,705.4 643.6,709.5 643.9,710.3 644.2,712.8 644.5,718.4 644.9,720.1 645.2,723.7 645.5,725.1 645.8,730.0 646.1,730.0 646.4,735.3 646.7,738.2 647.2,734.4 647.7,733.5 648.2,730.1 648.7,726.9 649.2,725.0 649.7,721.8 650.2,720.3 650.7,717.2 651.2,713.6 651.7,710.0 652.2,707.8 652.8,704.5 653.4,704.8 653.9,701.9 654.5,697.5 655.0,695.7 656.1,692.1 657.2,691.0 658.4,686.0 659.5,687.6 660.6,682.1 661.7,681.6 663.4,681.0 665.0,682.0 666.7,685.4 666.9,690.2 667.0,692.2 667.2,693.9 667.4,695.7 667.5,697.5 667.7,702.6 667.8,705.7 668.0,707.3 668.3,709.4 668.7,713.5 669.0,716.4 669.3,718.8 669.7,721.2 670.0,723.8 670.4,727.3 670.7,728.8 671.0,732.7 671.4,734.3 671.7,737.1 671.9,739.5 672.1,742.2 672.4,746.5 672.6,749.3 672.8,751.1 673.0,755.2 673.2,756.3 673.5,760.2 673.7,762.7 673.9,766.8 674.1,768.2 674.3,772.4 674.6,772.9 674.8,776.6 675.0,778.8 675.2,782.0 675.5,786.9 675.7,789.9 675.9,791.1 676.2,793.7 676.4,795.5 676.6,798.5 676.8,802.9 677.1,803.7 677.3,805.5 677.5,808.9 677.8,813.8 678.0,815.5 678.3,818.0 678.7,821.3 679.0,824.4 679.3,828.7 679.7,831.6 680.0,832.7 681.3,834.9 682.7,834.9 684.0,838.7 684.7,834.4 685.3,831.1 686.0,827.8 686.7,826.0 687.3,824.5 688.0,821.6 689.4,818.7 690.8,816.9 692.2,813.9 693.6,810.2 695.0,807.7 695.2,812.9 695.5,813.7 695.7,817.9 696.0,822.5 696.2,823.7 696.5,826.5 696.7,830.6 698.3,826.5 699.9,824.9 701.4,824.7 703.0,820.3 703.6,823.9 704.2,826.1 704.9,831.3 705.5,832.6 706.1,835.3 706.7,838.3 707.8,839.9 708.8,844.3 709.9,845.0 710.9,849.8 712.0,852.5 713.0,855.8 713.6,850.6 714.1,850.4 714.7,845.2 715.2,841.7 715.8,840.3 716.3,836.5 716.9,833.6 717.4,831.2 718.0,828.6 718.4,826.4 718.8,824.1 719.2,822.3 719.6,817.8 720.1,817.2 720.5,813.8 720.9,809.6 721.3,806.8 721.7,803.9 722.5,803.1 723.4,799.3 724.2,798.1 725.0,793.2 726.0,796.9 727.0,799.8 728.0,801.5 729.0,804.0 730.0,806.4 730.2,811.6 730.4,813.2 730.6,814.9 730.9,819.1 731.1,823.1 731.3,825.2 731.5,828.0 731.7,831.1 733.4,831.0 735.0,832.8 737.5,831.4 740.0,833.1 740.2,831.3 740.3,829.8 740.5,825.5 740.7,823.0 740.9,817.2 741.0,816.5 741.2,815.4 741.4,811.7 741.5,809.6 741.7,805.0 742.4,802.4 743.0,800.1 743.7,797.2 744.3,793.1 745.0,792.2 746.5,793.1 748.0,795.3 749.9,797.1 751.7,797.1 752.4,794.4 753.1,791.3 753.8,791.4 754.6,785.2 755.3,783.4 756.0,783.0 756.7,780.3 757.2,777.1 757.8,775.4 758.4,772.8 758.9,770.1 759.5,767.7 760.0,763.6 762.7,764.5 765.3,763.3 768.0,761.0 769.2,762.9 770.5,767.0 771.8,767.0 773.0,769.9 774.2,774.3 775.5,776.3 776.7,777.3 777.2,775.0 777.8,772.4 778.4,770.1 778.9,766.4 779.5,766.1 780.0,763.4 780.2,760.1 780.4,757.7 780.6,754.7 780.8,752.2 780.9,750.3 781.1,747.2 781.3,744.3 781.5,741.3 781.7,736.8 781.9,736.0 782.1,732.2 782.3,729.5 782.4,729.7 782.6,724.0 782.8,723.7 783.0,720.8 784.7,716.5 786.5,718.0 788.2,716.3 790.0,712.2 791.7,711.7 792.5,708.1 793.4,707.5 794.2,701.9 795.0,699.4 795.9,696.5 796.7,693.8 797.6,693.3 798.5,690.9 799.4,686.1 800.3,684.4 801.2,682.3 802.1,677.8 803.0,676.9 803.6,675.6 804.2,671.4 804.9,668.2 805.5,665.9 806.1,664.9 806.7,662.2 807.2,663.0 807.8,666.8 808.4,670.3 808.9,672.1 809.5,674.3 810.0,676.2 810.3,674.1 810.5,670.8 810.8,668.2 811.1,667.4 811.4,662.8 811.6,658.9 811.9,657.6 812.2,654.3 812.5,650.4 812.7,645.9 813.0,644.3 813.9,641.8 814.8,638.4 815.6,636.2 816.5,634.0 817.4,632.1 818.2,629.2 819.1,626.1 820.0,621.7 821.0,620.6 822.0,620.7 823.0,616.3 824.0,615.1 826.0,613.9 828.0,614.1 830.0,611.9 830.7,607.8 831.4,607.6 832.1,603.4 832.9,601.5 833.6,598.8 834.3,595.7 835.0,593.5 835.6,589.2 836.2,588.7 836.8,584.5 837.4,583.0 838.0,580.3 839.7,581.2 841.3,583.1 843.0,586.5 843.5,588.4 844.1,591.1 844.6,593.1 845.1,597.5 845.6,597.0 846.2,601.4 846.7,603.1 847.1,600.9 847.5,597.7 847.9,595.5 848.4,594.3 848.8,591.8 849.2,587.6 849.6,584.2 850.0,584.1 851.3,581.7 852.7,579.3 854.0,578.5 856.6,579.1 859.1,576.5 861.7,574.4 862.1,578.9 862.5,579.5 862.9,585.7 863.4,588.0 863.8,590.5 864.2,592.4 864.6,594.2 865.0,598.0 866.0,600.0 866.9,602.6 867.9,603.9 868.8,607.3 869.8,609.5 870.7,612.5 871.7,616.1 873.4,619.2 875.0,620.9 876.7,622.0 877.1,624.9 877.4,627.2 877.8,630.8 878.2,635.6 878.5,638.4 878.9,638.2 879.3,640.9 879.6,642.8 880.0,647.5 881.3,650.4 882.7,653.5 884.0,656.4 885.3,655.9 886.7,660.3 888.0,659.8 888.8,663.0 889.7,668.5 890.5,669.3 891.3,670.2 892.2,676.1 893.0,678.9 893.8,682.7 894.7,684.9 895.5,687.3 896.3,689.8 897.2,693.7 898.0,694.9 899.0,698.1 900.0,698.1 901.0,701.6 902.0,707.7 903.0,708.7 904.0,712.5 904.4,708.3 904.9,707.9 905.3,704.1 905.8,699.0 906.2,696.5 906.7,693.2 907.1,692.9 907.6,687.0 908.0,685.8 908.7,682.6 909.4,681.6 910.1,678.0 910.8,676.5 911.5,678.1 912.3,681.5 913.0,683.8 913.7,685.4 914.4,687.2 915.1,691.0 915.9,695.0 916.6,697.8 917.3,699.3 918.0,703.1 918.3,698.9 918.6,696.8 918.9,693.6 919.2,691.8 919.5,689.0 919.9,685.0 920.2,680.6 920.5,678.0 920.8,674.7 921.1,671.9 921.4,670.6 921.7,666.9 922.1,664.9 922.4,662.8 922.8,658.9 923.2,658.3 923.5,654.6 923.9,650.7 924.3,649.5 924.6,646.3 925.0,642.2 925.6,639.7 926.1,637.8 926.7,633.8 927.2,631.2 927.8,628.1 928.3,627.6 928.9,623.2 929.4,619.1 930.0,617.3 930.2,614.8 930.5,612.8 930.7,608.0 930.9,607.1 931.2,602.4 931.4,602.7 931.6,598.4 931.8,595.4 932.1,593.9 932.3,591.3 932.5,588.4 932.8,584.6 933.0,581.5 934.4,580.3 935.8,578.2 937.2,575.9 938.6,575.2 940.0,572.4 942.5,574.2 945.0,574.3 945.6,570.5 946.2,568.5 946.8,564.6 947.4,563.6 948.0,559.8 948.2,556.3 948.3,555.0 948.5,551.2 948.7,548.3 948.8,545.9 949.0,543.1 949.2,540.7 949.3,536.9 949.5,535.2 949.7,532.0 949.8,528.9 950.0,526.7 950.3,523.9 950.6,519.4 950.9,519.4 951.2,514.4 951.5,512.2 951.8,509.3 952.1,506.5 952.4,504.6 952.7,500.0 953.0,497.4 954.7,499.1 956.3,503.0 958.0,506.0 958.5,504.3 959.1,499.2 959.6,496.4 960.1,493.7 960.6,493.4 961.2,489.5 961.7,487.3 961.9,483.3 962.2,482.0 962.4,479.2 962.6,476.7 962.9,474.2 963.1,470.5 963.3,466.7 963.5,465.6 963.8,462.5 964.0,460.4 964.4,457.0 964.8,454.0 965.2,450.2 965.5,448.0 965.9,445.1 966.3,440.6 966.7,438.8 968.0,440.2 969.2,443.3 970.5,447.0 971.7,447.9 971.9,443.9 972.0,441.1 972.2,437.4 972.4,435.1 972.5,433.6 972.7,430.0 972.8,426.9 973.0,424.0 973.2,422.0 973.3,417.3 973.5,416.4 973.7,412.2 973.8,408.3 974.0,407.4 974.2,404.6 974.3,399.9 974.5,399.0 974.7,394.2 974.8,392.7 975.0,388.7 975.8,392.0 976.5,392.6 977.2,395.5 978.0,397.4 978.1,396.1 978.3,391.8 978.4,388.8 978.5,386.3 978.7,382.7 978.8,379.1 978.9,377.7 979.1,373.7 979.2,370.4 979.3,367.3 979.5,365.9 979.6,363.0 979.7,358.9 979.9,355.9 980.0,354.4 982.5,352.5 985.0,350.4 985.2,348.5 985.4,344.4 985.6,341.4 985.9,338.5 986.1,336.6 986.3,331.9 986.5,329.6 986.7,326.6 988.4,327.4 990.0,328.6 991.0,329.6 992.0,333.4 993.0,335.7 994.0,336.9 995.0,338.4 995.3,342.0 995.7,346.2 996.0,347.6 996.3,351.7 996.7,352.6 997.0,354.9 997.3,359.0 997.7,360.5 998.0,364.5 998.5,367.1 998.9,369.3 999.4,370.8 999.9,376.3 1000.3,377.9 1000.8,379.4 1000.9,377.2 1001.1,374.1 1001.2,372.1 1001.4,368.9 1001.5,365.8 1001.6,364.3 1001.8,361.4 1001.9,357.7 1002.1,355.5 1002.2,352.8 1002.4,349.3 1002.5,346.7 1002.6,343.7 1002.6,340.0 1002.7,339.6 1002.8,335.4 1002.8,333.6 1002.9,330.7 1003.0,327.8 1003.0,323.7 1003.1,320.6 1003.2,318.7 1003.2,314.2 1003.3,313.3 1003.4,311.1 1003.5,305.8 1003.5,303.3 1003.6,301.1 1003.7,299.3 1003.7,295.6 1003.8,293.3 1003.9,288.6 1003.9,286.9 1004.0,284.5 1004.1,286.2 1004.2,289.5 1004.3,291.9 1004.4,295.1 1004.5,298.0 1004.6,301.6 1004.7,303.7 1004.8,308.7 1004.8,309.9 1004.9,313.9 1005.0,315.9 1005.1,318.6 1005.2,322.6 1005.3,325.3 1005.4,329.1 1005.5,330.5 1005.6,327.3 1005.7,326.3 1005.7,321.8 1005.8,320.3 1005.9,315.6 1006.0,313.6 1006.1,312.1 1006.1,307.2 1006.2,305.2 1006.3,301.2 1006.4,298.3 1006.4,296.1 1006.5,292.7 1006.6,291.3 1006.7,289.2 1006.8,284.2 1006.8,281.9 1006.9,279.2 1007.0,275.9 1007.1,278.4 1007.1,282.1 1007.2,285.1 1007.3,288.0 1007.4,289.5 1007.5,293.1 1007.5,296.0 1007.6,299.7 1007.7,301.5 1007.8,305.9 1007.8,306.4 1007.9,310.2 1008.0,313.0 1008.0,315.8 1008.1,319.7 1008.2,320.4 1008.3,326.1 1008.4,328.3 1008.4,329.9 1008.5,333.0 1008.6,331.1 1008.6,326.6 1008.7,325.0 1008.8,322.8 1008.9,317.3 1009.0,315.8 1009.0,311.9 1009.1,307.8 1009.2,305.9 1009.2,302.7 1009.3,300.0 1009.4,297.3 1009.5,293.4 1009.5,292.2 1009.6,288.6 1009.7,284.7 1009.8,283.8 1009.9,279.6 1009.9,275.2 1010.0,273.8 1010.1,275.2 1010.1,279.7 1010.2,282.3 1010.3,286.2 1010.3,288.3 1010.4,289.8 1010.5,293.1 1010.5,296.7 1010.6,299.5 1010.7,301.8 1010.8,306.6 1010.8,308.3 1010.9,310.3 1011.0,315.0 1011.0,316.9 1011.1,322.0 1011.2,324.1 1011.2,326.4 1011.3,329.1 1011.4,331.9 1011.4,335.5 1011.5,338.2 1011.6,335.9 1011.7,332.6 1011.7,330.1 1011.8,327.2 1011.9,324.5 1012.0,321.8 1012.1,319.2 1012.1,315.6 1012.2,313.2 1012.3,308.9 1012.4,307.7 1012.4,302.6 1012.5,300.5 1012.6,298.1 1012.7,294.4 1012.8,291.8 1012.8,290.4 1012.9,286.3 1013.0,284.3 1013.1,286.0 1013.1,289.4 1013.2,293.1 1013.3,296.8 1013.4,298.6 1013.5,300.6 1013.5,302.6 1013.6,307.4 1013.7,310.3 1013.8,313.9 1013.8,316.2 1013.9,317.8 1014.0,321.3 1014.0,325.1 1014.1,325.7 1014.2,328.4 1014.3,330.8 1014.4,336.0 1014.4,339.8 1014.5,340.6 1014.6,337.3 1014.7,335.6 1014.7,333.5 1014.8,330.1 1014.9,326.7 1015.0,324.9 1015.1,322.6 1015.1,317.7 1015.2,315.6 1015.3,312.9 1015.4,309.9 1015.5,307.2 1015.6,304.0 1015.6,301.6 1015.7,299.5 1015.8,296.1 1015.9,300.3 1015.9,301.1 1016.0,305.8 1016.0,308.7 1016.1,311.5 1016.1,313.9 1016.2,316.6 1016.2,319.5 1016.3,322.9 1016.3,325.4 1016.4,327.1 1016.4,331.8 1016.5,333.2 1016.5,336.9 1016.6,339.9 1016.6,342.7 1016.7,345.9 1016.8,342.0 1016.9,340.2 1017.0,335.6 1017.1,333.5 1017.2,331.1 1017.3,329.4 1017.4,323.2 1017.6,322.4 1017.7,320.0 1017.8,315.1 1017.9,314.0 1018.0,311.0 1018.1,305.9 1018.2,303.9 1018.3,300.6 1018.4,303.6 1018.5,307.3 1018.7,308.9 1018.8,311.0 1018.9,313.6 1019.0,316.2 1019.1,319.7 1019.3,322.4 1019.4,325.5 1019.5,328.7 1019.6,324.8 1019.6,321.9 1019.7,318.6 1019.8,316.7 1019.9,313.9 1019.9,311.1 1020.0,308.7 1020.1,305.0 1020.1,300.5 1020.2,299.5 1020.3,296.9 1020.4,293.8 1020.4,290.7 1020.5,286.4 1020.6,284.4 1020.6,282.0 1020.7,279.6 1020.8,275.3 1020.9,272.4 1020.9,270.0 1021.0,266.9 1021.2,265.4 1021.4,260.8 1021.6,258.2 1021.9,255.2 1022.1,251.6 1022.3,248.8 1022.5,246.7 1022.6,242.8 1022.8,241.0 1023.0,238.3 1023.1,236.2 1023.2,233.6 1023.4,229.4 1023.5,227.9 1023.7,224.8 1023.9,221.6 1024.0,218.6 1024.1,221.6 1024.3,226.1 1024.4,228.2 1024.6,232.1 1024.7,233.7 1024.9,236.8 1025.0,238.5 1025.1,242.7 1025.3,245.3 1025.4,248.1 1025.6,251.7 1025.7,252.9 1025.9,257.1 1026.0,258.6 1026.3,261.5 1026.6,264.7 1026.9,267.0 1027.2,269.9 1027.5,273.6 1027.5,279.0 1027.2,276.2 1026.9,271.9 1026.6,269.5 1026.3,267.4 1026.0,264.9 1025.9,263.1 1025.7,259.3 1025.6,257.2 1025.4,253.0 1025.3,250.9 1025.1,248.0 1025.0,244.1 1024.9,242.1 1024.7,239.5 1024.6,237.3 1024.4,233.7 1024.3,231.8 1024.1,227.7 1024.0,224.7 1023.9,228.0 1023.7,230.1 1023.5,233.0 1023.4,235.8 1023.2,240.1 1023.1,242.7 1023.0,244.0 1022.8,247.5 1022.6,249.5 1022.5,253.3 1022.3,255.3 1022.1,257.9 1021.9,260.9 1021.6,264.1 1021.4,266.0 1021.2,270.5 1021.0,272.4 1020.9,276.1 1020.9,278.8 1020.8,282.0 1020.7,285.1 1020.6,287.5 1020.6,289.9 1020.5,292.2 1020.4,297.1 1020.4,299.4 1020.3,302.6 1020.2,305.9 1020.1,306.7 1020.1,310.1 1020.0,314.2 1019.9,317.7 1019.9,318.8 1019.8,323.2 1019.7,324.6 1019.6,327.3 1019.6,330.4 1019.5,334.0 1019.4,331.9 1019.3,328.2 1019.1,325.9 1019.0,322.2 1018.9,318.9 1018.8,316.6 1018.7,315.3 1018.5,313.1 1018.4,310.4 1018.3,306.6 1018.2,309.6 1018.1,312.6 1018.0,316.5 1017.9,319.7 1017.8,321.1 1017.7,325.5 1017.6,328.8 1017.4,329.3 1017.3,335.1 1017.2,336.6 1017.1,340.3 1017.0,340.9 1016.9,346.3 1016.8,347.1 1016.7,351.7 1016.6,349.7 1016.6,345.2 1016.5,342.7 1016.5,339.3 1016.4,338.2 1016.4,332.5 1016.3,330.9 1016.3,328.8 1016.2,324.8 1016.2,322.6 1016.1,319.5 1016.1,316.3 1016.0,314.5 1016.0,311.1 1015.9,307.2 1015.9,306.0 1015.8,301.7 1015.7,305.2 1015.6,307.2 1015.6,310.0 1015.5,313.0 1015.4,316.4 1015.3,319.0 1015.2,322.0 1015.1,323.8 1015.1,328.2 1015.0,330.6 1014.9,332.0 1014.8,336.2 1014.7,339.6 1014.7,341.6 1014.6,343.7 1014.5,346.5 1014.4,345.6 1014.4,342.5 1014.3,337.5 1014.2,335.1 1014.1,331.7 1014.0,331.2 1014.0,326.5 1013.9,324.4 1013.8,321.0 1013.8,318.9 1013.7,317.2 1013.6,313.2 1013.5,309.1 1013.5,307.7 1013.4,304.8 1013.3,302.6 1013.2,299.3 1013.1,295.0 1013.1,292.2 1013.0,289.5 1012.9,292.5 1012.8,296.2 1012.8,297.8 1012.7,300.7 1012.6,304.0 1012.5,307.0 1012.4,308.9 1012.4,314.1 1012.3,315.2 1012.2,318.8 1012.1,322.1 1012.1,324.7 1012.0,328.1 1011.9,330.4 1011.8,333.8 1011.7,335.8 1011.7,338.2 1011.6,342.0 1011.5,343.9 1011.4,341.3 1011.4,336.9 1011.3,334.5 1011.2,332.4 1011.2,330.4 1011.1,327.8 1011.0,323.0 1011.0,321.6 1010.9,316.5 1010.8,315.0 1010.8,312.4 1010.7,308.1 1010.6,305.8 1010.5,302.4 1010.5,298.7 1010.4,296.2 1010.3,294.9 1010.3,291.5 1010.2,288.3 1010.1,284.9 1010.1,281.0 1010.0,279.2 1009.9,281.8 1009.9,285.6 1009.8,289.3 1009.7,291.5 1009.6,294.9 1009.5,297.7 1009.5,299.8 1009.4,304.1 1009.3,306.5 1009.2,309.0 1009.2,311.6 1009.1,314.3 1009.0,316.7 1009.0,322.2 1008.9,323.7 1008.8,328.2 1008.7,330.6 1008.6,333.7 1008.6,336.6 1008.5,338.8 1008.4,335.8 1008.4,334.5 1008.3,332.0 1008.2,326.7 1008.1,325.5 1008.0,321.0 1008.0,318.4 1007.9,316.2 1007.8,311.8 1007.8,310.8 1007.7,306.8 1007.6,305.0 1007.5,303.0 1007.5,298.8 1007.4,294.6 1007.3,293.6 1007.2,292.0 1007.1,287.7 1007.1,284.4 1007.0,282.5 1006.9,284.4 1006.8,287.7 1006.8,289.6 1006.7,294.3 1006.6,296.7 1006.5,298.3 1006.4,301.9 1006.4,304.6 1006.3,306.9 1006.2,310.8 1006.1,313.4 1006.1,317.2 1006.0,319.9 1005.9,322.1 1005.8,326.1 1005.7,327.9 1005.7,332.8 1005.6,333.1 1005.5,337.0 1005.4,335.5 1005.3,331.4 1005.2,328.5 1005.1,323.6 1005.0,321.6 1004.9,320.3 1004.8,315.1 1004.8,314.5 1004.7,309.3 1004.6,308.4 1004.5,304.2 1004.4,301.0 1004.3,297.5 1004.2,295.2 1004.1,291.6 1004.0,290.1 1003.9,293.3 1003.9,295.1 1003.8,299.3 1003.7,300.8 1003.7,304.3 1003.6,307.5 1003.5,309.8 1003.5,311.6 1003.4,316.5 1003.3,319.6 1003.2,320.5 1003.2,324.2 1003.1,325.9 1003.0,330.0 1003.0,333.8 1002.9,336.1 1002.8,339.1 1002.8,341.5 1002.7,345.5 1002.6,346.3 1002.6,349.0 1002.5,353.5 1002.4,355.5 1002.2,358.4 1002.1,361.9 1001.9,364.8 1001.8,367.7 1001.6,370.2 1001.5,372.4 1001.4,374.6 1001.2,377.6 1001.1,381.0 1000.9,383.0 1000.8,386.0 1000.3,383.7 999.9,381.8 999.4,376.6 998.9,375.0 998.5,373.7 998.0,370.3 997.7,366.9 997.3,364.5 997.0,361.2 996.7,357.6 996.3,357.3 996.0,353.2 995.7,352.1 995.3,347.7 995.0,345.3 994.0,342.8 993.0,342.0 992.0,339.3 991.0,335.9 990.0,334.6 988.4,333.0 986.7,333.6 986.5,335.8 986.3,338.1 986.1,341.8 985.9,344.5 985.6,346.3 985.4,349.4 985.2,354.5 985.0,357.3 982.5,358.8 980.0,360.1 979.9,362.1 979.7,365.8 979.6,368.6 979.5,372.6 979.3,374.7 979.2,377.4 979.1,379.4 978.9,384.0 978.8,386.0 978.7,389.3 978.5,393.7 978.4,394.4 978.3,398.4 978.1,401.6 978.0,403.6 977.2,401.9 976.5,398.5 975.8,398.3 975.0,395.4 974.8,398.6 974.7,400.5 974.5,404.5 974.3,407.1 974.2,410.7 974.0,414.1 973.8,415.9 973.7,417.6 973.5,421.8 973.3,424.3 973.2,427.9 973.0,430.0 972.8,432.6 972.7,437.5 972.5,439.7 972.4,441.2 972.2,444.4 972.0,447.8 971.9,450.2 971.7,453.9 970.5,453.6 969.2,449.8 968.0,447.2 966.7,445.1 966.3,447.1 965.9,451.5 965.5,455.1 965.2,456.9 964.8,460.7 964.4,464.1 964.0,466.3 963.8,469.5 963.5,472.0 963.3,473.3 963.1,476.5 962.9,480.9 962.6,482.4 962.4,486.8 962.2,487.3 961.9,490.6 961.7,493.7 961.2,495.6 960.6,499.0 960.1,500.4 959.6,502.9 959.1,505.8 958.5,510.8 958.0,511.4 956.3,508.7 954.7,505.6 953.0,504.6 952.7,506.0 952.4,510.8 952.1,513.6 951.8,515.6 951.5,518.1 951.2,521.2 950.9,525.7 950.6,526.6 950.3,529.8 950.0,532.8 949.8,535.3 949.7,538.9 949.5,540.9 949.3,544.3 949.2,547.5 949.0,549.1 948.8,552.6 948.7,555.4 948.5,557.6 948.3,562.1 948.2,562.2 948.0,566.0 947.4,570.4 946.8,572.0 946.2,575.5 945.6,576.7 945.0,581.0 942.5,580.8 940.0,581.6 938.6,582.5 937.2,585.4 935.8,586.8 934.4,588.5 933.0,591.7 932.8,593.2 932.5,597.6 932.3,599.7 932.1,604.0 931.8,605.2 931.6,608.7 931.4,611.0 931.2,612.4 930.9,618.0 930.7,617.5 930.5,622.2 930.2,625.8 930.0,628.8 929.4,629.9 928.9,632.3 928.3,637.8 927.8,640.2 927.2,641.6 926.7,643.5 926.1,646.8 925.6,650.3 925.0,653.2 924.6,656.4 924.3,660.9 923.9,659.9 923.5,665.5 923.2,667.7 922.8,670.0 922.4,672.6 922.1,674.6 921.7,679.2 921.4,682.1 921.1,684.5 920.8,685.2 920.5,690.0 920.2,692.3 919.9,695.0 919.5,700.0 919.2,704.1 918.9,705.1 918.6,706.4 918.3,711.5 918.0,713.9 917.3,711.5 916.6,710.0 915.9,707.7 915.1,703.8 914.4,701.4 913.7,697.6 913.0,696.5 912.3,691.5 911.5,691.1 910.8,688.8 910.1,691.6 909.4,692.5 908.7,695.2 908.0,699.7 907.6,701.4 907.1,706.8 906.7,709.0 906.2,709.5 905.8,713.6 905.3,717.0 904.9,719.8 904.4,722.6 904.0,725.0 903.0,722.4 902.0,719.5 901.0,716.9 900.0,714.0 899.0,710.8 898.0,710.2 897.2,708.0 896.3,703.6 895.5,700.7 894.7,699.3 893.8,694.4 893.0,692.9 892.2,689.6 891.3,686.6 890.5,684.0 889.7,680.6 888.8,677.0 888.0,674.8 886.7,673.9 885.3,669.8 884.0,670.9 882.7,666.8 881.3,665.4 880.0,660.9 879.6,658.2 879.3,657.1 878.9,654.5 878.5,652.6 878.2,648.4 877.8,644.2 877.4,643.2 877.1,639.7 876.7,636.4 875.0,634.9 873.4,632.3 871.7,631.6 870.7,628.6 869.8,624.4 868.8,622.8 867.9,620.3 866.9,618.1 866.0,613.6 865.0,613.2 864.6,610.4 864.2,607.4 863.8,605.9 863.4,602.1 862.9,597.5 862.5,595.2 862.1,593.2 861.7,589.1 859.1,592.4 856.6,592.0 854.0,591.9 852.7,594.8 851.3,593.3 850.0,596.6 849.6,600.6 849.2,604.1 848.8,605.8 848.4,608.0 847.9,609.2 847.5,613.0 847.1,615.3 846.7,617.8 846.2,614.2 845.6,611.5 845.1,611.4 844.6,608.2 844.1,604.6 843.5,600.7 843.0,601.6 841.3,599.3 839.7,595.3 838.0,593.6 837.4,598.0 836.8,598.5 836.2,601.4 835.6,603.3 835.0,607.3 834.3,611.0 833.6,610.4 832.9,614.4 832.1,616.4 831.4,621.4 830.7,624.0 830.0,628.1 828.0,628.0 826.0,627.3 824.0,628.9 823.0,631.9 822.0,632.2 821.0,636.0 820.0,635.7 819.1,638.6 818.2,643.5 817.4,644.6 816.5,649.0 815.6,649.7 814.8,652.3 813.9,656.6 813.0,660.5 812.7,660.4 812.5,665.9 812.2,666.9 811.9,670.1 811.6,672.3 811.4,678.1 811.1,681.4 810.8,683.1 810.5,684.7 810.3,689.4 810.0,693.3 809.5,687.0 808.9,686.9 808.4,682.6 807.8,681.7 807.2,679.2 806.7,676.2 806.1,679.4 805.5,680.3 804.9,682.6 804.2,687.3 803.6,687.7 803.0,690.9 802.1,692.3 801.2,695.7 800.3,698.2 799.4,701.2 798.5,705.2 797.6,708.1 796.7,708.0 795.9,711.4 795.0,713.4 794.2,716.4 793.4,720.0 792.5,720.9 791.7,725.4 790.0,725.9 788.2,730.3 786.5,732.1 784.7,731.9 783.0,735.2 782.8,738.2 782.6,741.2 782.4,742.6 782.3,742.6 782.1,747.1 781.9,749.4 781.7,751.3 781.5,755.4 781.3,757.5 781.1,759.8 780.9,762.9 780.8,765.4 780.6,768.3 780.4,771.4 780.2,775.1 780.0,776.2 779.5,781.6 778.9,780.0 778.4,785.4 777.8,784.5 777.2,789.8 776.7,793.0 775.5,791.2 774.2,786.0 773.0,783.9 771.8,783.3 770.5,780.2 769.2,778.1 768.0,776.0 765.3,777.2 762.7,778.8 760.0,777.8 759.5,782.6 758.9,782.9 758.4,785.5 757.8,788.7 757.2,791.0 756.7,793.7 756.0,796.7 755.3,799.1 754.6,799.3 753.8,804.8 753.1,807.7 752.4,809.4 751.7,811.9 749.9,809.8 748.0,809.4 746.5,808.0 745.0,804.6 744.3,807.2 743.7,811.0 743.0,814.3 742.4,816.3 741.7,818.5 741.5,823.4 741.4,824.6 741.2,829.0 741.0,832.2 740.9,833.1 740.7,836.4 740.5,838.8 740.3,842.6 740.2,845.9 740.0,848.2 737.5,846.6 735.0,846.9 733.4,844.8 731.7,844.7 731.5,842.6 731.3,839.1 731.1,838.3 730.9,835.4 730.6,828.5 730.4,828.4 730.2,825.0 730.0,821.6 729.0,819.6 728.0,816.4 727.0,813.6 726.0,811.7 725.0,807.6 724.2,811.0 723.4,811.8 722.5,814.9 721.7,819.1 721.3,821.7 720.9,823.4 720.5,826.8 720.1,829.2 719.6,832.2 719.2,835.9 718.8,837.4 718.4,840.7 718.0,843.2 717.4,845.1 716.9,850.3 716.3,852.8 715.8,855.6 715.2,855.7 714.7,860.8 714.1,861.8 713.6,865.0 713.0,868.4 712.0,867.7 710.9,862.4 709.9,860.6 708.8,857.6 707.8,853.3 706.7,851.8 706.1,848.1 705.5,846.7 704.9,844.9 704.2,841.2 703.6,835.7 703.0,835.5 701.4,836.4 699.9,839.2 698.3,840.9 696.7,843.8 696.5,841.3 696.2,839.3 696.0,834.6 695.7,831.4 695.5,827.1 695.2,826.9 695.0,824.1 693.6,825.2 692.2,827.2 690.8,832.6 689.4,832.8 688.0,834.6 687.3,838.6 686.7,839.7 686.0,842.9 685.3,845.4 684.7,850.3 684.0,853.0 682.7,851.1 681.3,848.5 680.0,846.9 679.7,845.9 679.3,843.0 679.0,839.6 678.7,837.3 678.3,831.4 678.0,830.0 677.8,828.1 677.5,825.5 677.3,819.3 677.1,818.6 676.8,818.3 676.6,814.6 676.4,808.8 676.2,807.3 675.9,803.8 675.7,802.1 675.5,800.2 675.2,798.3 675.0,792.6 674.8,791.5 674.6,787.7 674.3,784.7 674.1,783.2 673.9,779.0 673.7,778.6 673.5,774.6 673.2,771.6 673.0,768.0 672.8,765.4 672.6,763.4 672.4,759.9 672.1,756.3 671.9,754.5 671.7,752.5 671.4,751.3 671.0,744.6 670.7,742.5 670.4,739.3 670.0,737.2 669.7,734.6 669.3,733.6 669.0,728.4 668.7,728.0 668.3,724.7 668.0,722.7 667.8,719.7 667.7,717.2 667.5,714.3 667.4,710.7 667.2,710.7 667.0,708.1 666.9,705.1 666.7,700.1 665.0,698.3 663.4,696.0 661.7,696.5 660.6,695.7 659.5,701.2 658.4,700.1 657.2,705.3 656.1,705.7 655.0,709.3 654.5,711.4 653.9,715.7 653.4,718.2 652.8,719.3 652.2,721.9 651.7,726.1 651.2,726.3 650.7,729.8 650.2,732.9 649.7,734.8 649.2,740.6 648.7,742.0 648.2,744.7 647.7,746.5 647.2,748.1 646.7,751.1 646.4,749.2 646.1,744.0 645.8,743.6 645.5,741.4 645.2,737.9 644.9,735.1 644.5,731.9 644.2,728.2 643.9,726.3 643.6,721.2 643.3,718.5 643.0,718.6 642.3,716.2 641.6,711.2 640.9,709.7 640.1,707.0 639.4,703.3 638.7,701.2 638.0,697.7 637.7,695.1 637.3,689.4 637.0,688.2 636.7,685.0 636.3,684.4 636.0,681.5 634.8,684.1 633.6,686.7 632.4,685.5 631.2,691.9 630.0,692.6 629.6,695.6 629.3,697.6 628.9,700.9 628.5,703.4 628.2,706.0 627.8,708.2 627.4,713.0 627.1,713.5 626.7,718.2 626.4,720.3 626.1,724.7 625.8,725.9 625.6,729.9 625.3,729.8 625.0,732.4 624.7,738.8 624.4,738.1 624.1,744.2 623.9,746.8 623.6,748.6 623.3,751.7 623.0,754.8 622.3,753.4 621.6,747.2 620.9,747.1 620.1,741.6 619.4,737.7 618.7,737.5 618.0,734.5 617.2,732.6 616.3,729.0 615.5,725.8 614.7,722.8 613.8,720.2 613.0,715.8 612.2,714.5 611.3,711.6 610.5,709.8 609.7,708.1 608.8,704.4 608.0,698.9 607.2,696.8 606.3,695.0 605.5,691.5 604.7,689.2 603.8,685.2 603.0,682.9 602.0,683.4 601.0,678.4 600.0,676.7 599.0,672.7 598.0,672.5 596.3,674.2 594.7,673.6 593.0,674.4 592.7,678.5 592.3,682.2 592.0,683.2 591.7,686.9 591.3,690.7 591.0,692.4 590.7,693.7 590.3,699.1 590.0,700.3 589.8,702.8 589.6,708.1 589.4,709.5 589.2,710.1 589.0,714.8 588.8,716.8 588.5,721.8 588.3,722.2 588.1,726.5 587.9,729.2 587.7,733.9 587.5,736.4 587.3,734.3 587.0,729.1 586.8,728.3 586.6,726.5 586.4,722.5 586.1,718.0 585.9,717.2 585.7,714.3 585.5,711.5 585.2,709.8 585.0,706.4 582.9,703.0 580.9,702.3 578.8,700.0 576.7,699.0 575.7,699.7 574.7,705.1 573.7,706.3 572.7,709.1 571.7,711.6 571.1,710.0 570.4,705.1 569.8,705.5 569.1,704.3 568.5,701.1 568.4,696.5 568.3,694.8 568.2,690.6 568.2,688.4 568.1,685.4 568.0,681.6 567.9,680.1 567.8,678.0 567.8,672.7 567.7,673.3 567.6,671.1 567.5,665.4 565.7,665.8 563.8,662.2 562.0,661.0 561.3,664.9 560.7,665.7 560.0,669.1 559.3,673.9 558.7,672.9 558.0,677.8 557.7,681.1 557.5,682.5 557.2,683.9 556.9,689.0 556.6,691.4 556.4,694.9 556.1,696.5 555.8,698.9 555.5,701.1 555.3,705.2 555.0,706.2 554.7,711.9 554.5,713.3 554.2,715.5 553.9,717.9 553.6,722.4 553.4,724.6 553.1,726.4 552.8,731.0 552.5,734.6 552.2,734.9 552.0,740.6 551.7,742.0 551.3,737.8 551.0,735.5 550.6,735.3 550.2,731.8 549.9,727.2 549.5,725.9 549.1,720.2 548.7,718.1 548.4,716.1 548.0,712.1 545.5,711.5 543.0,711.9 542.6,714.3 542.2,717.6 541.9,719.6 541.5,721.9 541.1,725.9 540.8,729.9 540.4,731.8 540.0,735.3 539.7,736.6 539.5,740.1 539.2,741.0 539.0,747.6 538.7,748.4 538.5,750.7 538.2,754.3 538.0,757.7 537.7,759.8 537.5,761.4 537.2,767.4 537.0,767.9 536.7,772.2 536.3,774.6 535.9,777.1 535.5,780.7 535.1,783.7 534.6,786.5 534.2,789.8 533.8,791.5 533.4,796.3 533.0,799.6 531.5,798.6 530.0,798.4 528.4,797.7 526.7,793.9 526.4,792.7 526.1,789.8 525.8,787.6 525.5,782.6 525.2,781.1 524.9,775.6 524.5,776.2 524.2,769.5 523.9,768.3 523.6,766.1 523.3,761.2 523.0,759.6 522.3,758.3 521.6,754.9 520.9,751.4 520.1,748.6 519.4,745.6 518.7,742.9 518.0,741.5 516.3,741.9 514.7,746.2 513.0,747.8 510.9,747.7 508.8,748.6 506.7,751.0 506.1,748.7 505.5,743.8 504.9,740.1 504.2,740.0 503.6,736.8 503.0,735.6 502.5,731.9 502.0,727.6 501.5,726.1 501.0,721.3 500.5,720.4 500.0,715.7 499.5,712.4 499.0,710.4 498.5,707.3 498.0,704.5 496.4,709.9 494.8,709.9 493.2,712.3 491.6,714.9 490.0,717.4 489.5,719.9 489.0,720.0 488.5,722.8 488.0,729.1 487.5,731.1 487.0,733.5 486.5,736.7 486.0,737.4 485.5,741.5 485.0,743.2 484.6,748.1 484.3,750.4 483.9,750.6 483.5,755.7 483.2,756.7 482.8,762.4 482.4,763.5 482.1,765.1 481.7,770.6 481.1,771.4 480.6,775.5 480.0,778.5 479.5,781.5 478.9,784.5 478.4,787.9 477.8,788.4 477.3,793.6 476.7,793.6 476.4,798.6 476.1,799.7 475.8,800.4 475.5,805.1 475.2,807.9 474.9,809.5 474.5,813.3 474.2,817.7 473.9,818.1 473.6,822.9 473.3,825.1 473.0,826.8 472.8,829.1 472.5,832.7 472.3,836.0 472.0,838.9 471.8,841.1 471.5,845.5 471.3,847.2 471.0,852.1 470.8,853.9 468.8,853.7 466.7,850.5 466.5,853.6 466.2,856.0 466.0,858.2 465.7,860.6 465.5,864.2 465.2,866.8 465.0,869.7 464.4,873.1 463.8,876.4 463.1,876.2 462.5,881.2 461.6,877.9 460.7,875.0 459.8,875.4 458.9,870.5 458.0,868.9 457.8,867.9 457.5,863.8 457.2,861.3 457.0,857.6 456.8,855.3 456.5,850.0 456.2,847.4 456.0,848.8 455.8,843.0 455.5,840.5 455.2,838.1 455.0,836.1 454.6,831.0 454.3,829.6 453.9,825.0 453.5,823.8 453.2,820.7 452.8,817.2 452.4,816.8 452.1,813.8 451.7,809.6 451.4,808.4 451.1,804.7 450.8,803.5 450.5,796.8 450.2,798.9 449.9,792.1 449.5,790.3 449.2,788.0 448.9,784.0 448.6,781.5 448.3,778.3 448.0,777.7 447.9,773.0 447.8,772.8 447.7,768.2 447.6,767.1 447.5,764.1 447.4,759.3 447.2,758.9 447.1,756.3 447.0,750.2 446.9,749.7 446.8,747.4 446.7,744.9 444.5,741.7 442.2,741.6 440.0,742.9 439.0,744.7 438.0,749.3 437.0,749.0 436.0,753.0 435.0,756.4 434.0,757.2 433.0,760.4 431.5,761.6 430.0,759.0 429.7,762.7 429.3,767.4 429.0,768.8 428.7,770.3 428.3,773.3 428.0,778.5 427.6,780.3 427.1,782.5 426.7,785.3 426.2,788.5 425.8,793.0 425.3,796.8 424.9,795.6 424.4,800.2 424.0,803.3 423.6,800.5 423.1,799.6 422.7,796.8 422.2,792.1 421.8,788.8 421.3,785.7 420.9,784.9 420.4,780.8 420.0,777.4 419.7,774.9 419.4,770.3 419.2,770.2 418.9,768.2 418.6,765.4 418.4,759.1 418.1,757.1 417.8,755.6 417.5,751.0 417.2,748.3 417.0,746.7 416.7,743.1 414.9,743.4 413.0,741.3 412.7,738.3 412.4,734.7 412.2,732.6 411.9,728.8 411.6,729.1 411.4,724.5 411.1,720.7 410.8,719.0 410.2,718.7 409.7,724.5 409.1,724.9 408.6,730.0 408.0,732.5 407.8,735.5 407.6,735.7 407.4,742.6 407.2,740.9 407.1,747.9 406.9,746.6 406.7,751.4 406.5,754.3 406.3,758.2 406.1,758.7 405.9,761.5 405.8,766.0 405.6,767.9 405.4,770.6 405.2,772.4 405.0,777.3 403.4,778.8 401.7,777.9 401.6,772.1 401.5,771.6 401.5,769.0 401.4,765.5 401.3,763.2 401.2,761.0 401.1,756.3 401.1,752.8 401.0,752.0 400.9,746.5 400.8,744.8 400.7,742.6 400.6,738.8 400.6,737.2 400.5,736.2 400.4,730.8 400.3,729.3 400.2,724.6 400.2,722.6 400.1,719.0 400.0,717.1 399.7,713.0 399.4,710.2 399.1,707.6 398.8,703.7 398.5,702.1 398.2,697.9 397.9,697.1 397.6,693.4 397.4,690.5 397.1,686.2 396.8,682.3 396.5,681.2 396.2,677.7 395.9,676.3 395.6,672.8 395.3,670.2 395.0,667.9 394.4,663.9 393.8,660.9 393.2,656.9 392.7,657.0 392.1,651.6 391.5,650.3 390.9,647.1 390.3,642.2 389.8,640.9 389.2,638.3 388.6,635.4 388.0,633.9 387.6,632.6 387.2,628.8 386.8,624.9 386.3,623.8 385.9,620.7 385.5,616.9 385.1,614.0 384.7,609.2 384.2,606.7 383.8,605.1 383.4,601.9 383.0,598.8 382.8,599.0 382.6,593.3 382.4,589.6 382.2,586.0 382.0,585.2 381.8,582.6 381.6,580.2 381.4,578.5 381.2,573.8 381.0,572.2 380.8,567.3 380.6,563.7 380.4,562.1 380.2,558.6 380.0,555.6 379.8,551.6 379.6,550.5 379.4,548.5 379.3,544.3 379.1,540.8 378.9,538.5 378.7,534.5 378.5,534.5 378.4,529.7 378.2,528.2 378.0,524.0 377.8,519.7 377.6,519.6 377.4,516.2 377.2,510.9 377.1,507.4 376.9,505.1 376.7,504.5 376.2,500.8 375.8,497.0 375.3,495.0 374.9,492.6 374.4,489.2 374.0,487.5 373.5,483.4 373.4,481.2 373.3,479.8 373.2,476.3 373.0,472.4 372.9,468.0 372.8,465.3 372.7,463.6 372.6,462.1 372.5,459.5 372.3,453.8 372.2,452.4 372.1,450.7 372.0,446.2 371.8,449.0 371.6,451.8 371.4,453.5 371.2,456.3 371.1,458.9 370.9,463.7 370.7,466.7 370.5,467.7 370.3,466.4 370.2,464.2 370.0,459.5 369.8,458.3 369.7,454.9 369.5,452.2 369.3,450.0 369.2,446.1 369.0,443.9 368.8,447.4 368.6,447.2 368.5,453.0 368.3,453.8 368.1,457.2 367.9,460.9 367.7,464.3 367.5,465.2 367.4,467.2 367.2,470.1 367.0,473.8 366.8,470.2 366.6,467.0 366.5,465.6 366.3,461.2 366.1,461.1 365.9,457.9 365.7,454.9 365.5,452.7 365.4,449.9 365.2,447.5 365.0,443.3 364.8,444.8 364.6,450.2 364.3,452.3 364.1,454.1 363.9,458.8 363.7,461.6 363.4,465.0 363.2,464.5 363.0,468.2 362.9,464.6 362.7,465.2 362.6,460.6 362.5,458.4 362.4,454.9 362.2,453.6 362.1,450.2 362.0,447.9 361.8,443.6 361.7,441.7 361.4,443.1 361.1,446.7 360.8,450.5 360.5,451.9 360.2,454.6 359.8,458.9 359.5,460.7 359.2,462.8 358.9,466.1 358.6,469.7 358.3,473.6 358.2,475.2 358.1,479.1 358.0,483.4 357.9,484.6 357.9,488.2 357.8,491.8 357.7,494.1 357.6,495.5 357.5,498.3 357.4,501.3 357.3,507.8 357.2,508.8 357.1,512.3 357.1,514.3 357.0,518.8 356.9,520.7 356.8,523.5 356.7,526.4 356.4,524.8 356.0,523.2 355.7,518.8 355.4,515.7 355.0,514.2 354.7,511.2 354.3,508.7 354.0,505.9 353.8,503.0 353.6,501.5 353.4,496.3 353.2,494.3 353.0,492.6 352.7,489.9 352.5,484.6 352.3,483.7 352.1,480.3 351.9,478.4 351.7,474.7 351.2,479.6 350.8,480.9 350.4,482.0 349.9,486.4 349.4,486.9 349.0,491.4 348.8,487.6 348.5,485.2 348.2,482.3 348.0,478.1 347.8,475.4 347.5,473.7 347.2,470.6 347.0,467.7 346.8,469.4 346.5,473.1 346.2,477.9 346.0,478.7 345.8,481.1 345.5,482.9 345.2,485.8 345.0,489.7 344.9,486.1 344.8,484.7 344.7,480.8 344.5,478.3 344.4,475.9 344.3,470.7 344.2,468.4 344.1,468.3 344.0,462.3 343.8,461.8 343.7,457.5 343.6,454.6 343.5,453.1 343.3,452.7 343.2,457.7 343.0,460.4 342.8,463.4 342.7,466.3 342.5,467.5 342.3,471.9 342.2,474.1 342.0,477.1 341.9,474.3 341.8,470.6 341.7,469.8 341.7,464.4 341.6,462.4 341.5,459.0 341.4,455.7 341.3,454.5 341.2,452.1 341.1,448.2 341.1,443.6 341.0,441.6 340.9,438.8 340.8,436.4 340.7,438.2 340.6,443.3 340.5,443.3 340.4,449.5 340.3,450.6 340.2,452.8 340.1,455.5 340.0,458.9 339.9,462.1 339.8,464.9 339.7,468.4 339.6,470.3 339.5,473.9 339.4,476.2 339.3,478.3 339.2,481.5 339.1,485.9 339.0,486.9 338.9,491.1 338.8,492.4 338.7,497.6 338.6,498.9 338.5,502.1 338.4,505.4 338.3,507.2 338.2,512.8 338.1,512.6 338.0,517.0 337.9,519.3 337.8,521.9 337.7,525.0 337.6,528.6 337.5,530.1 337.4,535.7 337.3,536.4 337.2,540.7 337.1,543.1 337.0,545.1 336.9,547.2 336.8,550.3 336.7,555.3 336.5,557.3 336.4,560.6 336.2,564.0 336.1,565.0 335.9,567.9 335.8,570.3 335.6,573.2 335.5,576.2 335.3,579.5 335.2,581.8 335.0,584.0 334.8,588.0 334.6,589.2 334.5,590.7 334.3,596.4 334.1,598.4 333.9,599.7 333.7,602.9 333.5,605.2 333.4,609.3 333.2,611.1 333.0,614.6 332.9,616.2 332.8,620.1 332.8,622.2 332.7,625.9 332.6,628.0 332.5,631.5 332.5,635.2 332.4,637.1 332.3,640.5 332.2,644.1 332.2,645.4 332.1,647.9 332.0,651.8 331.9,654.0 331.9,658.5 331.8,660.6 331.7,663.6 331.6,665.4 331.6,670.4 331.5,672.0 331.4,675.7 331.4,677.4 331.3,680.9 331.3,682.6 331.2,686.8 331.1,689.3 331.1,694.2 331.0,695.2 330.9,697.6 330.9,701.7 330.8,703.7 330.8,706.3 330.7,708.4 330.6,711.9 330.6,716.8 330.5,719.1 330.3,722.9 330.1,724.5 329.9,726.9 329.6,729.8 329.4,733.2 329.2,735.0 329.0,738.7 328.9,736.3 328.7,732.1 328.6,729.0 328.4,727.1 328.3,724.4 328.1,720.4 328.0,716.4 327.9,714.6 327.7,713.5 327.6,709.7 327.4,705.1 327.3,703.1 327.1,699.5 327.0,697.7 326.8,700.8 326.5,702.8 326.2,704.4 326.0,707.9 325.8,710.6 325.5,713.3 325.2,716.8 325.0,718.5 324.9,716.0 324.8,714.0 324.8,709.6 324.7,708.1 324.6,704.0 324.5,702.6 324.4,697.8 324.3,694.2 324.2,692.2 324.2,688.5 324.1,687.5 324.0,684.2 323.9,680.6 323.8,679.3 323.8,675.9 323.7,671.0 323.6,669.9 323.5,665.8 323.4,668.2 323.2,671.2 323.1,673.0 323.0,677.6 322.9,680.2 322.8,682.9 322.6,684.6 322.5,689.4 322.4,690.1 322.2,693.7 322.1,696.4 322.0,698.8 321.9,696.6 321.8,692.5 321.7,690.9 321.6,686.3 321.5,683.7 321.4,680.5 321.3,679.2 321.2,675.3 321.2,672.6 321.1,669.6 321.0,667.4 320.9,663.3 320.8,660.4 320.7,658.2 320.6,655.6 320.5,652.0 320.4,648.4 320.3,646.2 320.3,644.1 320.2,641.1 320.1,637.5 320.0,633.3 320.0,631.1 319.9,627.7 319.8,625.2 319.7,622.0 319.7,620.5 319.6,616.7 319.5,613.6 319.4,610.4 319.4,607.7 319.3,604.9 319.2,602.2 319.1,605.3 319.1,608.6 319.0,610.4 319.0,613.6 318.9,617.0 318.9,619.8 318.8,621.7 318.7,623.6 318.7,627.2 318.6,630.2 318.6,632.3 318.5,635.5 318.5,637.5 318.4,639.7 318.4,644.5 318.4,646.9 318.4,650.7 318.3,653.0 318.3,656.6 318.3,659.6 318.2,661.3 318.2,664.9 318.2,667.3 318.2,671.1 318.1,673.8 318.1,675.6 318.1,681.1 318.0,682.2 318.0,685.2 318.0,687.8 318.0,692.0 317.9,693.9 317.9,697.9 317.9,701.4 317.8,703.5 317.8,706.9 317.8,710.0 317.8,713.3 317.7,716.1 317.7,718.5 317.7,721.1 317.6,723.2 317.6,726.0 317.6,730.8 317.6,732.2 317.5,734.9 317.5,739.4 317.4,736.6 317.3,734.6 317.2,730.1 317.1,728.0 317.0,725.1 316.9,721.7 316.8,719.3 316.7,716.1 316.6,713.3 316.5,710.0 316.4,713.8 316.3,716.0 316.2,718.3 316.1,722.9 316.0,724.6 315.9,728.6 315.8,730.6 315.6,733.6 315.5,737.0 315.4,739.2 315.3,741.2 315.2,745.9 315.1,748.9 315.0,751.0 314.9,749.1 314.8,744.3 314.6,742.8 314.5,740.8 314.4,736.2 314.2,732.9 314.1,732.0 314.0,728.7 313.9,724.9 313.8,722.8 313.6,718.9 313.5,715.1 313.4,713.1 313.2,711.0 313.1,709.4 313.0,705.4 312.9,708.4 312.7,711.8 312.6,714.2 312.5,715.8 312.3,719.9 312.2,722.0 312.1,725.5 311.9,728.6 311.8,731.3 311.7,732.6 311.5,734.6 311.4,738.4 311.3,740.4 311.1,743.6 311.0,747.1 310.9,743.9 310.8,741.8 310.6,737.8 310.5,735.2 310.4,733.4 310.2,730.7 310.1,727.3 310.0,722.6 309.9,720.0 309.8,717.8 309.6,715.1 309.5,712.7 309.4,708.5 309.2,707.0 309.1,702.2 309.0,699.6 308.9,701.4 308.7,706.5 308.6,707.5 308.4,709.8 308.3,715.1 308.1,717.0 308.0,720.1 307.9,722.5 307.7,724.0 307.6,728.2 307.4,731.6 307.3,733.9 307.1,736.5 307.0,739.4 306.9,736.5 306.9,733.9 306.8,730.2 306.8,726.3 306.7,724.4 306.6,722.3 306.6,719.5 306.5,715.4 306.5,713.4 306.4,708.7 306.3,706.5 306.3,703.2 306.2,699.7 306.2,697.4 306.1,694.3 306.0,691.8 306.0,689.5 305.9,685.6 305.9,682.0 305.8,679.3 305.7,678.1 305.7,673.6 305.6,672.3 305.6,668.6 305.5,665.1 305.3,668.5 305.2,669.6 305.0,672.4 304.8,677.0 304.7,679.0 304.5,681.0 304.3,683.9 304.2,687.5 304.0,689.1 303.9,686.0 303.7,685.0 303.6,681.9 303.5,676.9 303.4,675.8 303.2,670.8 303.1,670.7 303.0,666.8 302.9,663.6 302.7,660.4 302.6,657.4 302.5,654.4 302.3,651.4 302.2,648.2 302.1,646.6 302.0,643.9 301.8,640.8 301.7,638.0 301.5,641.9 301.4,643.8 301.2,647.0 301.1,649.6 300.9,651.5 300.8,654.6 300.6,657.0 300.5,659.2 300.3,664.6 300.2,665.4 300.0,668.9 299.4,671.7 298.9,674.2 298.3,676.5 297.8,679.6 297.2,682.4 296.7,685.6 296.1,688.3 295.6,691.5 295.0,694.0 294.4,697.0 293.8,700.2 293.2,701.8 292.7,705.2 292.1,707.4 291.5,712.2 290.9,714.8 290.3,717.8 289.8,720.8 289.2,723.5 288.6,725.4 288.0,729.2 287.7,725.5 287.4,722.7 287.2,719.2 286.9,716.7 286.6,715.0 286.3,711.9 286.1,709.3 285.8,705.2 285.5,703.2 285.2,699.8 284.9,697.5 284.7,694.9 284.4,691.4 284.1,689.5 283.8,685.0 283.6,683.2 283.3,680.0 283.0,677.4 282.7,674.7 282.3,670.9 282.0,669.5 281.7,666.2 281.3,662.3 281.0,659.8 280.7,657.5 280.3,655.2 280.0,651.8 279.0,650.6 278.0,646.8 277.0,644.3 276.0,641.8 275.0,638.2 274.6,641.4 274.2,643.3 273.7,647.0 273.3,648.1 272.9,651.4 272.5,655.7 272.1,657.5 271.6,660.1 271.2,663.3 270.8,666.3 270.3,663.5 269.9,660.7 269.4,658.1 269.0,655.5 268.5,651.9 268.4,648.8 268.2,647.2 268.1,644.2 268.0,640.0 267.8,637.5 267.7,635.8 267.5,632.3 267.4,628.5 267.3,626.3 267.1,623.1 267.0,620.0 266.8,622.1 266.6,625.3 266.4,627.2 266.1,630.7 265.9,633.2 265.7,635.4 265.5,639.2 265.3,636.2 265.2,632.7 265.0,630.8 264.8,627.5 264.7,626.2 264.5,621.2 264.3,619.4 264.2,616.1 264.0,613.7 263.8,610.4 263.7,607.5 263.5,604.7 263.3,607.8 263.1,611.4 262.9,613.5 262.6,615.3 262.4,620.0 262.2,622.6 262.0,624.2 261.9,621.6 261.8,618.2 261.7,616.0 261.6,612.6 261.5,610.3 261.4,608.2 261.4,604.5 261.3,600.5 261.2,599.9 261.1,596.2 261.0,594.2 260.9,591.7 260.8,587.7 260.3,590.7 259.9,593.2 259.4,595.8 259.0,600.2 258.5,602.3 258.4,604.2 258.2,606.8 258.1,610.5 257.9,613.5 257.8,615.1 257.6,618.7 257.4,622.0 257.3,623.3 257.1,626.4 257.0,628.8 256.8,632.6 256.7,634.8 255.0,637.4 254.8,634.9 254.6,631.0 254.3,628.8 254.1,626.7 253.9,623.7 253.7,622.1 253.4,619.3 253.2,616.2 253.0,612.5 252.8,616.4 252.6,619.6 252.3,621.9 252.1,623.8 251.9,626.4 251.7,630.7 251.4,632.4 251.2,637.0 251.0,639.4 250.8,636.1 250.5,633.8 250.2,631.3 250.0,628.6 249.8,625.7 249.5,621.8 249.2,619.9 249.0,617.1 248.8,620.0 248.7,621.2 248.6,624.4 248.4,627.6 248.2,630.5 248.1,633.0 247.9,636.2 247.8,638.7 247.7,640.9 247.5,644.2 247.3,641.9 247.2,638.4 247.0,635.1 246.8,632.4 246.7,629.5 246.5,628.1 246.3,624.4 246.2,623.1 246.0,619.5 245.8,623.2 245.6,624.8 245.4,628.3 245.1,631.5 244.9,634.4 244.7,635.5 244.5,639.4 244.4,635.1 244.2,632.9 244.1,631.3 244.0,628.3 243.8,625.0 243.7,622.5 243.5,618.3 243.4,615.6 243.3,611.8 243.1,610.7 243.0,607.2 242.7,603.1 242.4,602.2 242.1,598.8 241.7,596.8 241.4,592.5 241.1,591.5 240.8,587.6 240.4,589.1 240.1,593.5 239.7,596.3 239.4,599.9 239.0,602.0 238.9,605.5 238.7,608.9 238.6,610.5 238.5,613.0 238.3,617.1 238.2,618.1 238.1,621.7 237.9,625.0 237.8,629.6 237.6,630.5 237.5,634.9 237.4,636.5 237.2,640.9 237.1,643.7 237.0,645.2 236.8,649.7 236.7,651.6 236.5,654.2 236.3,657.0 236.0,661.0 235.8,663.6 235.6,666.5 235.4,669.4 235.2,672.3 235.0,675.6 234.7,678.0 234.5,681.7 234.3,684.6 234.1,686.6 233.9,690.9 233.7,693.4 233.4,696.5 233.2,698.6 233.0,701.6 232.8,705.6 232.7,707.2 232.6,711.0 232.4,712.6 232.2,716.7 232.1,719.5 231.9,722.3 231.8,725.7 231.7,727.6 231.5,730.2 231.3,733.3 231.2,735.8 231.1,738.5 230.9,741.0 230.8,743.8 230.6,747.1 230.4,751.4 230.3,753.8 230.2,755.2 230.0,758.5 229.8,760.9 229.6,765.3 229.4,767.5 229.2,771.0 229.0,773.1 228.8,776.5 228.6,779.2 228.4,781.9 228.3,784.2 228.1,788.7 227.9,791.7 227.7,795.7 227.5,797.2 227.3,801.6 227.1,803.7 226.9,806.1 226.7,809.2 226.4,810.8 226.1,815.8 225.9,816.5 225.6,821.7 225.3,824.1 225.0,826.8 224.8,830.5 224.5,831.3 224.2,835.8 223.9,837.6 223.7,840.4 223.4,844.5 223.1,846.8 222.8,850.3 222.6,853.4 222.3,855.8 222.0,858.7 221.2,857.9 220.4,853.7 219.6,850.9 218.8,849.1 218.0,846.6 217.9,843.0 217.7,841.8 217.6,838.8 217.4,836.3 217.3,832.2 217.1,829.3 217.0,826.6 216.9,824.9 216.7,820.8 216.6,819.3 216.4,814.9 216.3,813.4 216.1,808.9 216.0,806.9 215.5,809.3 215.0,812.5 214.5,814.7 214.0,818.2 213.5,821.3 213.0,823.1 212.5,826.0 212.0,829.1 211.5,827.6 211.0,824.3 210.5,822.0 210.0,819.5 209.5,815.6 209.0,813.7 208.5,809.8 208.0,807.2 207.5,810.4 207.0,812.9 206.5,816.5 206.0,817.3 205.5,821.7 205.0,823.8 204.7,821.1 204.3,819.2 204.0,816.3 203.7,812.7 203.3,812.7 203.0,808.7 202.9,807.3 202.8,804.2 202.7,800.6 202.6,797.0 202.5,795.3 202.4,792.5 202.3,788.6 202.3,786.3 202.2,784.2 202.1,780.9 202.0,777.3 201.9,773.7 201.8,771.0 201.7,768.7 201.6,766.8 201.6,762.5 201.5,760.2 201.4,757.4 201.4,754.2 201.3,752.7 201.2,749.0 201.1,745.9 201.1,742.9 201.0,740.1 200.9,737.5 200.9,735.7 200.8,732.3 200.1,734.0 199.4,737.6 198.7,739.4 198.0,742.1 197.7,744.2 197.3,746.6 197.0,750.0 196.7,753.3 196.3,756.4 196.0,759.4 195.7,762.0 195.3,763.8 195.0,767.0 194.6,769.8 194.3,772.9 193.9,776.2 193.5,776.7 193.2,780.4 192.8,783.7 192.4,787.0 192.1,789.7 191.7,792.0 191.6,793.5 191.6,798.4 191.5,801.4 191.5,804.3 191.4,806.5 191.4,808.8 191.3,812.6 191.3,815.9 191.2,817.4 191.2,821.9 191.1,825.1 191.1,828.3 191.0,830.4 191.0,833.1 190.9,835.8 190.9,839.9 190.8,841.5 190.5,845.6 190.2,847.0 189.9,850.7 189.6,852.8 189.3,856.4 189.0,857.5 188.7,860.8 187.7,859.6 186.8,857.5 185.8,854.8 185.5,853.1 185.3,849.0 185.0,846.5 184.8,844.8 184.5,840.6 184.3,838.8 184.0,836.7 183.8,832.6 183.5,829.4 183.3,828.3 183.0,824.8 182.6,821.2 182.3,818.9 181.9,815.5 181.5,813.8 181.1,809.1 180.8,806.6 180.4,805.0 180.0,801.2 179.7,798.6 179.3,795.3 178.9,791.8 178.6,789.8 178.2,787.6 177.8,784.4 177.4,781.7 177.1,777.9 176.7,774.5 176.5,772.5 176.3,769.7 176.1,766.0 175.9,763.1 175.7,761.7 175.5,758.8 175.3,754.3 175.2,751.2 175.0,749.8 174.8,745.5 174.6,744.1 174.4,741.7 174.2,738.2 174.0,734.7 173.9,731.7 173.7,729.9 173.6,727.4 173.4,722.6 173.3,721.8 173.2,717.8 173.0,714.3 172.9,711.2 172.7,710.3 172.6,707.1 172.5,704.0 172.3,701.7 172.2,698.0 172.1,693.7 171.9,692.2 171.8,689.1 171.6,685.9 171.5,682.9 171.4,679.3 171.2,678.2 171.1,674.7 170.9,672.0 170.8,669.0 170.7,666.9 170.6,661.9 170.6,659.9 170.5,656.8 170.4,653.1 170.3,651.3 170.3,649.2 170.2,645.9 170.1,641.9 170.0,639.2 169.9,635.9 169.9,633.1 169.8,630.5 169.7,627.4 169.6,625.1 169.5,622.6 169.5,619.5 169.4,616.1 169.3,612.2 169.2,610.2 169.2,608.0 169.1,603.6 169.0,602.0 168.8,598.8 168.5,596.6 168.2,594.0 168.0,591.6 167.7,588.8 167.4,585.0 167.2,583.1 166.9,581.2 166.6,576.2 166.4,574.6 166.1,572.7 165.8,568.5 165.5,572.0 165.2,575.2 164.9,575.7 164.6,581.0 164.2,582.0 163.9,586.4 163.6,587.5 163.3,592.2 163.0,594.4 162.7,590.6 162.3,588.6 162.0,585.6 161.7,581.9 161.3,578.4 161.0,576.4 160.8,577.8 160.5,581.3 160.2,585.8 160.0,588.2 159.8,590.7 159.5,594.4 159.2,596.0 159.0,599.0 158.8,596.1 158.6,592.8 158.3,590.1 158.1,587.3 157.9,585.2 157.7,583.0 157.4,579.6 157.2,577.2 157.0,574.3 156.7,576.9 156.3,579.5 156.0,583.0 155.7,585.0 155.3,588.4 155.0,591.8 154.8,595.4 154.6,596.1 154.5,599.8 154.3,604.1 154.1,605.6 153.9,610.6 153.7,612.4 153.5,614.8 153.4,618.0 153.2,620.5 153.0,624.1 152.9,622.4 152.8,619.4 152.7,615.0 152.5,612.7 152.4,609.4 152.3,606.5 152.2,602.5 152.1,600.5 152.0,597.9 151.8,595.7 151.7,592.6 151.6,590.4 151.5,586.4 151.4,582.4 151.2,581.2 151.1,578.2 151.0,574.4 150.9,571.4 150.8,569.1 150.6,567.1 150.5,564.3 150.4,561.2 150.2,557.9 150.1,553.5 150.0,551.5 149.8,549.7 149.5,544.7 149.3,543.7 149.0,539.8 148.8,536.8 148.5,534.7 148.3,531.6 148.0,528.7 147.8,526.7 147.5,521.9 147.3,519.2 147.0,517.6 146.8,512.4 146.5,509.8 146.3,507.7 146.0,505.7 145.8,501.8 145.6,499.3 145.3,495.8 145.1,493.6 144.8,489.8 144.6,487.5 144.4,483.6 144.1,481.6 143.9,477.5 143.6,476.4 143.4,471.9 143.1,468.2 142.9,465.9 142.7,464.4 142.4,460.3 142.2,457.2 141.9,453.8 141.7,452.1 141.5,448.0 141.4,444.8 141.2,444.0 141.1,439.1 140.9,437.3 140.7,434.2 140.6,431.2 140.4,428.5 140.3,424.6 140.1,423.2 140.0,418.4 139.8,415.2 139.6,413.7 139.5,409.9 139.3,408.4 139.2,403.7 139.0,401.9 138.0,401.3" fill="#3bc2a3" stroke="#3bc2a3" stroke-width="4.2" stroke-linejoin="round"/>
<!--/SERIES-->
<line x1="97" y1="1155.5" x2="165" y2="1155.5" stroke="#0a9be1" stroke-width="5.2"/>
<line x1="374" y1="1155.5" x2="441.5" y2="1155.5" stroke="#b23655" stroke-width="5.2"/>
<line x1="566" y1="1155.5" x2="633" y2="1155.5" stroke="#cfb562" stroke-width="5.2"/>
<line x1="745" y1="1155.5" x2="812.5" y2="1155.5" stroke="#30bf9d" stroke-width="5.2"/>
</svg>
<div class="t lg" style="left:169px;letter-spacing:0.2px">North America</div>
<div class="t lg" style="left:446px">Europe</div>
<div class="t lg" style="left:638.2px;letter-spacing:0.2px">Japan</div>
<div class="t lg" style="left:816px">Asia ex-Japan (RHS)</div>
</div>
</body>
</html>
